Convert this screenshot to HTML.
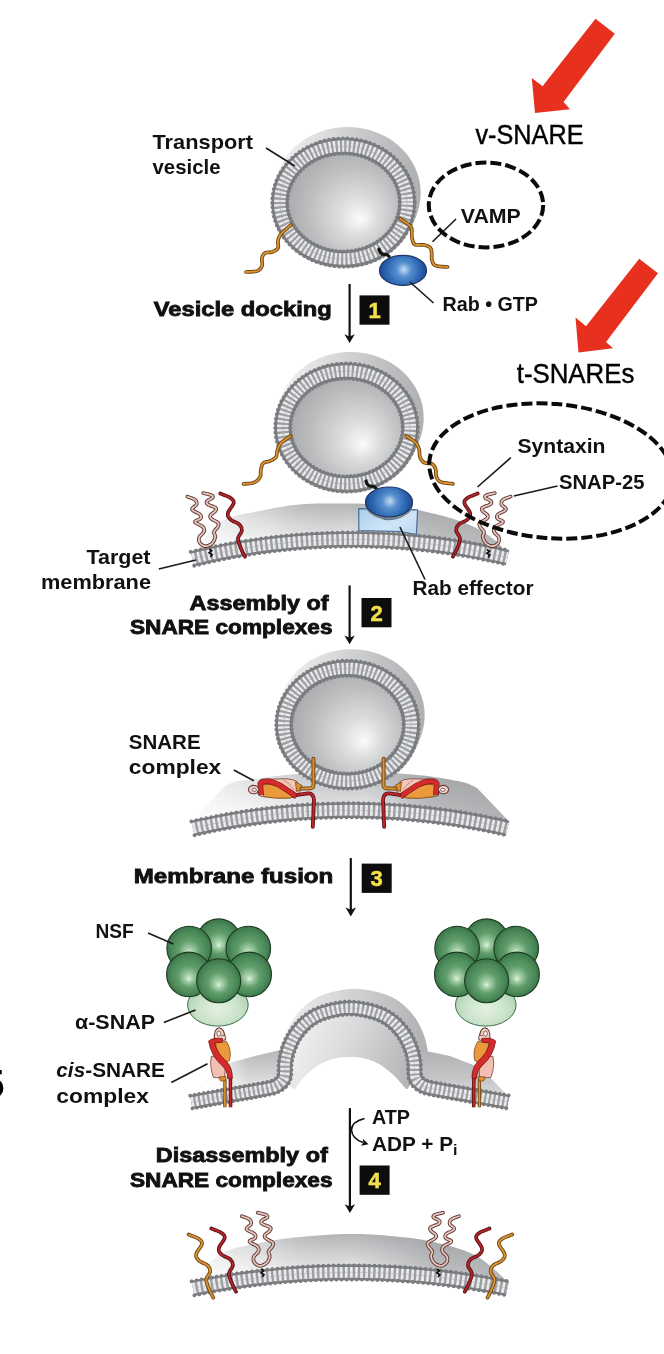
<!DOCTYPE html>
<html><head><meta charset="utf-8"><title>SNARE</title>
<style>html,body{margin:0;padding:0;background:#fff}svg{display:block;will-change:transform}</style></head>
<body>
<svg width="664" height="1354" viewBox="0 0 664 1354" font-family="'Liberation Sans', sans-serif">
<defs><linearGradient id="vs1" gradientUnits="userSpaceOnUse" x1="270.3" y1="0" x2="420.7" y2="0"><stop offset="0" stop-color="#f4f4f4"/><stop offset=".35" stop-color="#dcdddd"/><stop offset=".7" stop-color="#c2c3c4"/><stop offset="1" stop-color="#aeb0b2"/></linearGradient><radialGradient id="vi1" gradientUnits="userSpaceOnUse" cx="349.5" cy="206.5" r="76.9" fx="360.5" fy="219.5"><stop offset="0" stop-color="#fbfbfb"/><stop offset=".25" stop-color="#dcdddd"/><stop offset=".6" stop-color="#bcbdbf"/><stop offset="1" stop-color="#9d9fa1"/></radialGradient><radialGradient id="rb1" gradientUnits="userSpaceOnUse" cx="403" cy="270.4" r="26" fx="404" fy="269.4"><stop offset="0" stop-color="#c6dcf3"/><stop offset=".28" stop-color="#568fcf"/><stop offset=".62" stop-color="#2d68b4"/><stop offset="1" stop-color="#183f84"/></radialGradient><linearGradient id="vs2" gradientUnits="userSpaceOnUse" x1="273.3" y1="0" x2="423.7" y2="0"><stop offset="0" stop-color="#f4f4f4"/><stop offset=".35" stop-color="#dcdddd"/><stop offset=".7" stop-color="#c2c3c4"/><stop offset="1" stop-color="#aeb0b2"/></linearGradient><radialGradient id="vi2" gradientUnits="userSpaceOnUse" cx="352.5" cy="431.5" r="76.9" fx="363.5" fy="444.5"><stop offset="0" stop-color="#fbfbfb"/><stop offset=".25" stop-color="#dcdddd"/><stop offset=".6" stop-color="#bcbdbf"/><stop offset="1" stop-color="#9d9fa1"/></radialGradient><linearGradient id="sl2" gradientUnits="userSpaceOnUse" x1="0" y1="503" x2="0" y2="548"><stop offset="0" stop-color="#b2b4b6"/><stop offset="0.45" stop-color="#d2d3d4"/><stop offset="1" stop-color="#f4f4f4"/></linearGradient><linearGradient id="sl2o" gradientUnits="userSpaceOnUse" x1="195" y1="0" x2="505" y2="0"><stop offset="0" stop-color="#ffffff" stop-opacity="0.75"/><stop offset="0.25" stop-color="#ffffff" stop-opacity="0.25"/><stop offset="0.5" stop-color="#9a9c9f" stop-opacity="0"/><stop offset="0.75" stop-color="#8e9093" stop-opacity="0.45"/><stop offset="1" stop-color="#8e9093" stop-opacity="0.6"/></linearGradient><linearGradient id="ef" x1="0" y1="0" x2="1" y2="1"><stop offset="0" stop-color="#a9cdea"/><stop offset=".6" stop-color="#cfe5f7"/><stop offset="1" stop-color="#b7d6ef"/></linearGradient><radialGradient id="rb2" gradientUnits="userSpaceOnUse" cx="389" cy="502" r="26" fx="390" fy="501"><stop offset="0" stop-color="#c6dcf3"/><stop offset=".28" stop-color="#568fcf"/><stop offset=".62" stop-color="#2d68b4"/><stop offset="1" stop-color="#183f84"/></radialGradient><linearGradient id="sl3" gradientUnits="userSpaceOnUse" x1="0" y1="772" x2="0" y2="822"><stop offset="0" stop-color="#bcbec0"/><stop offset="0.5" stop-color="#d8d9da"/><stop offset="1" stop-color="#f6f6f6"/></linearGradient><linearGradient id="sl3o" gradientUnits="userSpaceOnUse" x1="195" y1="0" x2="505" y2="0"><stop offset="0" stop-color="#ffffff" stop-opacity="0.8"/><stop offset="0.3" stop-color="#ffffff" stop-opacity="0.3"/><stop offset="0.55" stop-color="#9a9c9f" stop-opacity="0"/><stop offset="0.75" stop-color="#8e9093" stop-opacity="0.5"/><stop offset="1" stop-color="#8e9093" stop-opacity="0.65"/></linearGradient><linearGradient id="vs3" gradientUnits="userSpaceOnUse" x1="274.3" y1="0" x2="424.7" y2="0"><stop offset="0" stop-color="#f4f4f4"/><stop offset=".35" stop-color="#dcdddd"/><stop offset=".7" stop-color="#c2c3c4"/><stop offset="1" stop-color="#aeb0b2"/></linearGradient><radialGradient id="vi3" gradientUnits="userSpaceOnUse" cx="353.5" cy="728.7" r="76.9" fx="364.5" fy="741.7"><stop offset="0" stop-color="#fbfbfb"/><stop offset=".25" stop-color="#dcdddd"/><stop offset=".6" stop-color="#bcbdbf"/><stop offset="1" stop-color="#9d9fa1"/></radialGradient><radialGradient id="nsf" cx=".5" cy=".5" r=".5" fx=".5" fy=".6"><stop offset="0" stop-color="#e2f2e3"/><stop offset=".16" stop-color="#a6d0ab"/><stop offset=".48" stop-color="#609d6b"/><stop offset=".8" stop-color="#4b8959"/><stop offset="1" stop-color="#3b7448"/></radialGradient><radialGradient id="asnap" cx=".5" cy=".6" r=".6"><stop offset="0" stop-color="#e3f1e2"/><stop offset=".6" stop-color="#c9e2c9"/><stop offset="1" stop-color="#a8cfab"/></radialGradient><linearGradient id="dm" gradientUnits="userSpaceOnUse" x1="276" y1="0" x2="430" y2="0"><stop offset="0" stop-color="#efefef"/><stop offset=".4" stop-color="#d8d9da"/><stop offset=".75" stop-color="#c0c1c3"/><stop offset="1" stop-color="#adafb1"/></linearGradient><linearGradient id="sl4a" gradientUnits="userSpaceOnUse" x1="0" y1="1050" x2="0" y2="1094"><stop offset="0" stop-color="#b4b6b8"/><stop offset="0.5" stop-color="#d0d1d2"/><stop offset="1" stop-color="#f0f0f0"/></linearGradient><linearGradient id="sl4ao" gradientUnits="userSpaceOnUse" x1="214" y1="0" x2="248" y2="0"><stop offset="0" stop-color="#ffffff" stop-opacity="1"/><stop offset="0.5" stop-color="#ffffff" stop-opacity="0.45"/><stop offset="1" stop-color="#ffffff" stop-opacity="0"/></linearGradient><linearGradient id="sl4b" gradientUnits="userSpaceOnUse" x1="0" y1="1050" x2="0" y2="1094"><stop offset="0" stop-color="#b0b2b4"/><stop offset="0.6" stop-color="#c2c3c5"/><stop offset="1" stop-color="#d6d7d8"/></linearGradient><linearGradient id="dmi" gradientUnits="userSpaceOnUse" x1="292" y1="1030" x2="408" y2="1075"><stop offset="0" stop-color="#f2f2f2"/><stop offset="0.45" stop-color="#dadbdc"/><stop offset="1" stop-color="#b4b6b8"/></linearGradient><linearGradient id="sl5" gradientUnits="userSpaceOnUse" x1="0" y1="1234" x2="0" y2="1280"><stop offset="0" stop-color="#b2b4b6"/><stop offset="0.45" stop-color="#d2d3d4"/><stop offset="1" stop-color="#f4f4f4"/></linearGradient><linearGradient id="sl5o" gradientUnits="userSpaceOnUse" x1="195" y1="0" x2="505" y2="0"><stop offset="0" stop-color="#ffffff" stop-opacity="0.75"/><stop offset="0.25" stop-color="#ffffff" stop-opacity="0.25"/><stop offset="0.5" stop-color="#9a9c9f" stop-opacity="0"/><stop offset="0.75" stop-color="#8e9093" stop-opacity="0.45"/><stop offset="1" stop-color="#8e9093" stop-opacity="0.6"/></linearGradient></defs>
<ellipse cx="347.5" cy="193" rx="73.2" ry="66" fill="url(#vs1)"/>
<ellipse cx="346.5" cy="195.4" rx="73.2" ry="66" fill="url(#vs1)"/>
<ellipse cx="345.5" cy="197.8" rx="73.2" ry="66" fill="url(#vs1)"/>
<ellipse cx="344.5" cy="200.1" rx="73.2" ry="66" fill="url(#vs1)"/>
<ellipse cx="343.5" cy="202.5" rx="73.2" ry="66" fill="url(#vs1)"/>
<ellipse cx="343.5" cy="202.5" rx="63.7" ry="56.5" fill="url(#vi1)" stroke="#7a7c7f" stroke-width="16.6"/>
<ellipse cx="343.5" cy="202.5" rx="63.7" ry="56.5" fill="none" stroke="#9c9ea1" stroke-width="11.6"/>
<ellipse cx="343.5" cy="202.5" rx="63.7" ry="56.5" fill="none" stroke="#e9eaeb" stroke-width="11.6" stroke-dasharray="2.2 2.2"/>
<ellipse cx="343.5" cy="202.5" rx="63.7" ry="56.5" fill="none" stroke="#a4a6a8" stroke-width="1" opacity=".5"/>
<ellipse cx="343.5" cy="202.5" rx="71.3" ry="64.1" fill="none" stroke="#7a7c7f" stroke-width="3.8" stroke-linecap="round" stroke-dasharray="0.01 4.6"/>
<ellipse cx="343.5" cy="202.5" rx="56.1" ry="48.9" fill="none" stroke="#7a7c7f" stroke-width="3.8" stroke-linecap="round" stroke-dasharray="0.01 3.9"/>
<path d="M291 225 L290.4 225.5 L289.5 226.3 L288.5 227.1 L287.4 228 L286.2 229.1 L285 230.1 L283.8 231.2 L282.7 232.2 L281.8 233.1 L281 234 L280.4 234.8 L279.9 235.5 L279.5 236.2 L279.2 236.9 L278.9 237.6 L278.6 238.3 L278.5 239 L278.3 239.6 L278.1 240.3 L278 241 L277.9 241.7 L277.9 242.4 L278 243.2 L278.1 243.9 L278.2 244.7 L278.3 245.4 L278.3 246.1 L278.3 246.8 L278.2 247.4 L278 248 L277.6 248.5 L277.2 249 L276.7 249.5 L276.1 250 L275.4 250.4 L274.8 250.8 L274.1 251.1 L273.4 251.4 L272.7 251.7 L272 252 L271.3 252.2 L270.6 252.3 L269.8 252.4 L269.1 252.4 L268.3 252.4 L267.6 252.5 L266.8 252.5 L266.2 252.6 L265.5 252.8 L265 253 L264.5 253.3 L264.1 253.7 L263.7 254.1 L263.4 254.6 L263.1 255.1 L262.8 255.6 L262.6 256.2 L262.3 256.7 L262.2 257.4 L262 258 L261.9 258.7 L261.9 259.5 L261.9 260.3 L262 261.1 L262.1 262 L262.2 262.9 L262.3 263.7 L262.3 264.5 L262.2 265.3 L262 266 L261.7 266.6 L261.4 267.3 L261.1 267.8 L260.6 268.4 L260.2 268.9 L259.7 269.4 L259.1 269.9 L258.5 270.3 L257.8 270.7 L257 271 L256.1 271.3 L255 271.5 L253.8 271.6 L252.5 271.7 L251.2 271.8 L249.9 271.9 L248.7 271.9 L247.6 271.9 L246.7 272 L246 272" fill="none" stroke="#6f4413" stroke-width="3.7" stroke-linecap="round" stroke-linejoin="round"/>
<path d="M291 225 L290.4 225.5 L289.5 226.3 L288.5 227.1 L287.4 228 L286.2 229.1 L285 230.1 L283.8 231.2 L282.7 232.2 L281.8 233.1 L281 234 L280.4 234.8 L279.9 235.5 L279.5 236.2 L279.2 236.9 L278.9 237.6 L278.6 238.3 L278.5 239 L278.3 239.6 L278.1 240.3 L278 241 L277.9 241.7 L277.9 242.4 L278 243.2 L278.1 243.9 L278.2 244.7 L278.3 245.4 L278.3 246.1 L278.3 246.8 L278.2 247.4 L278 248 L277.6 248.5 L277.2 249 L276.7 249.5 L276.1 250 L275.4 250.4 L274.8 250.8 L274.1 251.1 L273.4 251.4 L272.7 251.7 L272 252 L271.3 252.2 L270.6 252.3 L269.8 252.4 L269.1 252.4 L268.3 252.4 L267.6 252.5 L266.8 252.5 L266.2 252.6 L265.5 252.8 L265 253 L264.5 253.3 L264.1 253.7 L263.7 254.1 L263.4 254.6 L263.1 255.1 L262.8 255.6 L262.6 256.2 L262.3 256.7 L262.2 257.4 L262 258 L261.9 258.7 L261.9 259.5 L261.9 260.3 L262 261.1 L262.1 262 L262.2 262.9 L262.3 263.7 L262.3 264.5 L262.2 265.3 L262 266 L261.7 266.6 L261.4 267.3 L261.1 267.8 L260.6 268.4 L260.2 268.9 L259.7 269.4 L259.1 269.9 L258.5 270.3 L257.8 270.7 L257 271 L256.1 271.3 L255 271.5 L253.8 271.6 L252.5 271.7 L251.2 271.8 L249.9 271.9 L248.7 271.9 L247.6 271.9 L246.7 272 L246 272" fill="none" stroke="#dd9634" stroke-width="1.8" stroke-linecap="round" stroke-linejoin="round"/>
<path d="M400 218.5 L400.4 218.8 L401 219.2 L401.7 219.6 L402.4 220.2 L403.2 220.7 L404 221.3 L404.9 221.9 L405.6 222.5 L406.4 223 L407 223.5 L407.6 223.9 L408.1 224.4 L408.7 224.7 L409.2 225.1 L409.7 225.5 L410.1 225.9 L410.5 226.3 L410.9 226.8 L411.2 227.3 L411.5 228 L411.7 228.8 L411.8 229.6 L411.9 230.6 L411.9 231.6 L411.8 232.6 L411.8 233.6 L411.8 234.7 L411.8 235.7 L411.9 236.6 L412 237.5 L412.2 238.3 L412.3 239.2 L412.5 240 L412.7 240.8 L412.9 241.6 L413.2 242.3 L413.5 243 L413.9 243.6 L414.4 244.1 L415 244.5 L415.7 244.8 L416.5 245 L417.5 245 L418.5 245 L419.5 244.9 L420.6 244.9 L421.7 244.8 L422.7 244.8 L423.6 244.8 L424.5 245 L425.3 245.2 L426.1 245.5 L426.8 245.7 L427.6 246 L428.3 246.3 L428.9 246.7 L429.5 247.2 L430.1 247.7 L430.6 248.3 L431 249 L431.3 249.8 L431.5 250.8 L431.6 252 L431.7 253.2 L431.7 254.4 L431.7 255.7 L431.7 256.9 L431.7 258 L431.8 259.1 L432 260 L432.2 260.8 L432.4 261.5 L432.6 262.2 L432.8 262.8 L433.1 263.3 L433.4 263.9 L433.7 264.3 L434.2 264.7 L434.8 265.1 L435.5 265.5 L436.4 265.8 L437.5 266.1 L438.9 266.3 L440.3 266.5 L441.7 266.6 L443.2 266.7 L444.5 266.8 L445.7 266.9 L446.7 266.9 L447.5 267" fill="none" stroke="#6f4413" stroke-width="3.7" stroke-linecap="round" stroke-linejoin="round"/>
<path d="M400 218.5 L400.4 218.8 L401 219.2 L401.7 219.6 L402.4 220.2 L403.2 220.7 L404 221.3 L404.9 221.9 L405.6 222.5 L406.4 223 L407 223.5 L407.6 223.9 L408.1 224.4 L408.7 224.7 L409.2 225.1 L409.7 225.5 L410.1 225.9 L410.5 226.3 L410.9 226.8 L411.2 227.3 L411.5 228 L411.7 228.8 L411.8 229.6 L411.9 230.6 L411.9 231.6 L411.8 232.6 L411.8 233.6 L411.8 234.7 L411.8 235.7 L411.9 236.6 L412 237.5 L412.2 238.3 L412.3 239.2 L412.5 240 L412.7 240.8 L412.9 241.6 L413.2 242.3 L413.5 243 L413.9 243.6 L414.4 244.1 L415 244.5 L415.7 244.8 L416.5 245 L417.5 245 L418.5 245 L419.5 244.9 L420.6 244.9 L421.7 244.8 L422.7 244.8 L423.6 244.8 L424.5 245 L425.3 245.2 L426.1 245.5 L426.8 245.7 L427.6 246 L428.3 246.3 L428.9 246.7 L429.5 247.2 L430.1 247.7 L430.6 248.3 L431 249 L431.3 249.8 L431.5 250.8 L431.6 252 L431.7 253.2 L431.7 254.4 L431.7 255.7 L431.7 256.9 L431.7 258 L431.8 259.1 L432 260 L432.2 260.8 L432.4 261.5 L432.6 262.2 L432.8 262.8 L433.1 263.3 L433.4 263.9 L433.7 264.3 L434.2 264.7 L434.8 265.1 L435.5 265.5 L436.4 265.8 L437.5 266.1 L438.9 266.3 L440.3 266.5 L441.7 266.6 L443.2 266.7 L444.5 266.8 L445.7 266.9 L446.7 266.9 L447.5 267" fill="none" stroke="#dd9634" stroke-width="1.8" stroke-linecap="round" stroke-linejoin="round"/>
<path d="M379 249.2 q1 4.6 4.4 5.2 q3.8 -.6 5.6 2" fill="none" stroke="#151515" stroke-width="3.3" stroke-linecap="round"/>
<ellipse cx="403" cy="270.4" rx="23.5" ry="15" fill="url(#rb1)" stroke="#1c3766" stroke-width="1.2"/>
<path d="M410 282 L433.5 303" stroke="#1a1a1a" stroke-width="1.6" fill="none"/>
<text x="442.5" y="310.8" font-size="20" font-weight="bold" text-anchor="start" fill="#111" textLength="95.5" lengthAdjust="spacingAndGlyphs" >Rab • GTP</text>
<text x="152.5" y="149" font-size="20.5" font-weight="bold" text-anchor="start" fill="#111" textLength="100.5" lengthAdjust="spacingAndGlyphs" >Transport</text>
<text x="152.5" y="173.7" font-size="20.5" font-weight="bold" text-anchor="start" fill="#111" textLength="68" lengthAdjust="spacingAndGlyphs" >vesicle</text>
<path d="M266 148 L294.8 166" stroke="#1a1a1a" stroke-width="1.6" fill="none"/>
<path d="M456 219 L432.5 241.8" stroke="#1a1a1a" stroke-width="1.6" fill="none"/>
<text x="460.8" y="222.5" font-size="20" font-weight="bold" text-anchor="start" fill="#111" textLength="60" lengthAdjust="spacingAndGlyphs" >VAMP</text>
<ellipse cx="486" cy="205" rx="57.2" ry="42.4" fill="none" stroke="#0a0a0a" stroke-width="4" stroke-dasharray="11 4" transform="rotate(0 486 205)"/>
<path d="M595.5 18.8 L614.8 33.8 L563.5 102 L570 109.2 L535 113 L531.8 78 L542.5 86.2Z" fill="#e8301f"/>
<text x="475.5" y="143.5" font-size="28.5" font-weight="normal" text-anchor="start" fill="#000" textLength="108" lengthAdjust="spacingAndGlyphs" stroke="#000" stroke-width=".45">v-SNARE</text>
<text x="153.8" y="315.8" font-size="20.5" font-weight="bold" text-anchor="start" fill="#111" textLength="178" lengthAdjust="spacingAndGlyphs" stroke="#111" stroke-width=".85">Vesicle docking</text>
<path d="M349.6 284 L349.6 338.1" stroke="#111" stroke-width="2.2" fill="none"/>
<path d="M344.4 334.3 L349.6 336.5 L354.8 334.3 L349.6 343.1Z" fill="#111"/>
<rect x="359.5" y="295.4" width="30" height="29.3" fill="#0d0d0d"/>
<text x="374.5" y="317.9" font-size="22" font-weight="bold" text-anchor="middle" fill="#f4e04d" stroke="#f4e04d" stroke-width=".5">1</text>
<ellipse cx="350.5" cy="418" rx="73.2" ry="66" fill="url(#vs2)"/>
<ellipse cx="349.5" cy="420.4" rx="73.2" ry="66" fill="url(#vs2)"/>
<ellipse cx="348.5" cy="422.8" rx="73.2" ry="66" fill="url(#vs2)"/>
<ellipse cx="347.5" cy="425.1" rx="73.2" ry="66" fill="url(#vs2)"/>
<ellipse cx="346.5" cy="427.5" rx="73.2" ry="66" fill="url(#vs2)"/>
<ellipse cx="346.5" cy="427.5" rx="63.7" ry="56.5" fill="url(#vi2)" stroke="#7a7c7f" stroke-width="16.6"/>
<ellipse cx="346.5" cy="427.5" rx="63.7" ry="56.5" fill="none" stroke="#9c9ea1" stroke-width="11.6"/>
<ellipse cx="346.5" cy="427.5" rx="63.7" ry="56.5" fill="none" stroke="#e9eaeb" stroke-width="11.6" stroke-dasharray="2.2 2.2"/>
<ellipse cx="346.5" cy="427.5" rx="63.7" ry="56.5" fill="none" stroke="#a4a6a8" stroke-width="1" opacity=".5"/>
<ellipse cx="346.5" cy="427.5" rx="71.3" ry="64.1" fill="none" stroke="#7a7c7f" stroke-width="3.8" stroke-linecap="round" stroke-dasharray="0.01 4.6"/>
<ellipse cx="346.5" cy="427.5" rx="56.1" ry="48.9" fill="none" stroke="#7a7c7f" stroke-width="3.8" stroke-linecap="round" stroke-dasharray="0.01 3.9"/>
<path d="M290.7 436 L290.1 436.4 L289.3 437 L288.3 437.6 L287.2 438.3 L286.1 439.1 L284.9 439.9 L283.8 440.7 L282.7 441.5 L281.8 442.3 L281 443 L280.4 443.7 L279.9 444.4 L279.4 445.1 L279.1 445.8 L278.7 446.5 L278.5 447.2 L278.2 447.9 L278 448.6 L277.7 449.3 L277.5 450 L277.3 450.7 L277.1 451.4 L277 452.2 L277 452.9 L276.9 453.7 L276.8 454.4 L276.7 455.1 L276.6 455.8 L276.3 456.4 L276 457 L275.6 457.5 L275.1 458 L274.5 458.5 L273.9 458.9 L273.3 459.3 L272.7 459.7 L272 460 L271.3 460.4 L270.6 460.7 L270 461 L269.4 461.3 L268.7 461.5 L268 461.6 L267.2 461.8 L266.5 461.9 L265.8 462 L265.2 462.2 L264.6 462.4 L264 462.6 L263.5 463 L263.1 463.4 L262.7 463.9 L262.4 464.4 L262.1 465 L261.9 465.6 L261.7 466.3 L261.5 466.9 L261.3 467.6 L261.2 468.3 L261 469 L260.9 469.7 L260.8 470.5 L260.7 471.3 L260.7 472.2 L260.7 473 L260.7 473.9 L260.6 474.7 L260.5 475.5 L260.3 476.3 L260 477 L259.6 477.7 L259.2 478.3 L258.7 479 L258.2 479.6 L257.6 480.2 L257 480.7 L256.3 481.2 L255.6 481.7 L254.8 482.1 L254 482.5 L253.1 482.8 L252 483.1 L250.8 483.3 L249.6 483.5 L248.4 483.6 L247.2 483.7 L246 483.8 L245 483.9 L244.1 483.9 L243.5 484" fill="none" stroke="#6f4413" stroke-width="3.7" stroke-linecap="round" stroke-linejoin="round"/>
<path d="M290.7 436 L290.1 436.4 L289.3 437 L288.3 437.6 L287.2 438.3 L286.1 439.1 L284.9 439.9 L283.8 440.7 L282.7 441.5 L281.8 442.3 L281 443 L280.4 443.7 L279.9 444.4 L279.4 445.1 L279.1 445.8 L278.7 446.5 L278.5 447.2 L278.2 447.9 L278 448.6 L277.7 449.3 L277.5 450 L277.3 450.7 L277.1 451.4 L277 452.2 L277 452.9 L276.9 453.7 L276.8 454.4 L276.7 455.1 L276.6 455.8 L276.3 456.4 L276 457 L275.6 457.5 L275.1 458 L274.5 458.5 L273.9 458.9 L273.3 459.3 L272.7 459.7 L272 460 L271.3 460.4 L270.6 460.7 L270 461 L269.4 461.3 L268.7 461.5 L268 461.6 L267.2 461.8 L266.5 461.9 L265.8 462 L265.2 462.2 L264.6 462.4 L264 462.6 L263.5 463 L263.1 463.4 L262.7 463.9 L262.4 464.4 L262.1 465 L261.9 465.6 L261.7 466.3 L261.5 466.9 L261.3 467.6 L261.2 468.3 L261 469 L260.9 469.7 L260.8 470.5 L260.7 471.3 L260.7 472.2 L260.7 473 L260.7 473.9 L260.6 474.7 L260.5 475.5 L260.3 476.3 L260 477 L259.6 477.7 L259.2 478.3 L258.7 479 L258.2 479.6 L257.6 480.2 L257 480.7 L256.3 481.2 L255.6 481.7 L254.8 482.1 L254 482.5 L253.1 482.8 L252 483.1 L250.8 483.3 L249.6 483.5 L248.4 483.6 L247.2 483.7 L246 483.8 L245 483.9 L244.1 483.9 L243.5 484" fill="none" stroke="#dd9634" stroke-width="1.8" stroke-linecap="round" stroke-linejoin="round"/>
<path d="M406 436 L406.6 436.4 L407.3 436.8 L408.2 437.3 L409.2 437.9 L410.2 438.6 L411.3 439.2 L412.4 439.9 L413.4 440.6 L414.3 441.3 L415 442 L415.6 442.7 L416.2 443.3 L416.7 444 L417.1 444.7 L417.5 445.4 L417.9 446.1 L418.2 446.8 L418.5 447.5 L418.7 448.3 L419 449 L419.2 449.8 L419.3 450.6 L419.4 451.4 L419.5 452.2 L419.5 453.1 L419.5 453.9 L419.6 454.8 L419.7 455.5 L419.8 456.3 L420 457 L420.3 457.7 L420.5 458.3 L420.9 459 L421.2 459.6 L421.6 460.2 L422 460.7 L422.4 461.2 L422.9 461.7 L423.4 462.1 L424 462.5 L424.7 462.8 L425.4 463 L426.2 463.1 L427.1 463.2 L428 463.3 L428.9 463.3 L429.8 463.4 L430.6 463.5 L431.4 463.7 L432 464 L432.5 464.3 L433 464.7 L433.5 465.1 L433.8 465.6 L434.2 466.1 L434.5 466.6 L434.8 467.2 L435 467.8 L435.3 468.4 L435.5 469 L435.7 469.7 L435.8 470.5 L435.9 471.3 L435.9 472.1 L435.9 473 L436 473.9 L436 474.7 L436.1 475.5 L436.3 476.3 L436.5 477 L436.8 477.6 L437.1 478.2 L437.4 478.8 L437.7 479.4 L438.1 479.9 L438.5 480.4 L439 480.8 L439.6 481.3 L440.2 481.6 L441 482 L442 482.3 L443.1 482.6 L444.4 482.8 L445.8 483 L447.3 483.2 L448.7 483.4 L450 483.5 L451.2 483.6 L452.3 483.7 L453 483.8" fill="none" stroke="#6f4413" stroke-width="3.7" stroke-linecap="round" stroke-linejoin="round"/>
<path d="M406 436 L406.6 436.4 L407.3 436.8 L408.2 437.3 L409.2 437.9 L410.2 438.6 L411.3 439.2 L412.4 439.9 L413.4 440.6 L414.3 441.3 L415 442 L415.6 442.7 L416.2 443.3 L416.7 444 L417.1 444.7 L417.5 445.4 L417.9 446.1 L418.2 446.8 L418.5 447.5 L418.7 448.3 L419 449 L419.2 449.8 L419.3 450.6 L419.4 451.4 L419.5 452.2 L419.5 453.1 L419.5 453.9 L419.6 454.8 L419.7 455.5 L419.8 456.3 L420 457 L420.3 457.7 L420.5 458.3 L420.9 459 L421.2 459.6 L421.6 460.2 L422 460.7 L422.4 461.2 L422.9 461.7 L423.4 462.1 L424 462.5 L424.7 462.8 L425.4 463 L426.2 463.1 L427.1 463.2 L428 463.3 L428.9 463.3 L429.8 463.4 L430.6 463.5 L431.4 463.7 L432 464 L432.5 464.3 L433 464.7 L433.5 465.1 L433.8 465.6 L434.2 466.1 L434.5 466.6 L434.8 467.2 L435 467.8 L435.3 468.4 L435.5 469 L435.7 469.7 L435.8 470.5 L435.9 471.3 L435.9 472.1 L435.9 473 L436 473.9 L436 474.7 L436.1 475.5 L436.3 476.3 L436.5 477 L436.8 477.6 L437.1 478.2 L437.4 478.8 L437.7 479.4 L438.1 479.9 L438.5 480.4 L439 480.8 L439.6 481.3 L440.2 481.6 L441 482 L442 482.3 L443.1 482.6 L444.4 482.8 L445.8 483 L447.3 483.2 L448.7 483.4 L450 483.5 L451.2 483.6 L452.3 483.7 L453 483.8" fill="none" stroke="#dd9634" stroke-width="1.8" stroke-linecap="round" stroke-linejoin="round"/>
<path d="M193.5 551 L195.6 548.6 L198.4 545.3 L201.7 541.3 L205.4 536.9 L209.4 532.5 L213.5 528.2 L217.8 524.5 L222 521.5 L226.3 519.3 L230.8 517.4 L235.5 516 L240.3 514.8 L245.2 513.8 L250.1 512.9 L255.1 512 L260 511 L264.8 510 L269.6 509 L274.4 508 L279.2 507.2 L284.2 506.4 L289.2 505.6 L294.5 505 L300 504.5 L305.8 504.1 L312 503.8 L318.5 503.6 L325 503.5 L331.5 503.4 L338 503.4 L344.2 503.4 L350 503.5 L355.6 503.6 L361 503.7 L366.3 503.9 L371.4 504.2 L376.4 504.4 L381.1 504.8 L385.7 505.1 L390 505.5 L394 505.9 L397.6 506.4 L401 506.9 L404.2 507.4 L407.4 507.9 L410.6 508.6 L413.9 509.3 L417.5 510 L421.4 510.8 L425.4 511.7 L429.7 512.7 L433.9 513.7 L438.1 514.7 L442.3 515.8 L446.3 516.9 L450 518 L453.5 519.1 L457 520.2 L460.3 521.4 L463.5 522.6 L466.5 523.8 L469.5 525 L472.3 526.3 L475 527.5 L477.6 528.8 L480 530.1 L482.3 531.5 L484.5 532.8 L486.6 534.2 L488.5 535.5 L490.3 536.8 L492 538 L493.6 539.2 L495 540.4 L496.4 541.5 L497.6 542.7 L498.6 543.7 L499.6 544.6 L500.4 545.4 L501 546 L507.5 557.6 L504.1 556.8 L500.6 556 L497.2 555.2 L493.7 554.5 L490.3 553.8 L486.8 553 L483.3 552.3 L479.9 551.7 L476.4 551 L472.9 550.4 L469.4 549.7 L466 549.1 L462.5 548.5 L459 548 L455.5 547.4 L452 546.9 L448.5 546.4 L445 545.9 L441.5 545.4 L438 545 L434.5 544.5 L431 544.1 L427.5 543.7 L424 543.3 L420.5 542.9 L417 542.6 L413.4 542.3 L409.9 542 L406.4 541.7 L402.9 541.4 L399.4 541.1 L395.8 540.9 L392.3 540.7 L388.8 540.5 L385.2 540.3 L381.7 540.1 L378.2 540 L374.7 539.9 L371.1 539.8 L367.6 539.7 L364.1 539.6 L360.5 539.5 L357 539.5 L353.5 539.5 L349.9 539.5 L346.4 539.5 L342.9 539.6 L339.3 539.6 L335.8 539.7 L332.3 539.8 L328.7 539.9 L325.2 540 L321.7 540.2 L318.1 540.4 L314.6 540.6 L311.1 540.8 L307.6 541 L304 541.2 L300.5 541.5 L297 541.8 L293.5 542.1 L290 542.4 L286.4 542.7 L282.9 543.1 L279.4 543.5 L275.9 543.9 L272.4 544.3 L268.9 544.7 L265.4 545.2 L261.9 545.6 L258.4 546.1 L254.9 546.6 L251.4 547.1 L247.9 547.7 L244.4 548.2 L240.9 548.8 L237.4 549.4 L234 550 L230.5 550.7 L227 551.3 L223.6 552 L220.1 552.7 L216.6 553.4 L213.2 554.1 L209.7 554.8 L206.3 555.6 L202.8 556.4 L199.4 557.2 L195.9 558 L192.5 558.8Z" fill="url(#sl2)"/>
<path d="M193.5 551 L195.6 548.6 L198.4 545.3 L201.7 541.3 L205.4 536.9 L209.4 532.5 L213.5 528.2 L217.8 524.5 L222 521.5 L226.3 519.3 L230.8 517.4 L235.5 516 L240.3 514.8 L245.2 513.8 L250.1 512.9 L255.1 512 L260 511 L264.8 510 L269.6 509 L274.4 508 L279.2 507.2 L284.2 506.4 L289.2 505.6 L294.5 505 L300 504.5 L305.8 504.1 L312 503.8 L318.5 503.6 L325 503.5 L331.5 503.4 L338 503.4 L344.2 503.4 L350 503.5 L355.6 503.6 L361 503.7 L366.3 503.9 L371.4 504.2 L376.4 504.4 L381.1 504.8 L385.7 505.1 L390 505.5 L394 505.9 L397.6 506.4 L401 506.9 L404.2 507.4 L407.4 507.9 L410.6 508.6 L413.9 509.3 L417.5 510 L421.4 510.8 L425.4 511.7 L429.7 512.7 L433.9 513.7 L438.1 514.7 L442.3 515.8 L446.3 516.9 L450 518 L453.5 519.1 L457 520.2 L460.3 521.4 L463.5 522.6 L466.5 523.8 L469.5 525 L472.3 526.3 L475 527.5 L477.6 528.8 L480 530.1 L482.3 531.5 L484.5 532.8 L486.6 534.2 L488.5 535.5 L490.3 536.8 L492 538 L493.6 539.2 L495 540.4 L496.4 541.5 L497.6 542.7 L498.6 543.7 L499.6 544.6 L500.4 545.4 L501 546 L507.5 557.6 L504.1 556.8 L500.6 556 L497.2 555.2 L493.7 554.5 L490.3 553.8 L486.8 553 L483.3 552.3 L479.9 551.7 L476.4 551 L472.9 550.4 L469.4 549.7 L466 549.1 L462.5 548.5 L459 548 L455.5 547.4 L452 546.9 L448.5 546.4 L445 545.9 L441.5 545.4 L438 545 L434.5 544.5 L431 544.1 L427.5 543.7 L424 543.3 L420.5 542.9 L417 542.6 L413.4 542.3 L409.9 542 L406.4 541.7 L402.9 541.4 L399.4 541.1 L395.8 540.9 L392.3 540.7 L388.8 540.5 L385.2 540.3 L381.7 540.1 L378.2 540 L374.7 539.9 L371.1 539.8 L367.6 539.7 L364.1 539.6 L360.5 539.5 L357 539.5 L353.5 539.5 L349.9 539.5 L346.4 539.5 L342.9 539.6 L339.3 539.6 L335.8 539.7 L332.3 539.8 L328.7 539.9 L325.2 540 L321.7 540.2 L318.1 540.4 L314.6 540.6 L311.1 540.8 L307.6 541 L304 541.2 L300.5 541.5 L297 541.8 L293.5 542.1 L290 542.4 L286.4 542.7 L282.9 543.1 L279.4 543.5 L275.9 543.9 L272.4 544.3 L268.9 544.7 L265.4 545.2 L261.9 545.6 L258.4 546.1 L254.9 546.6 L251.4 547.1 L247.9 547.7 L244.4 548.2 L240.9 548.8 L237.4 549.4 L234 550 L230.5 550.7 L227 551.3 L223.6 552 L220.1 552.7 L216.6 553.4 L213.2 554.1 L209.7 554.8 L206.3 555.6 L202.8 556.4 L199.4 557.2 L195.9 558 L192.5 558.8Z" fill="url(#sl2o)"/>
<path d="M358.8 508.6 L366.5 508.8 Q389 530 411.5 509.6 L417.6 510 L416.4 534.6 L400 531.5 L358.8 530.6Z" fill="url(#ef)" stroke="#456a96" stroke-width="1.2"/>
<ellipse cx="389" cy="504.3" rx="23.8" ry="15.2" fill="#7f858c"/>
<path d="M366 481 q1 4.6 4.4 5.2 q3.8 -.6 5.6 2" fill="none" stroke="#151515" stroke-width="3.3" stroke-linecap="round"/>
<ellipse cx="389" cy="502" rx="23.5" ry="15" fill="url(#rb2)" stroke="#1c3766" stroke-width="1.2"/>
<path d="M192.5 558.8 L195.9 558 L199.4 557.2 L202.8 556.4 L206.3 555.6 L209.7 554.8 L213.2 554.1 L216.6 553.4 L220.1 552.7 L223.6 552 L227 551.3 L230.5 550.7 L234 550 L237.4 549.4 L240.9 548.8 L244.4 548.2 L247.9 547.7 L251.4 547.1 L254.9 546.6 L258.4 546.1 L261.9 545.6 L265.4 545.2 L268.9 544.7 L272.4 544.3 L275.9 543.9 L279.4 543.5 L282.9 543.1 L286.4 542.7 L290 542.4 L293.5 542.1 L297 541.8 L300.5 541.5 L304 541.2 L307.6 541 L311.1 540.8 L314.6 540.6 L318.1 540.4 L321.7 540.2 L325.2 540 L328.7 539.9 L332.3 539.8 L335.8 539.7 L339.3 539.6 L342.9 539.6 L346.4 539.5 L349.9 539.5 L353.5 539.5 L357 539.5 L360.5 539.5 L364.1 539.6 L367.6 539.7 L371.1 539.8 L374.7 539.9 L378.2 540 L381.7 540.1 L385.2 540.3 L388.8 540.5 L392.3 540.7 L395.8 540.9 L399.4 541.1 L402.9 541.4 L406.4 541.7 L409.9 542 L413.4 542.3 L417 542.6 L420.5 542.9 L424 543.3 L427.5 543.7 L431 544.1 L434.5 544.5 L438 545 L441.5 545.4 L445 545.9 L448.5 546.4 L452 546.9 L455.5 547.4 L459 548 L462.5 548.5 L466 549.1 L469.4 549.7 L472.9 550.4 L476.4 551 L479.9 551.7 L483.3 552.3 L486.8 553 L490.3 553.8 L493.7 554.5 L497.2 555.2 L500.6 556 L504.1 556.8 L507.5 557.6" fill="none" stroke="#7a7c7f" stroke-width="15.6"/>
<path d="M192.5 558.8 L195.9 558 L199.4 557.2 L202.8 556.4 L206.3 555.6 L209.7 554.8 L213.2 554.1 L216.6 553.4 L220.1 552.7 L223.6 552 L227 551.3 L230.5 550.7 L234 550 L237.4 549.4 L240.9 548.8 L244.4 548.2 L247.9 547.7 L251.4 547.1 L254.9 546.6 L258.4 546.1 L261.9 545.6 L265.4 545.2 L268.9 544.7 L272.4 544.3 L275.9 543.9 L279.4 543.5 L282.9 543.1 L286.4 542.7 L290 542.4 L293.5 542.1 L297 541.8 L300.5 541.5 L304 541.2 L307.6 541 L311.1 540.8 L314.6 540.6 L318.1 540.4 L321.7 540.2 L325.2 540 L328.7 539.9 L332.3 539.8 L335.8 539.7 L339.3 539.6 L342.9 539.6 L346.4 539.5 L349.9 539.5 L353.5 539.5 L357 539.5 L360.5 539.5 L364.1 539.6 L367.6 539.7 L371.1 539.8 L374.7 539.9 L378.2 540 L381.7 540.1 L385.2 540.3 L388.8 540.5 L392.3 540.7 L395.8 540.9 L399.4 541.1 L402.9 541.4 L406.4 541.7 L409.9 542 L413.4 542.3 L417 542.6 L420.5 542.9 L424 543.3 L427.5 543.7 L431 544.1 L434.5 544.5 L438 545 L441.5 545.4 L445 545.9 L448.5 546.4 L452 546.9 L455.5 547.4 L459 548 L462.5 548.5 L466 549.1 L469.4 549.7 L472.9 550.4 L476.4 551 L479.9 551.7 L483.3 552.3 L486.8 553 L490.3 553.8 L493.7 554.5 L497.2 555.2 L500.6 556 L504.1 556.8 L507.5 557.6" fill="none" stroke="#9c9ea1" stroke-width="11"/>
<path d="M192.5 558.8 L195.9 558 L199.4 557.2 L202.8 556.4 L206.3 555.6 L209.7 554.8 L213.2 554.1 L216.6 553.4 L220.1 552.7 L223.6 552 L227 551.3 L230.5 550.7 L234 550 L237.4 549.4 L240.9 548.8 L244.4 548.2 L247.9 547.7 L251.4 547.1 L254.9 546.6 L258.4 546.1 L261.9 545.6 L265.4 545.2 L268.9 544.7 L272.4 544.3 L275.9 543.9 L279.4 543.5 L282.9 543.1 L286.4 542.7 L290 542.4 L293.5 542.1 L297 541.8 L300.5 541.5 L304 541.2 L307.6 541 L311.1 540.8 L314.6 540.6 L318.1 540.4 L321.7 540.2 L325.2 540 L328.7 539.9 L332.3 539.8 L335.8 539.7 L339.3 539.6 L342.9 539.6 L346.4 539.5 L349.9 539.5 L353.5 539.5 L357 539.5 L360.5 539.5 L364.1 539.6 L367.6 539.7 L371.1 539.8 L374.7 539.9 L378.2 540 L381.7 540.1 L385.2 540.3 L388.8 540.5 L392.3 540.7 L395.8 540.9 L399.4 541.1 L402.9 541.4 L406.4 541.7 L409.9 542 L413.4 542.3 L417 542.6 L420.5 542.9 L424 543.3 L427.5 543.7 L431 544.1 L434.5 544.5 L438 545 L441.5 545.4 L445 545.9 L448.5 546.4 L452 546.9 L455.5 547.4 L459 548 L462.5 548.5 L466 549.1 L469.4 549.7 L472.9 550.4 L476.4 551 L479.9 551.7 L483.3 552.3 L486.8 553 L490.3 553.8 L493.7 554.5 L497.2 555.2 L500.6 556 L504.1 556.8 L507.5 557.6" fill="none" stroke="#e9eaeb" stroke-width="11" stroke-dasharray="2.7 2.4"/>
<path d="M192.5 558.8 L195.9 558 L199.4 557.2 L202.8 556.4 L206.3 555.6 L209.7 554.8 L213.2 554.1 L216.6 553.4 L220.1 552.7 L223.6 552 L227 551.3 L230.5 550.7 L234 550 L237.4 549.4 L240.9 548.8 L244.4 548.2 L247.9 547.7 L251.4 547.1 L254.9 546.6 L258.4 546.1 L261.9 545.6 L265.4 545.2 L268.9 544.7 L272.4 544.3 L275.9 543.9 L279.4 543.5 L282.9 543.1 L286.4 542.7 L290 542.4 L293.5 542.1 L297 541.8 L300.5 541.5 L304 541.2 L307.6 541 L311.1 540.8 L314.6 540.6 L318.1 540.4 L321.7 540.2 L325.2 540 L328.7 539.9 L332.3 539.8 L335.8 539.7 L339.3 539.6 L342.9 539.6 L346.4 539.5 L349.9 539.5 L353.5 539.5 L357 539.5 L360.5 539.5 L364.1 539.6 L367.6 539.7 L371.1 539.8 L374.7 539.9 L378.2 540 L381.7 540.1 L385.2 540.3 L388.8 540.5 L392.3 540.7 L395.8 540.9 L399.4 541.1 L402.9 541.4 L406.4 541.7 L409.9 542 L413.4 542.3 L417 542.6 L420.5 542.9 L424 543.3 L427.5 543.7 L431 544.1 L434.5 544.5 L438 545 L441.5 545.4 L445 545.9 L448.5 546.4 L452 546.9 L455.5 547.4 L459 548 L462.5 548.5 L466 549.1 L469.4 549.7 L472.9 550.4 L476.4 551 L479.9 551.7 L483.3 552.3 L486.8 553 L490.3 553.8 L493.7 554.5 L497.2 555.2 L500.6 556 L504.1 556.8 L507.5 557.6" fill="none" stroke="#a4a6a8" stroke-width="1" opacity=".4"/>
<path d="M190.8 551.9 L194.3 551.1 L197.8 550.2 L201.2 549.4 L204.7 548.7 L208.2 547.9 L211.7 547.1 L215.2 546.4 L218.7 545.7 L222.2 545 L225.7 544.3 L229.2 543.7 L232.7 543 L236.2 542.4 L239.8 541.8 L243.3 541.2 L246.8 540.7 L250.3 540.1 L253.9 539.6 L257.4 539.1 L260.9 538.6 L264.5 538.1 L268 537.7 L271.6 537.2 L275.1 536.8 L278.6 536.4 L282.2 536 L285.7 535.7 L289.3 535.3 L292.9 535 L296.4 534.7 L300 534.4 L303.5 534.2 L307.1 533.9 L310.7 533.7 L314.2 533.5 L317.8 533.3 L321.4 533.1 L324.9 533 L328.5 532.8 L332.1 532.7 L335.6 532.6 L339.2 532.5 L342.8 532.5 L346.3 532.4 L349.9 532.4 L353.5 532.4 L357 532.4 L360.6 532.4 L364.2 532.5 L367.8 532.6 L371.3 532.7 L374.9 532.8 L378.5 532.9 L382 533 L385.6 533.2 L389.2 533.4 L392.7 533.6 L396.3 533.8 L399.8 534 L403.4 534.3 L407 534.6 L410.5 534.9 L414.1 535.2 L417.6 535.5 L421.2 535.9 L424.7 536.2 L428.3 536.6 L431.8 537 L435.4 537.5 L438.9 537.9 L442.5 538.4 L446 538.9 L449.5 539.4 L453.1 539.9 L456.6 540.4 L460.1 541 L463.6 541.5 L467.2 542.1 L470.7 542.7 L474.2 543.4 L477.7 544 L481.2 544.7 L484.7 545.4 L488.2 546.1 L491.7 546.8 L495.2 547.5 L498.7 548.3 L502.2 549.1 L505.7 549.9 L509.1 550.7" fill="none" stroke="#7a7c7f" stroke-width="3.8" stroke-linecap="round" stroke-dasharray="0.01 5.1"/>
<path d="M194.2 565.7 L197.6 564.9 L201 564.1 L204.4 563.3 L207.8 562.5 L211.2 561.8 L214.6 561 L218.1 560.3 L221.5 559.6 L224.9 558.9 L228.3 558.3 L231.8 557.6 L235.2 557 L238.7 556.4 L242.1 555.8 L245.6 555.2 L249 554.7 L252.5 554.2 L255.9 553.6 L259.4 553.1 L262.8 552.7 L266.3 552.2 L269.8 551.8 L273.2 551.3 L276.7 550.9 L280.2 550.5 L283.7 550.2 L287.1 549.8 L290.6 549.5 L294.1 549.2 L297.6 548.9 L301.1 548.6 L304.6 548.3 L308 548.1 L311.5 547.9 L315 547.7 L318.5 547.5 L322 547.3 L325.5 547.1 L329 547 L332.5 546.9 L336 546.8 L339.5 546.7 L343 546.7 L346.5 546.6 L350 546.6 L353.5 546.6 L356.9 546.6 L360.4 546.6 L363.9 546.7 L367.4 546.8 L370.9 546.9 L374.4 547 L377.9 547.1 L381.4 547.2 L384.9 547.4 L388.4 547.6 L391.9 547.8 L395.4 548 L398.9 548.2 L402.3 548.5 L405.8 548.7 L409.3 549 L412.8 549.3 L416.3 549.7 L419.8 550 L423.2 550.4 L426.7 550.7 L430.2 551.1 L433.6 551.6 L437.1 552 L440.6 552.5 L444 552.9 L447.5 553.4 L451 553.9 L454.4 554.4 L457.9 555 L461.3 555.6 L464.8 556.1 L468.2 556.7 L471.7 557.4 L475.1 558 L478.5 558.6 L482 559.3 L485.4 560 L488.8 560.7 L492.2 561.4 L495.6 562.2 L499.1 562.9 L502.5 563.7 L505.9 564.5" fill="none" stroke="#7a7c7f" stroke-width="3.8" stroke-linecap="round" stroke-dasharray="0.01 5.1"/>
<path d="M187.4 496.6 L188.3 496.9 L189.6 497.4 L191.1 497.9 L192.6 498.5 L194 499.1 L195 499.8 L195.7 500.5 L196.2 501.2 L196.5 502 L196.7 502.9 L196.7 503.7 L196.5 504.5 L196 505.3 L195 506.1 L193.8 507 L192.8 507.8 L192.1 508.7 L192 509.5 L192.7 510.3 L194 511.2 L195.7 512 L197.4 512.8 L199 513.6 L200 514.4 L200.6 515.1 L200.9 515.8 L201.1 516.5 L201.1 517.2 L200.9 517.9 L200.5 518.5 L199.8 519.1 L198.6 519.7 L197.3 520.2 L196.1 520.7 L195.2 521.3 L195 522 L195.6 522.7 L196.9 523.6 L198.6 524.4 L200.4 525.3 L201.9 526.1 L203 527 L203.6 527.8 L204 528.7 L204.2 529.5 L204.2 530.3 L204.1 531.2 L203.8 532 L203.3 532.8 L202.5 533.6 L201.6 534.5 L200.7 535.3 L199.9 536.1 L199.4 537 L199.1 537.9 L198.9 538.9 L198.9 539.8 L199 540.8 L199.2 541.7 L199.6 542.5 L200.2 543.3 L201 544.1 L201.9 544.9 L202.9 545.5 L203.9 546 L205 546.2 L206.1 546.2 L207.4 545.9 L208.6 545.5 L209.9 544.9 L211 544.2 L212 543.5 L212.8 542.6 L213.5 541.6 L214.1 540.4 L214.6 539.2 L215 538 L215.2 537 L215.2 536.1 L214.9 535.2 L214.6 534.4 L214.2 533.6 L214 532.8 L214 532 L214.4 531.2 L215 530.3 L215.7 529.4 L216.5 528.6 L217.2 527.8 L217.7 527 L218.1 526.3 L218.4 525.6 L218.6 524.9 L218.7 524.3 L218.6 523.7 L218.2 523 L217.4 522.3 L216.3 521.6 L214.9 520.9 L213.5 520.1 L212.3 519.5 L211.4 518.8 L210.8 518.2 L210.4 517.6 L210.2 517.1 L210.1 516.6 L210.2 516 L210.4 515.4 L210.9 514.7 L211.7 514 L212.7 513.3 L213.7 512.6 L214.6 511.9 L215.2 511.2 L215.6 510.6 L216 510 L216.2 509.5 L216.3 508.9 L216.1 508.4 L215.6 507.8 L214.7 507.2 L213.3 506.6 L211.6 506 L210 505.4 L208.6 504.8 L207.6 504.2 L207 503.6 L206.7 503.1 L206.6 502.6 L206.6 502 L206.8 501.5 L207.2 501 L207.9 500.5 L208.8 499.9 L210 499.4 L211.2 498.9 L212.1 498.4 L212.7 497.9 L213 497.4 L213 496.9 L212.9 496.5 L212.6 496 L212.1 495.6 L211.4 495.2 L210.3 494.8 L208.9 494.4 L207.2 494 L205.6 493.6 L204.2 493.3 L203.2 493.1" fill="none" stroke="#5e3a36" stroke-width="3.7" stroke-linecap="round" stroke-linejoin="round"/>
<path d="M187.4 496.6 L188.3 496.9 L189.6 497.4 L191.1 497.9 L192.6 498.5 L194 499.1 L195 499.8 L195.7 500.5 L196.2 501.2 L196.5 502 L196.7 502.9 L196.7 503.7 L196.5 504.5 L196 505.3 L195 506.1 L193.8 507 L192.8 507.8 L192.1 508.7 L192 509.5 L192.7 510.3 L194 511.2 L195.7 512 L197.4 512.8 L199 513.6 L200 514.4 L200.6 515.1 L200.9 515.8 L201.1 516.5 L201.1 517.2 L200.9 517.9 L200.5 518.5 L199.8 519.1 L198.6 519.7 L197.3 520.2 L196.1 520.7 L195.2 521.3 L195 522 L195.6 522.7 L196.9 523.6 L198.6 524.4 L200.4 525.3 L201.9 526.1 L203 527 L203.6 527.8 L204 528.7 L204.2 529.5 L204.2 530.3 L204.1 531.2 L203.8 532 L203.3 532.8 L202.5 533.6 L201.6 534.5 L200.7 535.3 L199.9 536.1 L199.4 537 L199.1 537.9 L198.9 538.9 L198.9 539.8 L199 540.8 L199.2 541.7 L199.6 542.5 L200.2 543.3 L201 544.1 L201.9 544.9 L202.9 545.5 L203.9 546 L205 546.2 L206.1 546.2 L207.4 545.9 L208.6 545.5 L209.9 544.9 L211 544.2 L212 543.5 L212.8 542.6 L213.5 541.6 L214.1 540.4 L214.6 539.2 L215 538 L215.2 537 L215.2 536.1 L214.9 535.2 L214.6 534.4 L214.2 533.6 L214 532.8 L214 532 L214.4 531.2 L215 530.3 L215.7 529.4 L216.5 528.6 L217.2 527.8 L217.7 527 L218.1 526.3 L218.4 525.6 L218.6 524.9 L218.7 524.3 L218.6 523.7 L218.2 523 L217.4 522.3 L216.3 521.6 L214.9 520.9 L213.5 520.1 L212.3 519.5 L211.4 518.8 L210.8 518.2 L210.4 517.6 L210.2 517.1 L210.1 516.6 L210.2 516 L210.4 515.4 L210.9 514.7 L211.7 514 L212.7 513.3 L213.7 512.6 L214.6 511.9 L215.2 511.2 L215.6 510.6 L216 510 L216.2 509.5 L216.3 508.9 L216.1 508.4 L215.6 507.8 L214.7 507.2 L213.3 506.6 L211.6 506 L210 505.4 L208.6 504.8 L207.6 504.2 L207 503.6 L206.7 503.1 L206.6 502.6 L206.6 502 L206.8 501.5 L207.2 501 L207.9 500.5 L208.8 499.9 L210 499.4 L211.2 498.9 L212.1 498.4 L212.7 497.9 L213 497.4 L213 496.9 L212.9 496.5 L212.6 496 L212.1 495.6 L211.4 495.2 L210.3 494.8 L208.9 494.4 L207.2 494 L205.6 493.6 L204.2 493.3 L203.2 493.1" fill="none" stroke="#e9c6bd" stroke-width="1.8" stroke-linecap="round" stroke-linejoin="round"/>
<path d="M209.3 549 l2.4 1.8 l-2.6 2 l3 1.9 l-1.8 2.2" fill="none" stroke="#111" stroke-width="1.7"/>
<path d="M220.3 493.5 L220.9 493.8 L221.8 494.1 L222.8 494.5 L223.9 494.9 L225.2 495.4 L226.4 495.9 L227.6 496.4 L228.7 496.9 L229.6 497.4 L230.4 497.9 L231 498.4 L231.6 498.8 L232.1 499.2 L232.6 499.6 L233 500.1 L233.3 500.6 L233.5 501.1 L233.6 501.6 L233.7 502.3 L233.6 503 L233.4 503.8 L232.9 504.8 L232.3 505.8 L231.6 506.9 L230.8 508 L230 509.1 L229.3 510.2 L228.7 511.2 L228.2 512.2 L227.9 513.1 L227.8 513.9 L227.8 514.6 L227.8 515.3 L228 516 L228.2 516.6 L228.5 517.1 L228.9 517.7 L229.4 518.3 L229.9 518.8 L230.4 519.4 L231.1 520 L231.9 520.5 L232.8 521 L233.8 521.5 L234.8 521.9 L235.9 522.4 L236.9 522.9 L237.8 523.4 L238.6 523.9 L239.3 524.5 L239.8 525.1 L240.3 525.7 L240.7 526.3 L241.1 526.9 L241.3 527.5 L241.6 528.1 L241.7 528.8 L241.8 529.4 L241.8 530.1 L241.8 530.8 L241.6 531.5 L241.3 532.2 L240.9 532.9 L240.4 533.7 L239.9 534.4 L239.4 535.2 L238.9 536 L238.5 536.8 L238.2 537.6 L238 538.4 L238 539.2 L238.1 540.1 L238.2 541 L238.5 541.8 L238.7 542.7 L239.1 543.6 L239.4 544.6 L239.8 545.5 L240.1 546.4 L240.5 547.3 L240.9 548.3 L241.3 549.3 L241.8 550.4 L242.4 551.5 L242.9 552.6 L243.4 553.6 L243.9 554.6 L244.4 555.4 L244.7 556.1 L245 556.7" fill="none" stroke="#571012" stroke-width="3.7" stroke-linecap="round" stroke-linejoin="round"/>
<path d="M220.3 493.5 L220.9 493.8 L221.8 494.1 L222.8 494.5 L223.9 494.9 L225.2 495.4 L226.4 495.9 L227.6 496.4 L228.7 496.9 L229.6 497.4 L230.4 497.9 L231 498.4 L231.6 498.8 L232.1 499.2 L232.6 499.6 L233 500.1 L233.3 500.6 L233.5 501.1 L233.6 501.6 L233.7 502.3 L233.6 503 L233.4 503.8 L232.9 504.8 L232.3 505.8 L231.6 506.9 L230.8 508 L230 509.1 L229.3 510.2 L228.7 511.2 L228.2 512.2 L227.9 513.1 L227.8 513.9 L227.8 514.6 L227.8 515.3 L228 516 L228.2 516.6 L228.5 517.1 L228.9 517.7 L229.4 518.3 L229.9 518.8 L230.4 519.4 L231.1 520 L231.9 520.5 L232.8 521 L233.8 521.5 L234.8 521.9 L235.9 522.4 L236.9 522.9 L237.8 523.4 L238.6 523.9 L239.3 524.5 L239.8 525.1 L240.3 525.7 L240.7 526.3 L241.1 526.9 L241.3 527.5 L241.6 528.1 L241.7 528.8 L241.8 529.4 L241.8 530.1 L241.8 530.8 L241.6 531.5 L241.3 532.2 L240.9 532.9 L240.4 533.7 L239.9 534.4 L239.4 535.2 L238.9 536 L238.5 536.8 L238.2 537.6 L238 538.4 L238 539.2 L238.1 540.1 L238.2 541 L238.5 541.8 L238.7 542.7 L239.1 543.6 L239.4 544.6 L239.8 545.5 L240.1 546.4 L240.5 547.3 L240.9 548.3 L241.3 549.3 L241.8 550.4 L242.4 551.5 L242.9 552.6 L243.4 553.6 L243.9 554.6 L244.4 555.4 L244.7 556.1 L245 556.7" fill="none" stroke="#b8262b" stroke-width="1.8" stroke-linecap="round" stroke-linejoin="round"/>
<path d="M510.6 496.6 L509.7 496.9 L508.4 497.4 L506.9 497.9 L505.4 498.5 L504 499.1 L503 499.8 L502.3 500.5 L501.8 501.2 L501.5 502 L501.3 502.9 L501.3 503.7 L501.5 504.5 L502 505.3 L503 506.1 L504.2 507 L505.2 507.8 L505.9 508.7 L506 509.5 L505.3 510.3 L504 511.2 L502.3 512 L500.6 512.8 L499 513.6 L498 514.4 L497.4 515.1 L497.1 515.8 L496.9 516.5 L496.9 517.2 L497.1 517.9 L497.5 518.5 L498.2 519.1 L499.4 519.7 L500.7 520.2 L501.9 520.7 L502.8 521.3 L503 522 L502.4 522.7 L501.1 523.6 L499.4 524.4 L497.6 525.3 L496.1 526.1 L495 527 L494.4 527.8 L494 528.7 L493.8 529.5 L493.8 530.3 L493.9 531.2 L494.2 532 L494.7 532.8 L495.5 533.6 L496.4 534.5 L497.3 535.3 L498.1 536.1 L498.6 537 L498.9 537.9 L499.1 538.9 L499.1 539.8 L499 540.8 L498.8 541.7 L498.4 542.5 L497.8 543.3 L497 544.1 L496.1 544.9 L495.1 545.5 L494.1 546 L493 546.2 L491.9 546.2 L490.6 545.9 L489.4 545.5 L488.1 544.9 L487 544.2 L486 543.5 L485.2 542.6 L484.5 541.6 L483.9 540.4 L483.4 539.2 L483 538 L482.8 537 L482.8 536.1 L483.1 535.2 L483.4 534.4 L483.8 533.6 L484 532.8 L484 532 L483.6 531.2 L483 530.3 L482.3 529.4 L481.5 528.6 L480.8 527.8 L480.3 527 L479.9 526.3 L479.6 525.6 L479.4 524.9 L479.3 524.3 L479.4 523.7 L479.8 523 L480.6 522.3 L481.7 521.6 L483.1 520.9 L484.5 520.1 L485.7 519.5 L486.6 518.8 L487.2 518.2 L487.6 517.6 L487.8 517.1 L487.9 516.6 L487.8 516 L487.6 515.4 L487.1 514.7 L486.3 514 L485.3 513.3 L484.3 512.6 L483.4 511.9 L482.8 511.2 L482.4 510.6 L482 510 L481.8 509.5 L481.7 508.9 L481.9 508.4 L482.4 507.8 L483.3 507.2 L484.7 506.6 L486.3 506 L488 505.4 L489.4 504.8 L490.4 504.2 L491 503.6 L491.3 503.1 L491.4 502.6 L491.4 502 L491.2 501.5 L490.8 501 L490.1 500.5 L489.2 499.9 L488 499.4 L486.8 498.9 L485.9 498.4 L485.3 497.9 L485 497.4 L485 496.9 L485.1 496.5 L485.4 496 L485.9 495.6 L486.6 495.2 L487.7 494.8 L489.1 494.4 L490.8 494 L492.4 493.6 L493.8 493.3 L494.8 493.1" fill="none" stroke="#5e3a36" stroke-width="3.7" stroke-linecap="round" stroke-linejoin="round"/>
<path d="M510.6 496.6 L509.7 496.9 L508.4 497.4 L506.9 497.9 L505.4 498.5 L504 499.1 L503 499.8 L502.3 500.5 L501.8 501.2 L501.5 502 L501.3 502.9 L501.3 503.7 L501.5 504.5 L502 505.3 L503 506.1 L504.2 507 L505.2 507.8 L505.9 508.7 L506 509.5 L505.3 510.3 L504 511.2 L502.3 512 L500.6 512.8 L499 513.6 L498 514.4 L497.4 515.1 L497.1 515.8 L496.9 516.5 L496.9 517.2 L497.1 517.9 L497.5 518.5 L498.2 519.1 L499.4 519.7 L500.7 520.2 L501.9 520.7 L502.8 521.3 L503 522 L502.4 522.7 L501.1 523.6 L499.4 524.4 L497.6 525.3 L496.1 526.1 L495 527 L494.4 527.8 L494 528.7 L493.8 529.5 L493.8 530.3 L493.9 531.2 L494.2 532 L494.7 532.8 L495.5 533.6 L496.4 534.5 L497.3 535.3 L498.1 536.1 L498.6 537 L498.9 537.9 L499.1 538.9 L499.1 539.8 L499 540.8 L498.8 541.7 L498.4 542.5 L497.8 543.3 L497 544.1 L496.1 544.9 L495.1 545.5 L494.1 546 L493 546.2 L491.9 546.2 L490.6 545.9 L489.4 545.5 L488.1 544.9 L487 544.2 L486 543.5 L485.2 542.6 L484.5 541.6 L483.9 540.4 L483.4 539.2 L483 538 L482.8 537 L482.8 536.1 L483.1 535.2 L483.4 534.4 L483.8 533.6 L484 532.8 L484 532 L483.6 531.2 L483 530.3 L482.3 529.4 L481.5 528.6 L480.8 527.8 L480.3 527 L479.9 526.3 L479.6 525.6 L479.4 524.9 L479.3 524.3 L479.4 523.7 L479.8 523 L480.6 522.3 L481.7 521.6 L483.1 520.9 L484.5 520.1 L485.7 519.5 L486.6 518.8 L487.2 518.2 L487.6 517.6 L487.8 517.1 L487.9 516.6 L487.8 516 L487.6 515.4 L487.1 514.7 L486.3 514 L485.3 513.3 L484.3 512.6 L483.4 511.9 L482.8 511.2 L482.4 510.6 L482 510 L481.8 509.5 L481.7 508.9 L481.9 508.4 L482.4 507.8 L483.3 507.2 L484.7 506.6 L486.3 506 L488 505.4 L489.4 504.8 L490.4 504.2 L491 503.6 L491.3 503.1 L491.4 502.6 L491.4 502 L491.2 501.5 L490.8 501 L490.1 500.5 L489.2 499.9 L488 499.4 L486.8 498.9 L485.9 498.4 L485.3 497.9 L485 497.4 L485 496.9 L485.1 496.5 L485.4 496 L485.9 495.6 L486.6 495.2 L487.7 494.8 L489.1 494.4 L490.8 494 L492.4 493.6 L493.8 493.3 L494.8 493.1" fill="none" stroke="#e9c6bd" stroke-width="1.8" stroke-linecap="round" stroke-linejoin="round"/>
<path d="M487 549.5 l2.4 1.8 l-2.6 2 l3 1.9 l-1.8 2.2" fill="none" stroke="#111" stroke-width="1.7"/>
<path d="M477.7 493.5 L477.1 493.8 L476.2 494.1 L475.2 494.5 L474.1 494.9 L472.9 495.4 L471.6 495.9 L470.4 496.4 L469.3 496.9 L468.4 497.4 L467.6 497.9 L467 498.4 L466.4 498.8 L465.9 499.2 L465.4 499.6 L465 500.1 L464.7 500.6 L464.5 501.1 L464.4 501.6 L464.3 502.3 L464.4 503 L464.6 503.8 L465.1 504.8 L465.7 505.8 L466.4 506.9 L467.2 508 L468 509.1 L468.7 510.2 L469.3 511.2 L469.8 512.2 L470.1 513.1 L470.2 513.9 L470.2 514.6 L470.2 515.3 L470 516 L469.8 516.6 L469.5 517.1 L469.1 517.7 L468.6 518.3 L468.1 518.8 L467.6 519.4 L466.9 520 L466.1 520.5 L465.2 521 L464.2 521.5 L463.2 521.9 L462.1 522.4 L461.1 522.9 L460.2 523.4 L459.4 523.9 L458.7 524.5 L458.2 525.1 L457.7 525.7 L457.3 526.3 L456.9 526.9 L456.7 527.5 L456.4 528.1 L456.3 528.8 L456.2 529.4 L456.2 530.1 L456.2 530.8 L456.4 531.5 L456.7 532.2 L457.1 532.9 L457.6 533.7 L458.1 534.4 L458.6 535.2 L459.1 536 L459.5 536.8 L459.8 537.6 L460 538.4 L460 539.2 L459.9 540.1 L459.8 541 L459.5 541.8 L459.3 542.7 L458.9 543.6 L458.6 544.6 L458.2 545.5 L457.9 546.4 L457.5 547.3 L457.1 548.3 L456.7 549.3 L456.2 550.4 L455.6 551.5 L455.1 552.6 L454.6 553.6 L454.1 554.6 L453.6 555.4 L453.3 556.1 L453 556.7" fill="none" stroke="#571012" stroke-width="3.7" stroke-linecap="round" stroke-linejoin="round"/>
<path d="M477.7 493.5 L477.1 493.8 L476.2 494.1 L475.2 494.5 L474.1 494.9 L472.9 495.4 L471.6 495.9 L470.4 496.4 L469.3 496.9 L468.4 497.4 L467.6 497.9 L467 498.4 L466.4 498.8 L465.9 499.2 L465.4 499.6 L465 500.1 L464.7 500.6 L464.5 501.1 L464.4 501.6 L464.3 502.3 L464.4 503 L464.6 503.8 L465.1 504.8 L465.7 505.8 L466.4 506.9 L467.2 508 L468 509.1 L468.7 510.2 L469.3 511.2 L469.8 512.2 L470.1 513.1 L470.2 513.9 L470.2 514.6 L470.2 515.3 L470 516 L469.8 516.6 L469.5 517.1 L469.1 517.7 L468.6 518.3 L468.1 518.8 L467.6 519.4 L466.9 520 L466.1 520.5 L465.2 521 L464.2 521.5 L463.2 521.9 L462.1 522.4 L461.1 522.9 L460.2 523.4 L459.4 523.9 L458.7 524.5 L458.2 525.1 L457.7 525.7 L457.3 526.3 L456.9 526.9 L456.7 527.5 L456.4 528.1 L456.3 528.8 L456.2 529.4 L456.2 530.1 L456.2 530.8 L456.4 531.5 L456.7 532.2 L457.1 532.9 L457.6 533.7 L458.1 534.4 L458.6 535.2 L459.1 536 L459.5 536.8 L459.8 537.6 L460 538.4 L460 539.2 L459.9 540.1 L459.8 541 L459.5 541.8 L459.3 542.7 L458.9 543.6 L458.6 544.6 L458.2 545.5 L457.9 546.4 L457.5 547.3 L457.1 548.3 L456.7 549.3 L456.2 550.4 L455.6 551.5 L455.1 552.6 L454.6 553.6 L454.1 554.6 L453.6 555.4 L453.3 556.1 L453 556.7" fill="none" stroke="#b8262b" stroke-width="1.8" stroke-linecap="round" stroke-linejoin="round"/>
<path d="M158.8 569 L196 560" stroke="#1a1a1a" stroke-width="1.6" fill="none"/>
<text x="86.5" y="563.5" font-size="20" font-weight="bold" text-anchor="start" fill="#111" textLength="64" lengthAdjust="spacingAndGlyphs" >Target</text>
<text x="41" y="588.5" font-size="20" font-weight="bold" text-anchor="start" fill="#111" textLength="110" lengthAdjust="spacingAndGlyphs" >membrane</text>
<path d="M400 527 L425 579.5" stroke="#1a1a1a" stroke-width="1.6" fill="none"/>
<text x="412.5" y="594.5" font-size="20" font-weight="bold" text-anchor="start" fill="#111" textLength="121" lengthAdjust="spacingAndGlyphs" >Rab effector</text>
<path d="M511 457.5 L477.5 487" stroke="#1a1a1a" stroke-width="1.6" fill="none"/>
<path d="M557.5 486 L513.8 496" stroke="#1a1a1a" stroke-width="1.6" fill="none"/>
<text x="517.5" y="453.4" font-size="20" font-weight="bold" text-anchor="start" fill="#111" textLength="88" lengthAdjust="spacingAndGlyphs" >Syntaxin</text>
<text x="559" y="489.2" font-size="20" font-weight="bold" text-anchor="start" fill="#111" textLength="85.5" lengthAdjust="spacingAndGlyphs" >SNAP-25</text>
<ellipse cx="551" cy="471" rx="122" ry="67.2" fill="none" stroke="#0a0a0a" stroke-width="4" stroke-dasharray="11 4" transform="rotate(4.5 551 471)"/>
<path d="M639.2 258.8 L658 273.2 L606 342 L613 348.2 L578.5 352.5 L575.5 317.5 L586 326.2Z" fill="#e8301f"/>
<text x="516.8" y="383" font-size="28.5" font-weight="normal" text-anchor="start" fill="#000" textLength="117.5" lengthAdjust="spacingAndGlyphs" stroke="#000" stroke-width=".45">t-SNAREs</text>
<text x="189.5" y="609.8" font-size="20.5" font-weight="bold" text-anchor="start" fill="#111" textLength="139" lengthAdjust="spacingAndGlyphs" stroke="#111" stroke-width=".85">Assembly of</text>
<text x="130" y="634.3" font-size="20.5" font-weight="bold" text-anchor="start" fill="#111" textLength="202.5" lengthAdjust="spacingAndGlyphs" stroke="#111" stroke-width=".85">SNARE complexes</text>
<path d="M349.6 585.4 L349.6 639.3" stroke="#111" stroke-width="2.2" fill="none"/>
<path d="M344.4 635.5 L349.6 637.7 L354.8 635.5 L349.6 644.3Z" fill="#111"/>
<rect x="361.5" y="598" width="30" height="29.3" fill="#0d0d0d"/>
<text x="376.5" y="620.5" font-size="22" font-weight="bold" text-anchor="middle" fill="#f4e04d" stroke="#f4e04d" stroke-width=".5">2</text>
<path d="M193.5 820.5 L224.8 786.6 L228.5 784.4 L232.2 782.8 L235.7 781.8 L239.2 781.1 L242.9 780.6 L246.6 780.3 L250.7 779.8 L255 779.2 L259.6 778.4 L264.4 777.7 L269.4 777 L274.6 776.3 L279.9 775.7 L285.4 775.1 L291.1 774.5 L297 774 L303.1 773.5 L309.5 773.1 L316.1 772.7 L322.8 772.3 L329.7 772 L336.5 771.7 L343.3 771.6 L350 771.5 L356.7 771.5 L363.4 771.7 L370.2 771.9 L376.9 772.2 L383.6 772.5 L390.1 772.9 L396.4 773.4 L402.5 773.8 L408.4 774.3 L414.1 774.8 L419.6 775.3 L425 775.8 L430.2 776.5 L435.3 777.2 L440.2 777.9 L445 778.8 L449.6 779.6 L453.9 780.4 L458 781.1 L462 782 L465.9 783.1 L469.8 784.4 L473.6 786.2 L477.5 788.5 L507.5 820 L507.5 828.3 L504.1 827.5 L500.6 826.7 L497.2 826 L493.7 825.3 L490.3 824.5 L486.8 823.8 L483.4 823.2 L479.9 822.5 L476.4 821.8 L473 821.2 L469.5 820.6 L466 820 L462.6 819.4 L459.1 818.9 L455.6 818.3 L452.1 817.8 L448.6 817.3 L445.1 816.8 L441.6 816.3 L438.1 815.9 L434.6 815.4 L431.1 815 L427.6 814.6 L424.1 814.2 L420.6 813.9 L417.1 813.5 L413.6 813.2 L410.1 812.9 L406.6 812.6 L403.1 812.3 L399.6 812 L396 811.8 L392.5 811.6 L389 811.4 L385.5 811.2 L382 811 L378.4 810.9 L374.9 810.7 L371.4 810.6 L367.9 810.5 L364.3 810.4 L360.8 810.4 L357.3 810.3 L353.8 810.3 L350.2 810.3 L346.7 810.3 L343.2 810.3 L339.7 810.4 L336.2 810.4 L332.6 810.5 L329.1 810.6 L325.6 810.7 L322.1 810.9 L318.5 811 L315 811.2 L311.5 811.4 L308 811.6 L304.5 811.8 L300.9 812 L297.4 812.3 L293.9 812.6 L290.4 812.9 L286.9 813.2 L283.4 813.5 L279.9 813.9 L276.4 814.2 L272.9 814.6 L269.4 815 L265.9 815.4 L262.4 815.9 L258.9 816.3 L255.4 816.8 L251.9 817.3 L248.4 817.8 L244.9 818.3 L241.4 818.9 L237.9 819.4 L234.5 820 L231 820.6 L227.5 821.2 L224.1 821.8 L220.6 822.5 L217.1 823.2 L213.7 823.8 L210.2 824.5 L206.8 825.3 L203.3 826 L199.9 826.7 L196.4 827.5 L193 828.3Z" fill="url(#sl3)"/>
<path d="M193.5 820.5 L224.8 786.6 L228.5 784.4 L232.2 782.8 L235.7 781.8 L239.2 781.1 L242.9 780.6 L246.6 780.3 L250.7 779.8 L255 779.2 L259.6 778.4 L264.4 777.7 L269.4 777 L274.6 776.3 L279.9 775.7 L285.4 775.1 L291.1 774.5 L297 774 L303.1 773.5 L309.5 773.1 L316.1 772.7 L322.8 772.3 L329.7 772 L336.5 771.7 L343.3 771.6 L350 771.5 L356.7 771.5 L363.4 771.7 L370.2 771.9 L376.9 772.2 L383.6 772.5 L390.1 772.9 L396.4 773.4 L402.5 773.8 L408.4 774.3 L414.1 774.8 L419.6 775.3 L425 775.8 L430.2 776.5 L435.3 777.2 L440.2 777.9 L445 778.8 L449.6 779.6 L453.9 780.4 L458 781.1 L462 782 L465.9 783.1 L469.8 784.4 L473.6 786.2 L477.5 788.5 L507.5 820 L507.5 828.3 L504.1 827.5 L500.6 826.7 L497.2 826 L493.7 825.3 L490.3 824.5 L486.8 823.8 L483.4 823.2 L479.9 822.5 L476.4 821.8 L473 821.2 L469.5 820.6 L466 820 L462.6 819.4 L459.1 818.9 L455.6 818.3 L452.1 817.8 L448.6 817.3 L445.1 816.8 L441.6 816.3 L438.1 815.9 L434.6 815.4 L431.1 815 L427.6 814.6 L424.1 814.2 L420.6 813.9 L417.1 813.5 L413.6 813.2 L410.1 812.9 L406.6 812.6 L403.1 812.3 L399.6 812 L396 811.8 L392.5 811.6 L389 811.4 L385.5 811.2 L382 811 L378.4 810.9 L374.9 810.7 L371.4 810.6 L367.9 810.5 L364.3 810.4 L360.8 810.4 L357.3 810.3 L353.8 810.3 L350.2 810.3 L346.7 810.3 L343.2 810.3 L339.7 810.4 L336.2 810.4 L332.6 810.5 L329.1 810.6 L325.6 810.7 L322.1 810.9 L318.5 811 L315 811.2 L311.5 811.4 L308 811.6 L304.5 811.8 L300.9 812 L297.4 812.3 L293.9 812.6 L290.4 812.9 L286.9 813.2 L283.4 813.5 L279.9 813.9 L276.4 814.2 L272.9 814.6 L269.4 815 L265.9 815.4 L262.4 815.9 L258.9 816.3 L255.4 816.8 L251.9 817.3 L248.4 817.8 L244.9 818.3 L241.4 818.9 L237.9 819.4 L234.5 820 L231 820.6 L227.5 821.2 L224.1 821.8 L220.6 822.5 L217.1 823.2 L213.7 823.8 L210.2 824.5 L206.8 825.3 L203.3 826 L199.9 826.7 L196.4 827.5 L193 828.3Z" fill="url(#sl3o)"/>
<ellipse cx="351.5" cy="715.2" rx="73.2" ry="66" fill="url(#vs3)"/>
<ellipse cx="350.5" cy="717.6" rx="73.2" ry="66" fill="url(#vs3)"/>
<ellipse cx="349.5" cy="720" rx="73.2" ry="66" fill="url(#vs3)"/>
<ellipse cx="348.5" cy="722.3" rx="73.2" ry="66" fill="url(#vs3)"/>
<ellipse cx="347.5" cy="724.7" rx="73.2" ry="66" fill="url(#vs3)"/>
<ellipse cx="347.5" cy="724.7" rx="63.7" ry="56.5" fill="url(#vi3)" stroke="#7a7c7f" stroke-width="16.6"/>
<ellipse cx="347.5" cy="724.7" rx="63.7" ry="56.5" fill="none" stroke="#9c9ea1" stroke-width="11.6"/>
<ellipse cx="347.5" cy="724.7" rx="63.7" ry="56.5" fill="none" stroke="#e9eaeb" stroke-width="11.6" stroke-dasharray="2.2 2.2"/>
<ellipse cx="347.5" cy="724.7" rx="63.7" ry="56.5" fill="none" stroke="#a4a6a8" stroke-width="1" opacity=".5"/>
<ellipse cx="347.5" cy="724.7" rx="71.3" ry="64.1" fill="none" stroke="#7a7c7f" stroke-width="3.8" stroke-linecap="round" stroke-dasharray="0.01 4.6"/>
<ellipse cx="347.5" cy="724.7" rx="56.1" ry="48.9" fill="none" stroke="#7a7c7f" stroke-width="3.8" stroke-linecap="round" stroke-dasharray="0.01 3.9"/>
<g stroke-linejoin="round"><path d="M261 781.5 Q263 779.2 270 779.2 L286 778.7 Q294 779.2 297 781.6 L300.2 790.5 L297.5 796.5 Q290 798.6 280 798 L263.5 796.6Z" fill="#f3c6ba" stroke="#7a4038" stroke-width=".8"/><path d="M283 779.5 Q290 783.5 294 790" fill="none" stroke="#b98276" stroke-width=".8"/><path d="M262.2 785 L272 783.8 Q283 787 292.5 796 L290.5 798 Q275 799.2 263.2 796.5Z" fill="#ea9a3c" stroke="#7a4a15" stroke-width=".8"/><path d="M295.5 781.8 L302 785.5 L302 789.6 L296.5 791.5Z" fill="#e08e30" stroke="#7a4a15" stroke-width=".8"/><path d="M261 794.8 L260.3 783.6 Q261.5 781.4 265 781.3 L269.5 781.4 Q277 783 284 788 Q291 792.6 296.6 796.6" fill="none" stroke="#741313" stroke-width="5.6"/><path d="M261 794.8 L260.3 783.6 Q261.5 781.4 265 781.3 L269.5 781.4 Q277 783 284 788 Q291 792.6 296.6 796.6" fill="none" stroke="#d62b2b" stroke-width="4.3"/><ellipse cx="253.6" cy="789.6" rx="5.2" ry="4.2" fill="#f4d2c9" stroke="#6b3f3a" stroke-width="1.1"/><ellipse cx="254.2" cy="789.8" rx="2.3" ry="1.5" fill="#fff" stroke="#6b3f3a" stroke-width=".8"/><path d="M257.6 791 l1 4.2 l4 1.6" fill="none" stroke="#6b3f3a" stroke-width="1"/><path d="M301.5 788.6 L310.8 788.2 Q313.6 787.8 313.5 784.5 L313.4 758.6" fill="none" stroke="#6f4413" stroke-width="3.9" stroke-linecap="round"/><path d="M301.5 788.6 L310.8 788.2 Q313.6 787.8 313.5 784.5 L313.4 758.6" fill="none" stroke="#dd9634" stroke-width="1.9" stroke-linecap="round"/></g>
<g transform="translate(697 0) scale(-1 1)" stroke-linejoin="round"><path d="M261 781.5 Q263 779.2 270 779.2 L286 778.7 Q294 779.2 297 781.6 L300.2 790.5 L297.5 796.5 Q290 798.6 280 798 L263.5 796.6Z" fill="#f3c6ba" stroke="#7a4038" stroke-width=".8"/><path d="M283 779.5 Q290 783.5 294 790" fill="none" stroke="#b98276" stroke-width=".8"/><path d="M262.2 785 L272 783.8 Q283 787 292.5 796 L290.5 798 Q275 799.2 263.2 796.5Z" fill="#ea9a3c" stroke="#7a4a15" stroke-width=".8"/><path d="M295.5 781.8 L302 785.5 L302 789.6 L296.5 791.5Z" fill="#e08e30" stroke="#7a4a15" stroke-width=".8"/><path d="M261 794.8 L260.3 783.6 Q261.5 781.4 265 781.3 L269.5 781.4 Q277 783 284 788 Q291 792.6 296.6 796.6" fill="none" stroke="#741313" stroke-width="5.6"/><path d="M261 794.8 L260.3 783.6 Q261.5 781.4 265 781.3 L269.5 781.4 Q277 783 284 788 Q291 792.6 296.6 796.6" fill="none" stroke="#d62b2b" stroke-width="4.3"/><ellipse cx="253.6" cy="789.6" rx="5.2" ry="4.2" fill="#f4d2c9" stroke="#6b3f3a" stroke-width="1.1"/><ellipse cx="254.2" cy="789.8" rx="2.3" ry="1.5" fill="#fff" stroke="#6b3f3a" stroke-width=".8"/><path d="M257.6 791 l1 4.2 l4 1.6" fill="none" stroke="#6b3f3a" stroke-width="1"/><path d="M301.5 788.6 L310.8 788.2 Q313.6 787.8 313.5 784.5 L313.4 758.6" fill="none" stroke="#6f4413" stroke-width="3.9" stroke-linecap="round"/><path d="M301.5 788.6 L310.8 788.2 Q313.6 787.8 313.5 784.5 L313.4 758.6" fill="none" stroke="#dd9634" stroke-width="1.9" stroke-linecap="round"/></g>
<path d="M193 828.3 L196.4 827.5 L199.9 826.7 L203.3 826 L206.8 825.3 L210.2 824.5 L213.7 823.8 L217.1 823.2 L220.6 822.5 L224.1 821.8 L227.5 821.2 L231 820.6 L234.5 820 L237.9 819.4 L241.4 818.9 L244.9 818.3 L248.4 817.8 L251.9 817.3 L255.4 816.8 L258.9 816.3 L262.4 815.9 L265.9 815.4 L269.4 815 L272.9 814.6 L276.4 814.2 L279.9 813.9 L283.4 813.5 L286.9 813.2 L290.4 812.9 L293.9 812.6 L297.4 812.3 L300.9 812 L304.5 811.8 L308 811.6 L311.5 811.4 L315 811.2 L318.5 811 L322.1 810.9 L325.6 810.7 L329.1 810.6 L332.6 810.5 L336.2 810.4 L339.7 810.4 L343.2 810.3 L346.7 810.3 L350.2 810.3 L353.8 810.3 L357.3 810.3 L360.8 810.4 L364.3 810.4 L367.9 810.5 L371.4 810.6 L374.9 810.7 L378.4 810.9 L382 811 L385.5 811.2 L389 811.4 L392.5 811.6 L396 811.8 L399.6 812 L403.1 812.3 L406.6 812.6 L410.1 812.9 L413.6 813.2 L417.1 813.5 L420.6 813.9 L424.1 814.2 L427.6 814.6 L431.1 815 L434.6 815.4 L438.1 815.9 L441.6 816.3 L445.1 816.8 L448.6 817.3 L452.1 817.8 L455.6 818.3 L459.1 818.9 L462.6 819.4 L466 820 L469.5 820.6 L473 821.2 L476.4 821.8 L479.9 822.5 L483.4 823.2 L486.8 823.8 L490.3 824.5 L493.7 825.3 L497.2 826 L500.6 826.7 L504.1 827.5 L507.5 828.3" fill="none" stroke="#7a7c7f" stroke-width="15.6"/>
<path d="M193 828.3 L196.4 827.5 L199.9 826.7 L203.3 826 L206.8 825.3 L210.2 824.5 L213.7 823.8 L217.1 823.2 L220.6 822.5 L224.1 821.8 L227.5 821.2 L231 820.6 L234.5 820 L237.9 819.4 L241.4 818.9 L244.9 818.3 L248.4 817.8 L251.9 817.3 L255.4 816.8 L258.9 816.3 L262.4 815.9 L265.9 815.4 L269.4 815 L272.9 814.6 L276.4 814.2 L279.9 813.9 L283.4 813.5 L286.9 813.2 L290.4 812.9 L293.9 812.6 L297.4 812.3 L300.9 812 L304.5 811.8 L308 811.6 L311.5 811.4 L315 811.2 L318.5 811 L322.1 810.9 L325.6 810.7 L329.1 810.6 L332.6 810.5 L336.2 810.4 L339.7 810.4 L343.2 810.3 L346.7 810.3 L350.2 810.3 L353.8 810.3 L357.3 810.3 L360.8 810.4 L364.3 810.4 L367.9 810.5 L371.4 810.6 L374.9 810.7 L378.4 810.9 L382 811 L385.5 811.2 L389 811.4 L392.5 811.6 L396 811.8 L399.6 812 L403.1 812.3 L406.6 812.6 L410.1 812.9 L413.6 813.2 L417.1 813.5 L420.6 813.9 L424.1 814.2 L427.6 814.6 L431.1 815 L434.6 815.4 L438.1 815.9 L441.6 816.3 L445.1 816.8 L448.6 817.3 L452.1 817.8 L455.6 818.3 L459.1 818.9 L462.6 819.4 L466 820 L469.5 820.6 L473 821.2 L476.4 821.8 L479.9 822.5 L483.4 823.2 L486.8 823.8 L490.3 824.5 L493.7 825.3 L497.2 826 L500.6 826.7 L504.1 827.5 L507.5 828.3" fill="none" stroke="#9c9ea1" stroke-width="11"/>
<path d="M193 828.3 L196.4 827.5 L199.9 826.7 L203.3 826 L206.8 825.3 L210.2 824.5 L213.7 823.8 L217.1 823.2 L220.6 822.5 L224.1 821.8 L227.5 821.2 L231 820.6 L234.5 820 L237.9 819.4 L241.4 818.9 L244.9 818.3 L248.4 817.8 L251.9 817.3 L255.4 816.8 L258.9 816.3 L262.4 815.9 L265.9 815.4 L269.4 815 L272.9 814.6 L276.4 814.2 L279.9 813.9 L283.4 813.5 L286.9 813.2 L290.4 812.9 L293.9 812.6 L297.4 812.3 L300.9 812 L304.5 811.8 L308 811.6 L311.5 811.4 L315 811.2 L318.5 811 L322.1 810.9 L325.6 810.7 L329.1 810.6 L332.6 810.5 L336.2 810.4 L339.7 810.4 L343.2 810.3 L346.7 810.3 L350.2 810.3 L353.8 810.3 L357.3 810.3 L360.8 810.4 L364.3 810.4 L367.9 810.5 L371.4 810.6 L374.9 810.7 L378.4 810.9 L382 811 L385.5 811.2 L389 811.4 L392.5 811.6 L396 811.8 L399.6 812 L403.1 812.3 L406.6 812.6 L410.1 812.9 L413.6 813.2 L417.1 813.5 L420.6 813.9 L424.1 814.2 L427.6 814.6 L431.1 815 L434.6 815.4 L438.1 815.9 L441.6 816.3 L445.1 816.8 L448.6 817.3 L452.1 817.8 L455.6 818.3 L459.1 818.9 L462.6 819.4 L466 820 L469.5 820.6 L473 821.2 L476.4 821.8 L479.9 822.5 L483.4 823.2 L486.8 823.8 L490.3 824.5 L493.7 825.3 L497.2 826 L500.6 826.7 L504.1 827.5 L507.5 828.3" fill="none" stroke="#e9eaeb" stroke-width="11" stroke-dasharray="2.7 2.4"/>
<path d="M193 828.3 L196.4 827.5 L199.9 826.7 L203.3 826 L206.8 825.3 L210.2 824.5 L213.7 823.8 L217.1 823.2 L220.6 822.5 L224.1 821.8 L227.5 821.2 L231 820.6 L234.5 820 L237.9 819.4 L241.4 818.9 L244.9 818.3 L248.4 817.8 L251.9 817.3 L255.4 816.8 L258.9 816.3 L262.4 815.9 L265.9 815.4 L269.4 815 L272.9 814.6 L276.4 814.2 L279.9 813.9 L283.4 813.5 L286.9 813.2 L290.4 812.9 L293.9 812.6 L297.4 812.3 L300.9 812 L304.5 811.8 L308 811.6 L311.5 811.4 L315 811.2 L318.5 811 L322.1 810.9 L325.6 810.7 L329.1 810.6 L332.6 810.5 L336.2 810.4 L339.7 810.4 L343.2 810.3 L346.7 810.3 L350.2 810.3 L353.8 810.3 L357.3 810.3 L360.8 810.4 L364.3 810.4 L367.9 810.5 L371.4 810.6 L374.9 810.7 L378.4 810.9 L382 811 L385.5 811.2 L389 811.4 L392.5 811.6 L396 811.8 L399.6 812 L403.1 812.3 L406.6 812.6 L410.1 812.9 L413.6 813.2 L417.1 813.5 L420.6 813.9 L424.1 814.2 L427.6 814.6 L431.1 815 L434.6 815.4 L438.1 815.9 L441.6 816.3 L445.1 816.8 L448.6 817.3 L452.1 817.8 L455.6 818.3 L459.1 818.9 L462.6 819.4 L466 820 L469.5 820.6 L473 821.2 L476.4 821.8 L479.9 822.5 L483.4 823.2 L486.8 823.8 L490.3 824.5 L493.7 825.3 L497.2 826 L500.6 826.7 L504.1 827.5 L507.5 828.3" fill="none" stroke="#a4a6a8" stroke-width="1" opacity=".4"/>
<path d="M191.4 821.4 L194.9 820.6 L198.3 819.8 L201.8 819 L205.3 818.3 L208.8 817.6 L212.3 816.9 L215.8 816.2 L219.3 815.5 L222.8 814.9 L226.3 814.2 L229.8 813.6 L233.3 813 L236.8 812.4 L240.3 811.8 L243.8 811.3 L247.4 810.8 L250.9 810.3 L254.4 809.8 L257.9 809.3 L261.5 808.8 L265 808.4 L268.5 808 L272.1 807.6 L275.6 807.2 L279.2 806.8 L282.7 806.5 L286.2 806.1 L289.8 805.8 L293.3 805.5 L296.9 805.2 L300.4 805 L304 804.7 L307.5 804.5 L311.1 804.3 L314.7 804.1 L318.2 803.9 L321.8 803.8 L325.3 803.6 L328.9 803.5 L332.4 803.4 L336 803.3 L339.6 803.3 L343.1 803.2 L346.7 803.2 L350.2 803.2 L353.8 803.2 L357.4 803.2 L360.9 803.3 L364.5 803.3 L368.1 803.4 L371.6 803.5 L375.2 803.6 L378.7 803.8 L382.3 803.9 L385.8 804.1 L389.4 804.3 L393 804.5 L396.5 804.7 L400.1 805 L403.6 805.2 L407.2 805.5 L410.7 805.8 L414.3 806.1 L417.8 806.5 L421.3 806.8 L424.9 807.2 L428.4 807.6 L432 808 L435.5 808.4 L439 808.8 L442.6 809.3 L446.1 809.8 L449.6 810.3 L453.1 810.8 L456.7 811.3 L460.2 811.8 L463.7 812.4 L467.2 813 L470.7 813.6 L474.2 814.2 L477.7 814.9 L481.2 815.5 L484.7 816.2 L488.2 816.9 L491.7 817.6 L495.2 818.3 L498.7 819 L502.2 819.8 L505.6 820.6 L509.1 821.4" fill="none" stroke="#7a7c7f" stroke-width="3.8" stroke-linecap="round" stroke-dasharray="0.01 5.1"/>
<path d="M194.6 835.2 L198 834.4 L201.4 833.7 L204.8 832.9 L208.2 832.2 L211.6 831.5 L215.1 830.8 L218.5 830.1 L221.9 829.5 L225.3 828.8 L228.8 828.2 L232.2 827.6 L235.7 827 L239.1 826.4 L242.5 825.9 L246 825.3 L249.4 824.8 L252.9 824.3 L256.3 823.8 L259.8 823.4 L263.3 822.9 L266.7 822.5 L270.2 822.1 L273.7 821.7 L277.1 821.3 L280.6 820.9 L284.1 820.6 L287.5 820.3 L291 820 L294.5 819.7 L298 819.4 L301.4 819.1 L304.9 818.9 L308.4 818.7 L311.9 818.5 L315.4 818.3 L318.9 818.1 L322.3 818 L325.8 817.8 L329.3 817.7 L332.8 817.6 L336.3 817.5 L339.8 817.5 L343.3 817.4 L346.8 817.4 L350.2 817.4 L353.7 817.4 L357.2 817.4 L360.7 817.5 L364.2 817.5 L367.7 817.6 L371.2 817.7 L374.7 817.8 L378.2 818 L381.6 818.1 L385.1 818.3 L388.6 818.5 L392.1 818.7 L395.6 818.9 L399.1 819.1 L402.5 819.4 L406 819.7 L409.5 820 L413 820.3 L416.4 820.6 L419.9 820.9 L423.4 821.3 L426.8 821.7 L430.3 822.1 L433.8 822.5 L437.2 822.9 L440.7 823.4 L444.2 823.8 L447.6 824.3 L451.1 824.8 L454.5 825.3 L458 825.9 L461.4 826.4 L464.8 827 L468.3 827.6 L471.7 828.2 L475.2 828.8 L478.6 829.5 L482 830.1 L485.4 830.8 L488.9 831.5 L492.3 832.2 L495.7 832.9 L499.1 833.7 L502.5 834.4 L505.9 835.2" fill="none" stroke="#7a7c7f" stroke-width="3.8" stroke-linecap="round" stroke-dasharray="0.01 5.1"/>
<g><path d="M297.5 794.8 L308 793.3 Q313.6 793 314 800 L312.8 826.8" fill="none" stroke="#5a1214" stroke-width="3.8" stroke-linecap="round"/><path d="M297.5 794.8 L308 793.3 Q313.6 793 314 800 L312.8 826.8" fill="none" stroke="#c3262b" stroke-width="2" stroke-linecap="round"/></g>
<g transform="translate(697 0) scale(-1 1)"><path d="M297.5 794.8 L308 793.3 Q313.6 793 314 800 L312.8 826.8" fill="none" stroke="#5a1214" stroke-width="3.8" stroke-linecap="round"/><path d="M297.5 794.8 L308 793.3 Q313.6 793 314 800 L312.8 826.8" fill="none" stroke="#c3262b" stroke-width="2" stroke-linecap="round"/></g>
<text x="128.8" y="748.8" font-size="20" font-weight="bold" text-anchor="start" fill="#111" textLength="71.8" lengthAdjust="spacingAndGlyphs" >SNARE</text>
<text x="128.8" y="773.6" font-size="20" font-weight="bold" text-anchor="start" fill="#111" textLength="92.5" lengthAdjust="spacingAndGlyphs" >complex</text>
<path d="M233.8 770 L253.8 780.8" stroke="#1a1a1a" stroke-width="1.6" fill="none"/>
<text x="133.8" y="883.3" font-size="20.5" font-weight="bold" text-anchor="start" fill="#111" textLength="199.5" lengthAdjust="spacingAndGlyphs" stroke="#111" stroke-width=".85">Membrane fusion</text>
<path d="M350.8 858.1 L350.8 911.4" stroke="#111" stroke-width="2.2" fill="none"/>
<path d="M345.6 907.6 L350.8 909.8 L356 907.6 L350.8 916.4Z" fill="#111"/>
<rect x="361.7" y="863.6" width="30" height="29.3" fill="#0d0d0d"/>
<text x="376.7" y="886.1" font-size="22" font-weight="bold" text-anchor="middle" fill="#f4e04d" stroke="#f4e04d" stroke-width=".5">3</text>
<path d="M281.1 1064.7 L281.2 1064.5 L281.2 1064.5 L281.2 1064.5 L281.2 1064.5 L281.2 1064.4 L281.3 1064.2 L281.4 1063.9 L281.5 1063.4 L281.5 1062.9 L281.6 1062.2 L281.6 1061.2 L281.6 1060.1 L281.6 1058.7 L281.6 1057.3 L281.6 1055.7 L281.6 1054.1 L281.7 1052.3 L281.9 1050.6 L282.1 1049.1 L282.4 1047.6 L282.6 1046.2 L282.9 1044.7 L283.2 1043.1 L283.6 1041.5 L284 1039.9 L284.5 1038.3 L285 1036.7 L285.6 1035 L286.2 1033.4 L286.9 1031.8 L287.6 1030.2 L288.3 1028.5 L289.1 1026.8 L290 1025 L290.9 1023.3 L291.9 1021.5 L293 1019.8 L294.1 1018.1 L295.3 1016.5 L296.5 1014.9 L297.8 1013.3 L299.1 1011.8 L300.5 1010.2 L302 1008.7 L303.5 1007.2 L305.1 1005.7 L306.8 1004.3 L308.4 1003 L310.1 1001.8 L311.7 1000.7 L313.4 999.6 L315.2 998.5 L317 997.6 L318.9 996.6 L320.8 995.7 L322.9 994.9 L325.1 994.1 L327.3 993.4 L329.6 992.7 L332.1 992.1 L334.7 991.4 L337.4 990.8 L340.2 990.3 L343 989.8 L345.9 989.4 L348.9 989.1 L351.8 988.9 L354.8 988.8 L357.7 988.9 L360.6 989.1 L363.6 989.4 L366.5 989.8 L369.3 990.3 L372.1 990.8 L374.8 991.4 L377.4 992.1 L379.9 992.7 L382.2 993.4 L384.4 994.1 L386.6 994.9 L388.7 995.7 L390.6 996.6 L392.5 997.6 L394.3 998.5 L396.1 999.6 L397.8 1000.7 L399.4 1001.8 L401.1 1003 L402.7 1004.3 L404.4 1005.7 L406 1007.2 L407.5 1008.7 L409 1010.2 L410.4 1011.8 L411.7 1013.3 L413 1014.9 L414.2 1016.5 L415.4 1018.1 L416.5 1019.8 L417.6 1021.5 L418.6 1023.3 L419.5 1025 L420.4 1026.8 L421.2 1028.5 L421.9 1030.2 L422.6 1031.8 L423.3 1033.4 L423.9 1035 L424.5 1036.7 L425 1038.3 L425.5 1039.9 L425.9 1041.5 L426.3 1043.1 L426.6 1044.7 L426.9 1046.2 L427.1 1047.6 L427.4 1049.1 L427.6 1050.6 L427.8 1052.3 L427.9 1054.1 L427.9 1055.7 L427.9 1057.3 L427.9 1058.7 L427.9 1060.1 L427.9 1061.2 L427.9 1062.2 L428 1062.9 L428 1063.4 L428.1 1063.9 L428.2 1064.2 L428.3 1064.4 L428.3 1064.5 L428.3 1064.5 L428.3 1064.5 L428.3 1064.5 L428.4 1064.7Z" fill="url(#dm)"/>
<path d="M279.8 1067.4 L279.9 1067.2 L279.9 1067.2 L279.9 1067.2 L279.9 1067.2 L280 1067.1 L280 1066.9 L280.1 1066.6 L280.2 1066.1 L280.3 1065.6 L280.3 1064.9 L280.3 1063.9 L280.3 1062.8 L280.3 1061.4 L280.3 1060 L280.3 1058.4 L280.4 1056.8 L280.5 1055 L280.7 1053.3 L280.9 1051.8 L281.1 1050.3 L281.4 1048.9 L281.7 1047.4 L282 1045.8 L282.4 1044.2 L282.8 1042.6 L283.3 1041 L283.8 1039.4 L284.4 1037.7 L285 1036.1 L285.6 1034.5 L286.3 1032.9 L287.1 1031.2 L287.9 1029.5 L288.7 1027.7 L289.7 1026 L290.7 1024.2 L291.7 1022.5 L292.9 1020.8 L294 1019.2 L295.3 1017.6 L296.5 1016 L297.9 1014.5 L299.3 1012.9 L300.8 1011.4 L302.3 1009.9 L303.9 1008.4 L305.5 1007 L307.2 1005.7 L308.8 1004.5 L310.5 1003.4 L312.2 1002.3 L313.9 1001.2 L315.7 1000.3 L317.6 999.3 L319.6 998.4 L321.6 997.6 L323.8 996.8 L326 996.1 L328.4 995.4 L330.8 994.8 L333.4 994.1 L336.1 993.5 L338.9 993 L341.8 992.5 L344.7 992.1 L347.6 991.8 L350.6 991.6 L353.5 991.5 L356.4 991.6 L359.4 991.8 L362.3 992.1 L365.2 992.5 L368.1 993 L370.9 993.5 L373.6 994.1 L376.2 994.8 L378.6 995.4 L381 996.1 L383.2 996.8 L385.4 997.6 L387.4 998.4 L389.4 999.3 L391.3 1000.3 L393.1 1001.2 L394.8 1002.3 L396.5 1003.4 L398.2 1004.5 L399.8 1005.7 L401.5 1007 L403.1 1008.4 L404.7 1009.9 L406.2 1011.4 L407.7 1012.9 L409.1 1014.5 L410.5 1016 L411.7 1017.6 L413 1019.2 L414.1 1020.8 L415.3 1022.5 L416.3 1024.2 L417.3 1026 L418.3 1027.7 L419.1 1029.5 L419.9 1031.2 L420.7 1032.9 L421.4 1034.5 L422 1036.1 L422.6 1037.7 L423.2 1039.4 L423.7 1041 L424.2 1042.6 L424.6 1044.2 L425 1045.8 L425.3 1047.4 L425.6 1048.9 L425.9 1050.3 L426.1 1051.8 L426.3 1053.3 L426.5 1055 L426.6 1056.8 L426.7 1058.4 L426.7 1060 L426.7 1061.4 L426.7 1062.8 L426.7 1063.9 L426.7 1064.9 L426.7 1065.6 L426.8 1066.1 L426.9 1066.6 L427 1066.9 L427 1067.1 L427.1 1067.2 L427.1 1067.2 L427.1 1067.2 L427.1 1067.2 L427.2 1067.4Z" fill="url(#dm)"/>
<path d="M278.6 1070.1 L278.7 1069.9 L278.7 1069.9 L278.7 1069.9 L278.7 1069.9 L278.7 1069.8 L278.8 1069.6 L278.9 1069.3 L279 1068.8 L279 1068.3 L279.1 1067.6 L279.1 1066.6 L279.1 1065.5 L279.1 1064.1 L279.1 1062.7 L279.1 1061.1 L279.1 1059.5 L279.2 1057.7 L279.4 1056 L279.6 1054.5 L279.9 1053 L280.1 1051.6 L280.4 1050.1 L280.7 1048.5 L281.1 1046.9 L281.5 1045.3 L282 1043.7 L282.5 1042.1 L283.1 1040.4 L283.7 1038.8 L284.4 1037.2 L285.1 1035.6 L285.8 1033.9 L286.6 1032.2 L287.5 1030.4 L288.4 1028.7 L289.4 1026.9 L290.5 1025.2 L291.6 1023.5 L292.8 1021.9 L294 1020.3 L295.3 1018.7 L296.6 1017.2 L298 1015.6 L299.5 1014.1 L301 1012.6 L302.6 1011.1 L304.3 1009.7 L305.9 1008.4 L307.6 1007.2 L309.2 1006.1 L310.9 1005 L312.7 1003.9 L314.5 1003 L316.4 1002 L318.3 1001.1 L320.4 1000.3 L322.6 999.5 L324.8 998.8 L327.1 998.1 L329.6 997.5 L332.2 996.8 L334.9 996.2 L337.7 995.7 L340.5 995.2 L343.4 994.8 L346.4 994.5 L349.3 994.3 L352.2 994.2 L355.2 994.3 L358.1 994.5 L361.1 994.8 L364 995.2 L366.8 995.7 L369.6 996.2 L372.3 996.8 L374.9 997.5 L377.4 998.1 L379.7 998.8 L381.9 999.5 L384.1 1000.3 L386.2 1001.1 L388.1 1002 L390 1003 L391.8 1003.9 L393.6 1005 L395.3 1006.1 L396.9 1007.2 L398.6 1008.4 L400.2 1009.7 L401.9 1011.1 L403.5 1012.6 L405 1014.1 L406.5 1015.6 L407.9 1017.2 L409.2 1018.7 L410.5 1020.3 L411.7 1021.9 L412.9 1023.5 L414 1025.2 L415.1 1026.9 L416.1 1028.7 L417 1030.4 L417.9 1032.2 L418.7 1033.9 L419.4 1035.6 L420.1 1037.2 L420.8 1038.8 L421.4 1040.4 L422 1042.1 L422.5 1043.7 L423 1045.3 L423.4 1046.9 L423.8 1048.5 L424.1 1050.1 L424.4 1051.6 L424.6 1053 L424.9 1054.5 L425.1 1056 L425.3 1057.7 L425.4 1059.5 L425.4 1061.1 L425.4 1062.7 L425.4 1064.1 L425.4 1065.5 L425.4 1066.6 L425.4 1067.6 L425.5 1068.3 L425.5 1068.8 L425.6 1069.3 L425.7 1069.6 L425.8 1069.8 L425.8 1069.9 L425.8 1069.9 L425.8 1069.9 L425.8 1069.9 L425.9 1070.1Z" fill="url(#dm)"/>
<path d="M277.3 1072.8 L277.4 1072.6 L277.4 1072.6 L277.4 1072.6 L277.4 1072.6 L277.5 1072.5 L277.5 1072.3 L277.6 1072 L277.7 1071.5 L277.8 1071 L277.8 1070.3 L277.8 1069.3 L277.8 1068.2 L277.8 1066.8 L277.8 1065.4 L277.8 1063.8 L277.9 1062.2 L278 1060.4 L278.2 1058.7 L278.4 1057.2 L278.6 1055.7 L278.9 1054.3 L279.2 1052.8 L279.5 1051.2 L279.9 1049.6 L280.3 1048 L280.8 1046.4 L281.3 1044.8 L281.9 1043.1 L282.5 1041.5 L283.1 1039.9 L283.8 1038.3 L284.6 1036.6 L285.4 1034.9 L286.2 1033.1 L287.2 1031.4 L288.2 1029.6 L289.2 1027.9 L290.4 1026.2 L291.5 1024.6 L292.8 1023 L294 1021.4 L295.4 1019.9 L296.8 1018.3 L298.3 1016.8 L299.8 1015.3 L301.4 1013.8 L303 1012.4 L304.7 1011.1 L306.3 1009.9 L308 1008.8 L309.7 1007.7 L311.4 1006.6 L313.2 1005.7 L315.1 1004.7 L317.1 1003.8 L319.1 1003 L321.3 1002.2 L323.5 1001.5 L325.9 1000.8 L328.3 1000.2 L330.9 999.5 L333.6 998.9 L336.4 998.4 L339.3 997.9 L342.2 997.5 L345.1 997.2 L348.1 997 L351 996.9 L353.9 997 L356.9 997.2 L359.8 997.5 L362.7 997.9 L365.6 998.4 L368.4 998.9 L371.1 999.5 L373.7 1000.2 L376.1 1000.8 L378.5 1001.5 L380.7 1002.2 L382.9 1003 L384.9 1003.8 L386.9 1004.7 L388.8 1005.7 L390.6 1006.6 L392.3 1007.7 L394 1008.8 L395.7 1009.9 L397.3 1011.1 L399 1012.4 L400.6 1013.8 L402.2 1015.3 L403.7 1016.8 L405.2 1018.3 L406.6 1019.9 L408 1021.4 L409.2 1023 L410.5 1024.6 L411.6 1026.2 L412.8 1027.9 L413.8 1029.6 L414.8 1031.4 L415.8 1033.1 L416.6 1034.9 L417.4 1036.6 L418.2 1038.3 L418.9 1039.9 L419.5 1041.5 L420.1 1043.1 L420.7 1044.8 L421.2 1046.4 L421.7 1048 L422.1 1049.6 L422.5 1051.2 L422.8 1052.8 L423.1 1054.3 L423.4 1055.7 L423.6 1057.2 L423.8 1058.7 L424 1060.4 L424.1 1062.2 L424.2 1063.8 L424.2 1065.4 L424.2 1066.8 L424.2 1068.2 L424.2 1069.3 L424.2 1070.3 L424.2 1071 L424.3 1071.5 L424.4 1072 L424.5 1072.3 L424.5 1072.5 L424.6 1072.6 L424.6 1072.6 L424.6 1072.6 L424.6 1072.6 L424.7 1072.8Z" fill="url(#dm)"/>
<path d="M276.1 1075.5 L276.2 1075.3 L276.2 1075.3 L276.2 1075.3 L276.2 1075.3 L276.2 1075.2 L276.3 1075 L276.4 1074.7 L276.5 1074.2 L276.5 1073.7 L276.6 1073 L276.6 1072 L276.6 1070.9 L276.6 1069.5 L276.6 1068.1 L276.6 1066.5 L276.6 1064.9 L276.7 1063.1 L276.9 1061.4 L277.1 1059.9 L277.4 1058.4 L277.6 1057 L277.9 1055.5 L278.2 1053.9 L278.6 1052.3 L279 1050.7 L279.5 1049.1 L280 1047.5 L280.6 1045.8 L281.2 1044.2 L281.9 1042.6 L282.6 1041 L283.3 1039.3 L284.1 1037.6 L285 1035.8 L285.9 1034.1 L286.9 1032.3 L288 1030.6 L289.1 1028.9 L290.3 1027.3 L291.5 1025.7 L292.8 1024.1 L294.1 1022.6 L295.5 1021 L297 1019.5 L298.5 1018 L300.1 1016.5 L301.8 1015.1 L303.4 1013.8 L305.1 1012.6 L306.7 1011.5 L308.4 1010.4 L310.2 1009.3 L312 1008.4 L313.9 1007.4 L315.8 1006.5 L317.9 1005.7 L320.1 1004.9 L322.3 1004.2 L324.6 1003.5 L327.1 1002.9 L329.7 1002.2 L332.4 1001.6 L335.2 1001.1 L338 1000.6 L340.9 1000.2 L343.9 999.9 L346.8 999.7 L349.8 999.6 L352.7 999.7 L355.6 999.9 L358.6 1000.2 L361.5 1000.6 L364.3 1001.1 L367.1 1001.6 L369.8 1002.2 L372.4 1002.9 L374.9 1003.5 L377.2 1004.2 L379.4 1004.9 L381.6 1005.7 L383.7 1006.5 L385.6 1007.4 L387.5 1008.4 L389.3 1009.3 L391.1 1010.4 L392.8 1011.5 L394.4 1012.6 L396.1 1013.8 L397.7 1015.1 L399.4 1016.5 L401 1018 L402.5 1019.5 L404 1021 L405.4 1022.6 L406.7 1024.1 L408 1025.7 L409.2 1027.3 L410.4 1028.9 L411.5 1030.6 L412.6 1032.3 L413.6 1034.1 L414.5 1035.8 L415.4 1037.6 L416.2 1039.3 L416.9 1041 L417.6 1042.6 L418.3 1044.2 L418.9 1045.8 L419.5 1047.5 L420 1049.1 L420.5 1050.7 L420.9 1052.3 L421.3 1053.9 L421.6 1055.5 L421.9 1057 L422.1 1058.4 L422.4 1059.9 L422.6 1061.4 L422.8 1063.1 L422.9 1064.9 L422.9 1066.5 L422.9 1068.1 L422.9 1069.5 L422.9 1070.9 L422.9 1072 L422.9 1073 L423 1073.7 L423 1074.2 L423.1 1074.7 L423.2 1075 L423.3 1075.2 L423.3 1075.3 L423.3 1075.3 L423.3 1075.3 L423.3 1075.3 L423.4 1075.5Z" fill="url(#dm)"/>
<path d="M284.2 1077.9 L284.4 1077.2 L284.6 1076.4 L284.8 1075.5 L284.9 1074.5 L284.9 1073.4 L285 1072.1 L285 1070.8 L285 1069.5 L285 1068.1 L285 1066.7 L285 1065.3 L285.1 1063.9 L285.2 1062.5 L285.4 1061.2 L285.7 1059.8 L285.9 1058.5 L286.1 1057.1 L286.4 1055.8 L286.8 1054.4 L287.1 1053 L287.5 1051.6 L288 1050.2 L288.5 1048.8 L289.1 1047.3 L289.6 1045.8 L290.3 1044.3 L291 1042.8 L291.7 1041.2 L292.4 1039.7 L293.2 1038.2 L294.1 1036.7 L295 1035.2 L296 1033.8 L297 1032.3 L298.1 1030.9 L299.3 1029.5 L300.5 1028.1 L301.7 1026.7 L303 1025.4 L304.3 1024.1 L305.7 1022.8 L307.1 1021.6 L308.5 1020.5 L309.9 1019.5 L311.4 1018.5 L312.8 1017.5 L314.3 1016.6 L315.8 1015.8 L317.4 1015 L319.1 1014.3 L320.9 1013.6 L322.8 1012.9 L324.8 1012.2 L326.9 1011.6 L329.2 1011 L331.6 1010.4 L334.1 1009.9 L336.7 1009.3 L339.3 1008.9 L342 1008.5 L344.6 1008.2 L347.2 1008.1 L349.8 1008 L352.3 1008.1 L354.9 1008.2 L357.5 1008.5 L360.2 1008.9 L362.8 1009.3 L365.4 1009.9 L367.9 1010.4 L370.3 1011 L372.6 1011.6 L374.8 1012.2 L376.7 1012.9 L378.6 1013.6 L380.4 1014.3 L382.1 1015 L383.7 1015.8 L385.2 1016.6 L386.7 1017.5 L388.1 1018.5 L389.6 1019.5 L391 1020.5 L392.4 1021.6 L393.8 1022.8 L395.2 1024.1 L396.5 1025.4 L397.8 1026.7 L399 1028.1 L400.2 1029.5 L401.4 1030.9 L402.5 1032.3 L403.5 1033.8 L404.5 1035.2 L405.4 1036.7 L406.3 1038.2 L407.1 1039.7 L407.8 1041.2 L408.5 1042.8 L409.2 1044.3 L409.9 1045.8 L410.4 1047.3 L411 1048.8 L411.5 1050.2 L412 1051.6 L412.4 1053 L412.7 1054.4 L413.1 1055.8 L413.4 1057.1 L413.6 1058.5 L413.8 1059.8 L414.1 1061.2 L414.2 1062.5 L414.4 1063.9 L414.5 1065.3 L414.5 1066.7 L414.5 1068.1 L414.5 1069.5 L414.5 1070.8 L414.5 1072.1 L414.5 1073.4 L414.6 1074.5 L414.8 1075.5 L414.9 1076.4 L415.1 1077.2 L415.3 1077.9Z" fill="#fff"/>
<path d="M192 1096 L222 1066 L232.5 1062.3 L255 1056 L278 1050.5 L286 1052 L285.4 1061.2 L285.2 1062.5 L285.1 1063.9 L285 1065.3 L285 1066.7 L285 1068.1 L285 1069.5 L285 1070.8 L285 1072.1 L284.9 1073.4 L284.9 1074.5 L284.8 1075.5 L284.6 1076.4 L284.4 1077.2 L284.2 1077.9 L284 1078.5 L283.7 1079 L283.4 1079.5 L283.1 1080 L282.8 1080.5 L282.4 1081 L282 1081.5 L281.5 1082 L281.1 1082.5 L280.6 1083 L280 1083.5 L279.5 1084 L278.8 1084.4 L278.2 1084.8 L277.5 1085.2 L276.8 1085.6 L276 1086 L275.3 1086.3 L274.7 1086.6 L274.1 1086.9 L273.5 1087.1 L272.9 1087.3 L272.1 1087.5 L271 1087.7 L269.7 1088 L268.1 1088.4 L266 1088.8 L263.5 1089.3 L260.5 1089.8 L257.2 1090.4 L253.6 1091.1 L249.8 1091.8 L245.8 1092.4 L241.8 1093.1 L237.8 1093.8 L233.8 1094.5 L230 1095.2 L226.1 1095.9 L221.8 1096.6 L217.4 1097.4 L212.9 1098.2 L208.4 1099 L204.1 1099.8 L200.2 1100.4 L196.6 1101.1 L193.6 1101.6 L191.3 1102Z" fill="url(#sl4a)"/>
<path d="M192 1096 L222 1066 L232.5 1062.3 L255 1056 L278 1050.5 L286 1052 L285.4 1061.2 L285.2 1062.5 L285.1 1063.9 L285 1065.3 L285 1066.7 L285 1068.1 L285 1069.5 L285 1070.8 L285 1072.1 L284.9 1073.4 L284.9 1074.5 L284.8 1075.5 L284.6 1076.4 L284.4 1077.2 L284.2 1077.9 L284 1078.5 L283.7 1079 L283.4 1079.5 L283.1 1080 L282.8 1080.5 L282.4 1081 L282 1081.5 L281.5 1082 L281.1 1082.5 L280.6 1083 L280 1083.5 L279.5 1084 L278.8 1084.4 L278.2 1084.8 L277.5 1085.2 L276.8 1085.6 L276 1086 L275.3 1086.3 L274.7 1086.6 L274.1 1086.9 L273.5 1087.1 L272.9 1087.3 L272.1 1087.5 L271 1087.7 L269.7 1088 L268.1 1088.4 L266 1088.8 L263.5 1089.3 L260.5 1089.8 L257.2 1090.4 L253.6 1091.1 L249.8 1091.8 L245.8 1092.4 L241.8 1093.1 L237.8 1093.8 L233.8 1094.5 L230 1095.2 L226.1 1095.9 L221.8 1096.6 L217.4 1097.4 L212.9 1098.2 L208.4 1099 L204.1 1099.8 L200.2 1100.4 L196.6 1101.1 L193.6 1101.6 L191.3 1102Z" fill="url(#sl4ao)"/>
<path d="M413.5 1052 L423.5 1050.5 L450 1056 L481 1068 L508 1096 L508.2 1102 L505.9 1101.6 L502.9 1101.1 L499.3 1100.4 L495.4 1099.8 L491.1 1099 L486.6 1098.2 L482.1 1097.4 L477.7 1096.6 L473.4 1095.9 L469.5 1095.2 L465.7 1094.5 L461.7 1093.8 L457.7 1093.1 L453.7 1092.4 L449.7 1091.7 L445.9 1091.1 L442.3 1090.4 L439 1089.8 L436 1089.3 L433.5 1088.8 L431.4 1088.4 L429.8 1088 L428.5 1087.7 L427.4 1087.5 L426.6 1087.3 L426 1087.1 L425.4 1086.9 L424.8 1086.6 L424.2 1086.3 L423.5 1086 L422.7 1085.6 L422 1085.2 L421.3 1084.8 L420.7 1084.4 L420 1084 L419.5 1083.5 L418.9 1083 L418.4 1082.5 L418 1082 L417.5 1081.5 L417.1 1081 L416.7 1080.5 L416.4 1080 L416.1 1079.5 L415.8 1079 L415.5 1078.5 L415.3 1077.9 L415.1 1077.2 L414.9 1076.4 L414.8 1075.5 L414.6 1074.5 L414.5 1073.4 L414.5 1072.1 L414.5 1070.8 L414.5 1069.5 L414.5 1068.1 L414.5 1066.7 L414.5 1065.3 L414.4 1063.9 L414.2 1062.5 L414.1 1061.2Z" fill="url(#sl4b)"/>
<path d="M284.2 1077.9 L284.4 1077.2 L284.6 1076.4 L284.8 1075.5 L284.9 1074.5 L284.9 1073.4 L285 1072.1 L285 1070.8 L285 1069.5 L285 1068.1 L285 1066.7 L285 1065.3 L285.1 1063.9 L285.2 1062.5 L285.4 1061.2 L285.7 1059.8 L285.9 1058.5 L286.1 1057.1 L286.4 1055.8 L286.8 1054.4 L287.1 1053 L287.5 1051.6 L288 1050.2 L288.5 1048.8 L289.1 1047.3 L289.6 1045.8 L290.3 1044.3 L291 1042.8 L291.7 1041.2 L292.4 1039.7 L293.2 1038.2 L294.1 1036.7 L295 1035.2 L296 1033.8 L297 1032.3 L298.1 1030.9 L299.3 1029.5 L300.5 1028.1 L301.7 1026.7 L303 1025.4 L304.3 1024.1 L305.7 1022.8 L307.1 1021.6 L308.5 1020.5 L309.9 1019.5 L311.4 1018.5 L312.8 1017.5 L314.3 1016.6 L315.8 1015.8 L317.4 1015 L319.1 1014.3 L320.9 1013.6 L322.8 1012.9 L324.8 1012.2 L326.9 1011.6 L329.2 1011 L331.6 1010.4 L334.1 1009.9 L336.7 1009.3 L339.3 1008.9 L342 1008.5 L344.6 1008.2 L347.2 1008.1 L349.8 1008 L352.3 1008.1 L354.9 1008.2 L357.5 1008.5 L360.2 1008.9 L362.8 1009.3 L365.4 1009.9 L367.9 1010.4 L370.3 1011 L372.6 1011.6 L374.8 1012.2 L376.7 1012.9 L378.6 1013.6 L380.4 1014.3 L382.1 1015 L383.7 1015.8 L385.2 1016.6 L386.7 1017.5 L388.1 1018.5 L389.6 1019.5 L391 1020.5 L392.4 1021.6 L393.8 1022.8 L395.2 1024.1 L396.5 1025.4 L397.8 1026.7 L399 1028.1 L400.2 1029.5 L401.4 1030.9 L402.5 1032.3 L403.5 1033.8 L404.5 1035.2 L405.4 1036.7 L406.3 1038.2 L407.1 1039.7 L407.8 1041.2 L408.5 1042.8 L409.2 1044.3 L409.9 1045.8 L410.4 1047.3 L411 1048.8 L411.5 1050.2 L412 1051.6 L412.4 1053 L412.7 1054.4 L413.1 1055.8 L413.4 1057.1 L413.6 1058.5 L413.8 1059.8 L414.1 1061.2 L414.2 1062.5 L414.4 1063.9 L414.5 1065.3 L414.5 1066.7 L414.5 1068.1 L414.5 1069.5 L414.5 1070.8 L414.5 1072.1 L414.5 1073.4 L414.6 1074.5 L414.8 1075.5 L414.9 1076.4 L415.1 1077.2 L415.3 1077.9 L407.5 1089 L407.3 1089 L407.1 1089 L406.8 1089 L406.4 1088.9 L405.7 1088.4 L404.8 1087.5 L403.4 1086 L401.8 1084.1 L399.9 1081.9 L397.8 1079.5 L395.7 1077.1 L393.5 1075 L391.2 1073 L388.8 1070.9 L386.2 1068.9 L383.6 1067 L381 1065.3 L378.5 1063.8 L376 1062.5 L373.5 1061.3 L370.9 1060.4 L368.4 1059.6 L365.9 1058.9 L363.5 1058.2 L361.1 1057.8 L358.8 1057.4 L356.5 1057.2 L354.3 1057.1 L352 1057 L349.8 1057 L347.5 1057 L345.2 1057.1 L343 1057.2 L340.7 1057.4 L338.4 1057.8 L336 1058.2 L333.6 1058.9 L331.1 1059.6 L328.6 1060.4 L326 1061.3 L323.5 1062.5 L321 1063.8 L318.4 1065.3 L315.8 1067 L313.2 1068.9 L310.6 1070.9 L308.2 1073 L306 1075 L304 1077.1 L302.1 1079.5 L300.3 1081.9 L298.7 1084.1 L297.3 1086 L296 1087.5 L294.9 1088.4 L294.1 1088.9 L293.4 1089 L292.8 1089 L292.4 1089 L292 1089Z" fill="url(#dmi)"/>
<ellipse cx="217.9" cy="1004.9" rx="30.3" ry="21.2" fill="url(#asnap)" stroke="#3f7047" stroke-width="1"/>
<circle cx="218.7" cy="940.9" r="22" fill="url(#nsf)" stroke="#1c3a22" stroke-width="1.1"/>
<circle cx="189.2" cy="948.5" r="22.3" fill="url(#nsf)" stroke="#1c3a22" stroke-width="1.1"/>
<circle cx="248.3" cy="948.5" r="22.3" fill="url(#nsf)" stroke="#1c3a22" stroke-width="1.1"/>
<circle cx="188.9" cy="974.4" r="22.3" fill="url(#nsf)" stroke="#1c3a22" stroke-width="1.1"/>
<circle cx="249.2" cy="974.4" r="22.3" fill="url(#nsf)" stroke="#1c3a22" stroke-width="1.1"/>
<circle cx="218.7" cy="980.7" r="22" fill="url(#nsf)" stroke="#1c3a22" stroke-width="1.1"/>
<ellipse cx="485.8" cy="1004.9" rx="30.3" ry="21.2" fill="url(#asnap)" stroke="#3f7047" stroke-width="1"/>
<circle cx="486.6" cy="940.9" r="22" fill="url(#nsf)" stroke="#1c3a22" stroke-width="1.1"/>
<circle cx="457.1" cy="948.5" r="22.3" fill="url(#nsf)" stroke="#1c3a22" stroke-width="1.1"/>
<circle cx="516.2" cy="948.5" r="22.3" fill="url(#nsf)" stroke="#1c3a22" stroke-width="1.1"/>
<circle cx="456.8" cy="974.4" r="22.3" fill="url(#nsf)" stroke="#1c3a22" stroke-width="1.1"/>
<circle cx="517.1" cy="974.4" r="22.3" fill="url(#nsf)" stroke="#1c3a22" stroke-width="1.1"/>
<circle cx="486.6" cy="980.7" r="22" fill="url(#nsf)" stroke="#1c3a22" stroke-width="1.1"/>
<path d="M191.3 1102 L193.6 1101.6 L196.6 1101.1 L200.2 1100.4 L204.1 1099.8 L208.4 1099 L212.9 1098.2 L217.4 1097.4 L221.8 1096.6 L226.1 1095.9 L230 1095.2 L233.8 1094.5 L237.8 1093.8 L241.8 1093.1 L245.8 1092.4 L249.8 1091.8 L253.6 1091.1 L257.2 1090.4 L260.5 1089.8 L263.5 1089.3 L266 1088.8 L268.1 1088.4 L269.7 1088 L271 1087.7 L272.1 1087.5 L272.9 1087.3 L273.5 1087.1 L274.1 1086.9 L274.7 1086.6 L275.3 1086.3 L276 1086 L276.8 1085.6 L277.5 1085.2 L278.2 1084.8 L278.8 1084.4 L279.5 1084 L280 1083.5 L280.6 1083 L281.1 1082.5 L281.5 1082 L282 1081.5 L282.4 1081 L282.8 1080.5 L283.1 1080 L283.4 1079.5 L283.7 1079 L284 1078.5 L284.2 1077.9 L284.4 1077.2 L284.6 1076.4 L284.8 1075.5 L284.9 1074.5 L284.9 1073.4 L285 1072.1 L285 1070.8 L285 1069.5 L285 1068.1 L285 1066.7 L285 1065.3 L285.1 1063.9 L285.2 1062.5 L285.4 1061.2 L285.7 1059.8 L285.9 1058.5 L286.1 1057.1 L286.4 1055.8 L286.8 1054.4 L287.1 1053 L287.5 1051.6 L288 1050.2 L288.5 1048.8 L289.1 1047.3 L289.6 1045.8 L290.3 1044.3 L291 1042.8 L291.7 1041.2 L292.4 1039.7 L293.2 1038.2 L294.1 1036.7 L295 1035.2 L296 1033.8 L297 1032.3 L298.1 1030.9 L299.3 1029.5 L300.5 1028.1 L301.7 1026.7 L303 1025.4 L304.3 1024.1 L305.7 1022.8 L307.1 1021.6 L308.5 1020.5 L309.9 1019.5 L311.4 1018.5 L312.8 1017.5 L314.3 1016.6 L315.8 1015.8 L317.4 1015 L319.1 1014.3 L320.9 1013.6 L322.8 1012.9 L324.8 1012.2 L326.9 1011.6 L329.2 1011 L331.6 1010.4 L334.1 1009.9 L336.7 1009.3 L339.3 1008.9 L342 1008.5 L344.6 1008.2 L347.2 1008.1 L349.8 1008 L352.3 1008.1 L354.9 1008.2 L357.5 1008.5 L360.2 1008.9 L362.8 1009.3 L365.4 1009.9 L367.9 1010.4 L370.3 1011 L372.6 1011.6 L374.8 1012.2 L376.7 1012.9 L378.6 1013.6 L380.4 1014.3 L382.1 1015 L383.7 1015.8 L385.2 1016.6 L386.7 1017.5 L388.1 1018.5 L389.6 1019.5 L391 1020.5 L392.4 1021.6 L393.8 1022.8 L395.2 1024.1 L396.5 1025.4 L397.8 1026.7 L399 1028.1 L400.2 1029.5 L401.4 1030.9 L402.5 1032.3 L403.5 1033.8 L404.5 1035.2 L405.4 1036.7 L406.3 1038.2 L407.1 1039.7 L407.8 1041.2 L408.5 1042.8 L409.2 1044.3 L409.9 1045.8 L410.4 1047.3 L411 1048.8 L411.5 1050.2 L412 1051.6 L412.4 1053 L412.7 1054.4 L413.1 1055.8 L413.4 1057.1 L413.6 1058.5 L413.8 1059.8 L414.1 1061.2 L414.2 1062.5 L414.4 1063.9 L414.5 1065.3 L414.5 1066.7 L414.5 1068.1 L414.5 1069.5 L414.5 1070.8 L414.5 1072.1 L414.5 1073.4 L414.6 1074.5 L414.8 1075.5 L414.9 1076.4 L415.1 1077.2 L415.3 1077.9 L415.5 1078.5 L415.8 1079 L416.1 1079.5 L416.4 1080 L416.7 1080.5 L417.1 1081 L417.5 1081.5 L418 1082 L418.4 1082.5 L418.9 1083 L419.5 1083.5 L420 1084 L420.7 1084.4 L421.3 1084.8 L422 1085.2 L422.7 1085.6 L423.5 1086 L424.2 1086.3 L424.8 1086.6 L425.4 1086.9 L426 1087.1 L426.6 1087.3 L427.4 1087.5 L428.5 1087.7 L429.8 1088 L431.4 1088.4 L433.5 1088.8 L436 1089.3 L439 1089.8 L442.3 1090.4 L445.9 1091.1 L449.7 1091.7 L453.7 1092.4 L457.7 1093.1 L461.7 1093.8 L465.7 1094.5 L469.5 1095.2 L473.4 1095.9 L477.7 1096.6 L482.1 1097.4 L486.6 1098.2 L491.1 1099 L495.4 1099.8 L499.3 1100.4 L502.9 1101.1 L505.9 1101.6 L508.2 1102" fill="none" stroke="#7a7c7f" stroke-width="14.4"/>
<path d="M191.3 1102 L193.6 1101.6 L196.6 1101.1 L200.2 1100.4 L204.1 1099.8 L208.4 1099 L212.9 1098.2 L217.4 1097.4 L221.8 1096.6 L226.1 1095.9 L230 1095.2 L233.8 1094.5 L237.8 1093.8 L241.8 1093.1 L245.8 1092.4 L249.8 1091.8 L253.6 1091.1 L257.2 1090.4 L260.5 1089.8 L263.5 1089.3 L266 1088.8 L268.1 1088.4 L269.7 1088 L271 1087.7 L272.1 1087.5 L272.9 1087.3 L273.5 1087.1 L274.1 1086.9 L274.7 1086.6 L275.3 1086.3 L276 1086 L276.8 1085.6 L277.5 1085.2 L278.2 1084.8 L278.8 1084.4 L279.5 1084 L280 1083.5 L280.6 1083 L281.1 1082.5 L281.5 1082 L282 1081.5 L282.4 1081 L282.8 1080.5 L283.1 1080 L283.4 1079.5 L283.7 1079 L284 1078.5 L284.2 1077.9 L284.4 1077.2 L284.6 1076.4 L284.8 1075.5 L284.9 1074.5 L284.9 1073.4 L285 1072.1 L285 1070.8 L285 1069.5 L285 1068.1 L285 1066.7 L285 1065.3 L285.1 1063.9 L285.2 1062.5 L285.4 1061.2 L285.7 1059.8 L285.9 1058.5 L286.1 1057.1 L286.4 1055.8 L286.8 1054.4 L287.1 1053 L287.5 1051.6 L288 1050.2 L288.5 1048.8 L289.1 1047.3 L289.6 1045.8 L290.3 1044.3 L291 1042.8 L291.7 1041.2 L292.4 1039.7 L293.2 1038.2 L294.1 1036.7 L295 1035.2 L296 1033.8 L297 1032.3 L298.1 1030.9 L299.3 1029.5 L300.5 1028.1 L301.7 1026.7 L303 1025.4 L304.3 1024.1 L305.7 1022.8 L307.1 1021.6 L308.5 1020.5 L309.9 1019.5 L311.4 1018.5 L312.8 1017.5 L314.3 1016.6 L315.8 1015.8 L317.4 1015 L319.1 1014.3 L320.9 1013.6 L322.8 1012.9 L324.8 1012.2 L326.9 1011.6 L329.2 1011 L331.6 1010.4 L334.1 1009.9 L336.7 1009.3 L339.3 1008.9 L342 1008.5 L344.6 1008.2 L347.2 1008.1 L349.8 1008 L352.3 1008.1 L354.9 1008.2 L357.5 1008.5 L360.2 1008.9 L362.8 1009.3 L365.4 1009.9 L367.9 1010.4 L370.3 1011 L372.6 1011.6 L374.8 1012.2 L376.7 1012.9 L378.6 1013.6 L380.4 1014.3 L382.1 1015 L383.7 1015.8 L385.2 1016.6 L386.7 1017.5 L388.1 1018.5 L389.6 1019.5 L391 1020.5 L392.4 1021.6 L393.8 1022.8 L395.2 1024.1 L396.5 1025.4 L397.8 1026.7 L399 1028.1 L400.2 1029.5 L401.4 1030.9 L402.5 1032.3 L403.5 1033.8 L404.5 1035.2 L405.4 1036.7 L406.3 1038.2 L407.1 1039.7 L407.8 1041.2 L408.5 1042.8 L409.2 1044.3 L409.9 1045.8 L410.4 1047.3 L411 1048.8 L411.5 1050.2 L412 1051.6 L412.4 1053 L412.7 1054.4 L413.1 1055.8 L413.4 1057.1 L413.6 1058.5 L413.8 1059.8 L414.1 1061.2 L414.2 1062.5 L414.4 1063.9 L414.5 1065.3 L414.5 1066.7 L414.5 1068.1 L414.5 1069.5 L414.5 1070.8 L414.5 1072.1 L414.5 1073.4 L414.6 1074.5 L414.8 1075.5 L414.9 1076.4 L415.1 1077.2 L415.3 1077.9 L415.5 1078.5 L415.8 1079 L416.1 1079.5 L416.4 1080 L416.7 1080.5 L417.1 1081 L417.5 1081.5 L418 1082 L418.4 1082.5 L418.9 1083 L419.5 1083.5 L420 1084 L420.7 1084.4 L421.3 1084.8 L422 1085.2 L422.7 1085.6 L423.5 1086 L424.2 1086.3 L424.8 1086.6 L425.4 1086.9 L426 1087.1 L426.6 1087.3 L427.4 1087.5 L428.5 1087.7 L429.8 1088 L431.4 1088.4 L433.5 1088.8 L436 1089.3 L439 1089.8 L442.3 1090.4 L445.9 1091.1 L449.7 1091.7 L453.7 1092.4 L457.7 1093.1 L461.7 1093.8 L465.7 1094.5 L469.5 1095.2 L473.4 1095.9 L477.7 1096.6 L482.1 1097.4 L486.6 1098.2 L491.1 1099 L495.4 1099.8 L499.3 1100.4 L502.9 1101.1 L505.9 1101.6 L508.2 1102" fill="none" stroke="#9c9ea1" stroke-width="9.8"/>
<path d="M191.3 1102 L193.6 1101.6 L196.6 1101.1 L200.2 1100.4 L204.1 1099.8 L208.4 1099 L212.9 1098.2 L217.4 1097.4 L221.8 1096.6 L226.1 1095.9 L230 1095.2 L233.8 1094.5 L237.8 1093.8 L241.8 1093.1 L245.8 1092.4 L249.8 1091.8 L253.6 1091.1 L257.2 1090.4 L260.5 1089.8 L263.5 1089.3 L266 1088.8 L268.1 1088.4 L269.7 1088 L271 1087.7 L272.1 1087.5 L272.9 1087.3 L273.5 1087.1 L274.1 1086.9 L274.7 1086.6 L275.3 1086.3 L276 1086 L276.8 1085.6 L277.5 1085.2 L278.2 1084.8 L278.8 1084.4 L279.5 1084 L280 1083.5 L280.6 1083 L281.1 1082.5 L281.5 1082 L282 1081.5 L282.4 1081 L282.8 1080.5 L283.1 1080 L283.4 1079.5 L283.7 1079 L284 1078.5 L284.2 1077.9 L284.4 1077.2 L284.6 1076.4 L284.8 1075.5 L284.9 1074.5 L284.9 1073.4 L285 1072.1 L285 1070.8 L285 1069.5 L285 1068.1 L285 1066.7 L285 1065.3 L285.1 1063.9 L285.2 1062.5 L285.4 1061.2 L285.7 1059.8 L285.9 1058.5 L286.1 1057.1 L286.4 1055.8 L286.8 1054.4 L287.1 1053 L287.5 1051.6 L288 1050.2 L288.5 1048.8 L289.1 1047.3 L289.6 1045.8 L290.3 1044.3 L291 1042.8 L291.7 1041.2 L292.4 1039.7 L293.2 1038.2 L294.1 1036.7 L295 1035.2 L296 1033.8 L297 1032.3 L298.1 1030.9 L299.3 1029.5 L300.5 1028.1 L301.7 1026.7 L303 1025.4 L304.3 1024.1 L305.7 1022.8 L307.1 1021.6 L308.5 1020.5 L309.9 1019.5 L311.4 1018.5 L312.8 1017.5 L314.3 1016.6 L315.8 1015.8 L317.4 1015 L319.1 1014.3 L320.9 1013.6 L322.8 1012.9 L324.8 1012.2 L326.9 1011.6 L329.2 1011 L331.6 1010.4 L334.1 1009.9 L336.7 1009.3 L339.3 1008.9 L342 1008.5 L344.6 1008.2 L347.2 1008.1 L349.8 1008 L352.3 1008.1 L354.9 1008.2 L357.5 1008.5 L360.2 1008.9 L362.8 1009.3 L365.4 1009.9 L367.9 1010.4 L370.3 1011 L372.6 1011.6 L374.8 1012.2 L376.7 1012.9 L378.6 1013.6 L380.4 1014.3 L382.1 1015 L383.7 1015.8 L385.2 1016.6 L386.7 1017.5 L388.1 1018.5 L389.6 1019.5 L391 1020.5 L392.4 1021.6 L393.8 1022.8 L395.2 1024.1 L396.5 1025.4 L397.8 1026.7 L399 1028.1 L400.2 1029.5 L401.4 1030.9 L402.5 1032.3 L403.5 1033.8 L404.5 1035.2 L405.4 1036.7 L406.3 1038.2 L407.1 1039.7 L407.8 1041.2 L408.5 1042.8 L409.2 1044.3 L409.9 1045.8 L410.4 1047.3 L411 1048.8 L411.5 1050.2 L412 1051.6 L412.4 1053 L412.7 1054.4 L413.1 1055.8 L413.4 1057.1 L413.6 1058.5 L413.8 1059.8 L414.1 1061.2 L414.2 1062.5 L414.4 1063.9 L414.5 1065.3 L414.5 1066.7 L414.5 1068.1 L414.5 1069.5 L414.5 1070.8 L414.5 1072.1 L414.5 1073.4 L414.6 1074.5 L414.8 1075.5 L414.9 1076.4 L415.1 1077.2 L415.3 1077.9 L415.5 1078.5 L415.8 1079 L416.1 1079.5 L416.4 1080 L416.7 1080.5 L417.1 1081 L417.5 1081.5 L418 1082 L418.4 1082.5 L418.9 1083 L419.5 1083.5 L420 1084 L420.7 1084.4 L421.3 1084.8 L422 1085.2 L422.7 1085.6 L423.5 1086 L424.2 1086.3 L424.8 1086.6 L425.4 1086.9 L426 1087.1 L426.6 1087.3 L427.4 1087.5 L428.5 1087.7 L429.8 1088 L431.4 1088.4 L433.5 1088.8 L436 1089.3 L439 1089.8 L442.3 1090.4 L445.9 1091.1 L449.7 1091.7 L453.7 1092.4 L457.7 1093.1 L461.7 1093.8 L465.7 1094.5 L469.5 1095.2 L473.4 1095.9 L477.7 1096.6 L482.1 1097.4 L486.6 1098.2 L491.1 1099 L495.4 1099.8 L499.3 1100.4 L502.9 1101.1 L505.9 1101.6 L508.2 1102" fill="none" stroke="#e9eaeb" stroke-width="9.8" stroke-dasharray="2.5 2.1"/>
<path d="M191.3 1102 L193.6 1101.6 L196.6 1101.1 L200.2 1100.4 L204.1 1099.8 L208.4 1099 L212.9 1098.2 L217.4 1097.4 L221.8 1096.6 L226.1 1095.9 L230 1095.2 L233.8 1094.5 L237.8 1093.8 L241.8 1093.1 L245.8 1092.4 L249.8 1091.8 L253.6 1091.1 L257.2 1090.4 L260.5 1089.8 L263.5 1089.3 L266 1088.8 L268.1 1088.4 L269.7 1088 L271 1087.7 L272.1 1087.5 L272.9 1087.3 L273.5 1087.1 L274.1 1086.9 L274.7 1086.6 L275.3 1086.3 L276 1086 L276.8 1085.6 L277.5 1085.2 L278.2 1084.8 L278.8 1084.4 L279.5 1084 L280 1083.5 L280.6 1083 L281.1 1082.5 L281.5 1082 L282 1081.5 L282.4 1081 L282.8 1080.5 L283.1 1080 L283.4 1079.5 L283.7 1079 L284 1078.5 L284.2 1077.9 L284.4 1077.2 L284.6 1076.4 L284.8 1075.5 L284.9 1074.5 L284.9 1073.4 L285 1072.1 L285 1070.8 L285 1069.5 L285 1068.1 L285 1066.7 L285 1065.3 L285.1 1063.9 L285.2 1062.5 L285.4 1061.2 L285.7 1059.8 L285.9 1058.5 L286.1 1057.1 L286.4 1055.8 L286.8 1054.4 L287.1 1053 L287.5 1051.6 L288 1050.2 L288.5 1048.8 L289.1 1047.3 L289.6 1045.8 L290.3 1044.3 L291 1042.8 L291.7 1041.2 L292.4 1039.7 L293.2 1038.2 L294.1 1036.7 L295 1035.2 L296 1033.8 L297 1032.3 L298.1 1030.9 L299.3 1029.5 L300.5 1028.1 L301.7 1026.7 L303 1025.4 L304.3 1024.1 L305.7 1022.8 L307.1 1021.6 L308.5 1020.5 L309.9 1019.5 L311.4 1018.5 L312.8 1017.5 L314.3 1016.6 L315.8 1015.8 L317.4 1015 L319.1 1014.3 L320.9 1013.6 L322.8 1012.9 L324.8 1012.2 L326.9 1011.6 L329.2 1011 L331.6 1010.4 L334.1 1009.9 L336.7 1009.3 L339.3 1008.9 L342 1008.5 L344.6 1008.2 L347.2 1008.1 L349.8 1008 L352.3 1008.1 L354.9 1008.2 L357.5 1008.5 L360.2 1008.9 L362.8 1009.3 L365.4 1009.9 L367.9 1010.4 L370.3 1011 L372.6 1011.6 L374.8 1012.2 L376.7 1012.9 L378.6 1013.6 L380.4 1014.3 L382.1 1015 L383.7 1015.8 L385.2 1016.6 L386.7 1017.5 L388.1 1018.5 L389.6 1019.5 L391 1020.5 L392.4 1021.6 L393.8 1022.8 L395.2 1024.1 L396.5 1025.4 L397.8 1026.7 L399 1028.1 L400.2 1029.5 L401.4 1030.9 L402.5 1032.3 L403.5 1033.8 L404.5 1035.2 L405.4 1036.7 L406.3 1038.2 L407.1 1039.7 L407.8 1041.2 L408.5 1042.8 L409.2 1044.3 L409.9 1045.8 L410.4 1047.3 L411 1048.8 L411.5 1050.2 L412 1051.6 L412.4 1053 L412.7 1054.4 L413.1 1055.8 L413.4 1057.1 L413.6 1058.5 L413.8 1059.8 L414.1 1061.2 L414.2 1062.5 L414.4 1063.9 L414.5 1065.3 L414.5 1066.7 L414.5 1068.1 L414.5 1069.5 L414.5 1070.8 L414.5 1072.1 L414.5 1073.4 L414.6 1074.5 L414.8 1075.5 L414.9 1076.4 L415.1 1077.2 L415.3 1077.9 L415.5 1078.5 L415.8 1079 L416.1 1079.5 L416.4 1080 L416.7 1080.5 L417.1 1081 L417.5 1081.5 L418 1082 L418.4 1082.5 L418.9 1083 L419.5 1083.5 L420 1084 L420.7 1084.4 L421.3 1084.8 L422 1085.2 L422.7 1085.6 L423.5 1086 L424.2 1086.3 L424.8 1086.6 L425.4 1086.9 L426 1087.1 L426.6 1087.3 L427.4 1087.5 L428.5 1087.7 L429.8 1088 L431.4 1088.4 L433.5 1088.8 L436 1089.3 L439 1089.8 L442.3 1090.4 L445.9 1091.1 L449.7 1091.7 L453.7 1092.4 L457.7 1093.1 L461.7 1093.8 L465.7 1094.5 L469.5 1095.2 L473.4 1095.9 L477.7 1096.6 L482.1 1097.4 L486.6 1098.2 L491.1 1099 L495.4 1099.8 L499.3 1100.4 L502.9 1101.1 L505.9 1101.6 L508.2 1102" fill="none" stroke="#a4a6a8" stroke-width="1" opacity=".4"/>
<path d="M190.2 1095.6 L192.5 1095.2 L195.5 1094.7 L199 1094 L203 1093.3 L207.3 1092.6 L211.7 1091.8 L216.2 1091 L220.7 1090.2 L224.9 1089.5 L228.9 1088.8 L232.7 1088.1 L236.7 1087.4 L240.7 1086.7 L244.7 1086 L248.7 1085.3 L252.5 1084.7 L256 1084 L259.3 1083.4 L262.3 1082.9 L264.7 1082.4 L266.8 1082 L268.4 1081.7 L269.6 1081.4 L270.5 1081.2 L271 1081 L271.4 1080.9 L271.7 1080.8 L272 1080.7 L272.6 1080.4 L273.2 1080.1 L273.8 1079.8 L274.3 1079.6 L274.7 1079.3 L275.1 1079.1 L275.5 1078.8 L275.8 1078.5 L276.2 1078.2 L276.5 1078 L276.7 1077.7 L277 1077.3 L277.3 1076.9 L277.6 1076.6 L277.7 1076.4 L277.8 1076.3 L277.9 1076.2 L277.9 1076 L278 1075.8 L278.1 1075.5 L278.2 1075 L278.3 1074.5 L278.4 1073.9 L278.5 1073.1 L278.5 1072.1 L278.5 1070.9 L278.5 1069.5 L278.5 1068.1 L278.5 1066.6 L278.5 1065 L278.6 1063.3 L278.8 1061.7 L279 1060.2 L279.2 1058.8 L279.5 1057.3 L279.8 1055.8 L280.1 1054.3 L280.5 1052.8 L280.9 1051.3 L281.3 1049.7 L281.8 1048.1 L282.4 1046.5 L283 1044.9 L283.6 1043.3 L284.3 1041.7 L285 1040.1 L285.8 1038.4 L286.7 1036.7 L287.6 1035 L288.5 1033.3 L289.6 1031.6 L290.7 1030 L291.8 1028.4 L293 1026.9 L294.3 1025.3 L295.6 1023.8 L296.9 1022.3 L298.4 1020.8 L299.8 1019.3 L301.4 1017.9 L303 1016.6 L304.6 1015.3 L306.2 1014.2 L307.8 1013.1 L309.4 1012 L311.1 1011 L312.8 1010 L314.7 1009.1 L316.6 1008.3 L318.6 1007.5 L320.7 1006.7 L322.9 1006 L325.1 1005.4 L327.6 1004.7 L330.1 1004.1 L332.8 1003.5 L335.5 1003 L338.3 1002.5 L341.2 1002.1 L344 1001.8 L346.9 1001.6 L349.8 1001.5 L352.6 1001.6 L355.5 1001.8 L358.3 1002.1 L361.2 1002.5 L364 1003 L366.7 1003.5 L369.4 1004.1 L371.9 1004.7 L374.4 1005.4 L376.6 1006 L378.8 1006.7 L380.9 1007.5 L382.9 1008.3 L384.8 1009.1 L386.7 1010 L388.4 1011 L390.1 1012 L391.7 1013.1 L393.3 1014.2 L394.9 1015.3 L396.5 1016.6 L398.1 1017.9 L399.7 1019.3 L401.1 1020.8 L402.6 1022.3 L403.9 1023.8 L405.2 1025.3 L406.5 1026.9 L407.7 1028.4 L408.8 1030 L409.9 1031.6 L411 1033.3 L411.9 1035 L412.8 1036.7 L413.7 1038.4 L414.5 1040.1 L415.2 1041.7 L415.9 1043.3 L416.5 1044.9 L417.1 1046.5 L417.7 1048.1 L418.2 1049.7 L418.6 1051.3 L419 1052.8 L419.4 1054.3 L419.7 1055.8 L420 1057.3 L420.3 1058.8 L420.5 1060.2 L420.7 1061.7 L420.9 1063.3 L421 1065 L421 1066.6 L421 1068.1 L421 1069.5 L421 1070.9 L421 1072.1 L421 1073.1 L421.1 1073.9 L421.2 1074.5 L421.3 1075 L421.4 1075.5 L421.5 1075.8 L421.6 1076 L421.6 1076.2 L421.7 1076.3 L421.8 1076.4 L421.9 1076.6 L422.2 1076.9 L422.5 1077.3 L422.8 1077.7 L423 1078 L423.3 1078.2 L423.7 1078.5 L424 1078.8 L424.4 1079.1 L424.8 1079.3 L425.2 1079.6 L425.7 1079.8 L426.3 1080.1 L426.9 1080.4 L427.5 1080.7 L427.8 1080.8 L428.1 1080.9 L428.5 1081 L429 1081.2 L429.9 1081.4 L431.1 1081.7 L432.7 1082 L434.8 1082.4 L437.2 1082.9 L440.2 1083.4 L443.5 1084 L447 1084.7 L450.8 1085.3 L454.8 1086 L458.8 1086.7 L462.8 1087.4 L466.8 1088.1 L470.6 1088.8 L474.6 1089.5 L478.8 1090.2 L483.3 1091 L487.8 1091.8 L492.2 1092.6 L496.5 1093.3 L500.5 1094 L504 1094.7 L507 1095.2 L509.3 1095.6" fill="none" stroke="#7a7c7f" stroke-width="3.8" stroke-linecap="round" stroke-dasharray="0.01 4.6"/>
<path d="M192.4 1108.4 L194.7 1108 L197.7 1107.5 L201.3 1106.8 L205.2 1106.2 L209.5 1105.4 L214 1104.6 L218.5 1103.8 L222.9 1103 L227.2 1102.3 L231.1 1101.6 L234.9 1100.9 L238.9 1100.2 L242.9 1099.5 L247 1098.8 L250.9 1098.2 L254.7 1097.5 L258.3 1096.8 L261.7 1096.2 L264.7 1095.7 L267.3 1095.2 L269.4 1094.7 L271.1 1094.4 L272.5 1094.1 L273.7 1093.8 L274.7 1093.5 L275.7 1093.2 L276.5 1092.9 L277.3 1092.5 L278 1092.2 L278.8 1091.9 L279.7 1091.4 L280.7 1090.9 L281.7 1090.3 L282.6 1089.7 L283.4 1089.1 L284.2 1088.5 L285 1087.8 L285.7 1087.1 L286.4 1086.4 L287 1085.7 L287.5 1085.1 L288 1084.4 L288.5 1083.7 L289.1 1082.8 L289.5 1081.9 L290 1080.9 L290.4 1079.9 L290.7 1078.8 L290.9 1077.7 L291.2 1076.5 L291.4 1075.1 L291.4 1073.6 L291.5 1072.2 L291.5 1070.8 L291.5 1069.4 L291.5 1068.1 L291.5 1066.8 L291.5 1065.6 L291.6 1064.4 L291.7 1063.3 L291.9 1062.1 L292.1 1060.9 L292.3 1059.6 L292.5 1058.4 L292.8 1057.2 L293.1 1055.9 L293.4 1054.7 L293.7 1053.5 L294.1 1052.3 L294.6 1051 L295.1 1049.7 L295.7 1048.3 L296.3 1046.8 L296.9 1045.4 L297.5 1044 L298.2 1042.7 L298.9 1041.3 L299.7 1040 L300.5 1038.7 L301.3 1037.5 L302.2 1036.2 L303.2 1034.9 L304.3 1033.6 L305.4 1032.4 L306.5 1031.1 L307.6 1029.9 L308.8 1028.8 L310 1027.7 L311.2 1026.6 L312.4 1025.7 L313.7 1024.8 L315 1023.9 L316.2 1023.1 L317.5 1022.3 L318.8 1021.6 L320.2 1020.9 L321.7 1020.3 L323.2 1019.6 L324.8 1019 L326.6 1018.5 L328.6 1017.9 L330.8 1017.3 L333.1 1016.7 L335.5 1016.2 L337.9 1015.7 L340.3 1015.3 L342.8 1015 L345.2 1014.7 L347.5 1014.6 L349.8 1014.5 L352 1014.6 L354.3 1014.7 L356.7 1015 L359.2 1015.3 L361.6 1015.7 L364 1016.2 L366.4 1016.7 L368.7 1017.3 L370.9 1017.9 L372.9 1018.5 L374.7 1019 L376.3 1019.6 L377.8 1020.3 L379.3 1020.9 L380.7 1021.6 L382 1022.3 L383.3 1023.1 L384.5 1023.9 L385.8 1024.8 L387.1 1025.7 L388.3 1026.6 L389.5 1027.7 L390.7 1028.8 L391.9 1029.9 L393 1031.1 L394.1 1032.4 L395.2 1033.6 L396.3 1034.9 L397.3 1036.2 L398.2 1037.5 L399 1038.7 L399.8 1040 L400.6 1041.3 L401.3 1042.7 L402 1044 L402.6 1045.4 L403.2 1046.8 L403.8 1048.3 L404.4 1049.7 L404.9 1051 L405.4 1052.3 L405.8 1053.5 L406.1 1054.7 L406.4 1055.9 L406.7 1057.2 L407 1058.4 L407.2 1059.6 L407.4 1060.9 L407.6 1062.1 L407.8 1063.3 L407.9 1064.4 L408 1065.6 L408 1066.8 L408 1068.1 L408 1069.4 L408 1070.8 L408 1072.2 L408.1 1073.6 L408.1 1075.1 L408.3 1076.5 L408.6 1077.7 L408.8 1078.8 L409.1 1079.9 L409.5 1080.9 L410 1081.9 L410.4 1082.8 L411 1083.7 L411.5 1084.4 L412 1085.1 L412.5 1085.7 L413.1 1086.4 L413.8 1087.1 L414.5 1087.8 L415.3 1088.5 L416.1 1089.1 L416.9 1089.7 L417.8 1090.3 L418.8 1090.9 L419.8 1091.4 L420.7 1091.9 L421.5 1092.2 L422.2 1092.5 L423 1092.9 L423.8 1093.2 L424.8 1093.5 L425.8 1093.8 L427 1094.1 L428.4 1094.4 L430.1 1094.7 L432.2 1095.2 L434.8 1095.7 L437.8 1096.2 L441.2 1096.8 L444.8 1097.5 L448.6 1098.2 L452.5 1098.8 L456.6 1099.5 L460.6 1100.2 L464.6 1100.9 L468.4 1101.6 L472.3 1102.3 L476.6 1103 L481 1103.8 L485.5 1104.6 L490 1105.4 L494.3 1106.2 L498.2 1106.8 L501.8 1107.5 L504.8 1108 L507.1 1108.4" fill="none" stroke="#7a7c7f" stroke-width="3.8" stroke-linecap="round" stroke-dasharray="0.01 4.6"/>
<g stroke-linejoin="round"><path d="M224.9 1079 L224.9 1107.3" stroke="#6f4413" stroke-width="3.3" fill="none"/><path d="M224.9 1079 L224.9 1107" stroke="#dd9634" stroke-width="1.6" fill="none"/><path d="M230.4 1074 L230.6 1107.3" stroke="#5a1214" stroke-width="3.5" fill="none"/><path d="M230.4 1074 L230.6 1107" stroke="#c9272b" stroke-width="1.8" fill="none"/><path d="M214.5 1040 Q213.5 1029 219 1027.8 Q225 1028.5 225.2 1040Z" fill="#f2cfc6" stroke="#6b3f3a" stroke-width="1.1"/><ellipse cx="218.8" cy="1033.6" rx="1.8" ry="2.6" fill="#fff" stroke="#6b3f3a" stroke-width=".8"/><path d="M221 1036 l3.5 -1 l1.5 3.5 l-2.5 2" fill="#f2cfc6" stroke="#6b3f3a" stroke-width=".8"/><path d="M211.5 1056 Q209 1066 213.5 1077.5 L224.5 1078.2 L226 1060Z" fill="#f1c0b3" stroke="#7a4038" stroke-width=".8"/><path d="M215.5 1042.5 L226.5 1041.5 Q232 1050 229.5 1060.5 L223 1064 Q216 1052 215.5 1042.5Z" fill="#ea9a3c" stroke="#7a4a15" stroke-width=".8"/><path d="M219 1077 L226 1076.5 L225.2 1081.2 L220.5 1080.8Z" fill="#e08e30" stroke="#7a4a15" stroke-width=".8"/><path d="M208.6 1041 Q213 1037.2 222.5 1038.6 L222.2 1042.2 L214.6 1043 Q217 1053 226 1061 Q232.5 1067 232.3 1078.6 L227.6 1078.4 Q228 1071 222 1065.5 Q211 1056 208.6 1041Z" fill="#d62b2b" stroke="#741313" stroke-width=".8"/></g>
<g transform="translate(704.3 0) scale(-1 1)" stroke-linejoin="round"><path d="M224.9 1079 L224.9 1107.3" stroke="#6f4413" stroke-width="3.3" fill="none"/><path d="M224.9 1079 L224.9 1107" stroke="#dd9634" stroke-width="1.6" fill="none"/><path d="M230.4 1074 L230.6 1107.3" stroke="#5a1214" stroke-width="3.5" fill="none"/><path d="M230.4 1074 L230.6 1107" stroke="#c9272b" stroke-width="1.8" fill="none"/><path d="M214.5 1040 Q213.5 1029 219 1027.8 Q225 1028.5 225.2 1040Z" fill="#f2cfc6" stroke="#6b3f3a" stroke-width="1.1"/><ellipse cx="218.8" cy="1033.6" rx="1.8" ry="2.6" fill="#fff" stroke="#6b3f3a" stroke-width=".8"/><path d="M221 1036 l3.5 -1 l1.5 3.5 l-2.5 2" fill="#f2cfc6" stroke="#6b3f3a" stroke-width=".8"/><path d="M211.5 1056 Q209 1066 213.5 1077.5 L224.5 1078.2 L226 1060Z" fill="#f1c0b3" stroke="#7a4038" stroke-width=".8"/><path d="M215.5 1042.5 L226.5 1041.5 Q232 1050 229.5 1060.5 L223 1064 Q216 1052 215.5 1042.5Z" fill="#ea9a3c" stroke="#7a4a15" stroke-width=".8"/><path d="M219 1077 L226 1076.5 L225.2 1081.2 L220.5 1080.8Z" fill="#e08e30" stroke="#7a4a15" stroke-width=".8"/><path d="M208.6 1041 Q213 1037.2 222.5 1038.6 L222.2 1042.2 L214.6 1043 Q217 1053 226 1061 Q232.5 1067 232.3 1078.6 L227.6 1078.4 Q228 1071 222 1065.5 Q211 1056 208.6 1041Z" fill="#d62b2b" stroke="#741313" stroke-width=".8"/></g>
<text x="95.5" y="938" font-size="20" font-weight="bold" text-anchor="start" fill="#111" textLength="38.3" lengthAdjust="spacingAndGlyphs" >NSF</text>
<path d="M148 933 L173.5 944" stroke="#1a1a1a" stroke-width="1.6" fill="none"/>
<text x="75" y="1028.8" font-size="20" font-weight="bold" text-anchor="start" fill="#111" textLength="80" lengthAdjust="spacingAndGlyphs" >α-SNAP</text>
<path d="M163.8 1022.5 L195.5 1010" stroke="#1a1a1a" stroke-width="1.6" fill="none"/>
<text x="56.3" y="1077" font-size="20" font-weight="bold" fill="#111" textLength="108.7" lengthAdjust="spacingAndGlyphs"><tspan font-style="italic">cis</tspan>-SNARE</text>
<text x="56.3" y="1102.5" font-size="20" font-weight="bold" text-anchor="start" fill="#111" textLength="92.7" lengthAdjust="spacingAndGlyphs" >complex</text>
<path d="M171.3 1082.5 L207.5 1063.8" stroke="#1a1a1a" stroke-width="1.6" fill="none"/>
<text x="-18.3" y="1097.8" font-size="41" font-weight="bold" text-anchor="start" fill="#000" >5</text>
<text x="372" y="1123.8" font-size="19.5" font-weight="bold" text-anchor="start" fill="#111" textLength="38" lengthAdjust="spacingAndGlyphs" >ATP</text>
<text x="372" y="1151.3" font-size="19.5" font-weight="bold" fill="#111" textLength="85.5" lengthAdjust="spacingAndGlyphs">ADP + P<tspan dy="4" font-size="15">i</tspan></text>
<path d="M364.5 1118.6 Q351.5 1122 351.5 1130 Q352 1138.5 363 1142.6" fill="none" stroke="#111" stroke-width="1.6"/>
<path d="M368.5 1144.3 L361.2 1145.8 L363.4 1142.6 L362.8 1138.8Z" fill="#111"/>
<text x="155.8" y="1162.3" font-size="20.5" font-weight="bold" text-anchor="start" fill="#111" textLength="172" lengthAdjust="spacingAndGlyphs" stroke="#111" stroke-width=".85">Disassembly of</text>
<text x="130" y="1187" font-size="20.5" font-weight="bold" text-anchor="start" fill="#111" textLength="202.5" lengthAdjust="spacingAndGlyphs" stroke="#111" stroke-width=".85">SNARE complexes</text>
<path d="M349.9 1108.1 L349.9 1208" stroke="#111" stroke-width="2.2" fill="none"/>
<path d="M344.7 1204.2 L349.9 1206.4 L355.1 1204.2 L349.9 1213Z" fill="#111"/>
<rect x="359.6" y="1165.5" width="30" height="29.3" fill="#0d0d0d"/>
<text x="374.6" y="1188.1" font-size="22" font-weight="bold" text-anchor="middle" fill="#f4e04d" stroke="#f4e04d" stroke-width=".5">4</text>
<path d="M193.5 1280.5 L195.6 1278.3 L198.3 1275.3 L201.5 1271.7 L205.1 1267.8 L209 1263.7 L213.1 1259.9 L217.3 1256.5 L221.5 1253.7 L225.8 1251.6 L230.4 1249.8 L235.1 1248.3 L240 1247.1 L245 1246 L250 1245 L255 1244 L260 1243 L264.9 1242 L269.7 1241.1 L274.5 1240.3 L279.3 1239.5 L284.2 1238.8 L289.3 1238.2 L294.5 1237.6 L300 1237 L305.8 1236.4 L312 1235.9 L318.5 1235.4 L325 1235 L331.5 1234.6 L338 1234.3 L344.2 1234.1 L350 1234 L355.5 1234 L360.7 1234.1 L365.7 1234.2 L370.6 1234.5 L375.4 1234.8 L380.2 1235.1 L385 1235.5 L390 1236 L395.1 1236.5 L400.2 1237 L405.3 1237.5 L410.4 1238.1 L415.6 1238.8 L420.7 1239.6 L425.9 1240.5 L431 1241.5 L436.2 1242.7 L441.6 1244 L447.1 1245.3 L452.5 1246.8 L457.8 1248.4 L462.9 1250.1 L467.7 1251.9 L472 1253.7 L475.9 1255.7 L479.6 1257.9 L483 1260.3 L486.2 1262.7 L489.1 1265.1 L491.7 1267.3 L494.2 1269.5 L496.4 1271.3 L498.4 1272.9 L500 1274.5 L501.5 1275.9 L502.7 1277.1 L503.7 1278.3 L504.5 1279.3 L505.3 1280.1 L505.9 1280.8 L507.4 1288.3 L504 1287.6 L500.5 1286.9 L497 1286.3 L493.6 1285.6 L490.1 1285 L486.7 1284.4 L483.2 1283.7 L479.7 1283.2 L476.3 1282.6 L472.8 1282 L469.3 1281.5 L465.8 1281 L462.4 1280.5 L458.9 1280 L455.4 1279.5 L451.9 1279 L448.4 1278.6 L444.9 1278.1 L441.4 1277.7 L437.9 1277.3 L434.4 1276.9 L431 1276.6 L427.5 1276.2 L424 1275.9 L420.4 1275.5 L416.9 1275.2 L413.4 1275 L409.9 1274.7 L406.4 1274.4 L402.9 1274.2 L399.4 1273.9 L395.9 1273.7 L392.4 1273.5 L388.9 1273.4 L385.4 1273.2 L381.8 1273 L378.3 1272.9 L374.8 1272.8 L371.3 1272.7 L367.8 1272.6 L364.3 1272.5 L360.8 1272.5 L357.2 1272.4 L353.7 1272.4 L350.2 1272.4 L346.7 1272.4 L343.2 1272.4 L339.6 1272.5 L336.1 1272.5 L332.6 1272.6 L329.1 1272.7 L325.6 1272.8 L322.1 1272.9 L318.6 1273 L315 1273.2 L311.5 1273.4 L308 1273.5 L304.5 1273.7 L301 1273.9 L297.5 1274.2 L294 1274.4 L290.5 1274.7 L287 1275 L283.5 1275.2 L280 1275.5 L276.4 1275.9 L272.9 1276.2 L269.4 1276.6 L266 1276.9 L262.5 1277.3 L259 1277.7 L255.5 1278.1 L252 1278.6 L248.5 1279 L245 1279.5 L241.5 1280 L238 1280.5 L234.6 1281 L231.1 1281.5 L227.6 1282 L224.1 1282.6 L220.7 1283.2 L217.2 1283.7 L213.7 1284.4 L210.3 1285 L206.8 1285.6 L203.4 1286.3 L199.9 1286.9 L196.4 1287.6 L193 1288.3Z" fill="url(#sl5)"/>
<path d="M193.5 1280.5 L195.6 1278.3 L198.3 1275.3 L201.5 1271.7 L205.1 1267.8 L209 1263.7 L213.1 1259.9 L217.3 1256.5 L221.5 1253.7 L225.8 1251.6 L230.4 1249.8 L235.1 1248.3 L240 1247.1 L245 1246 L250 1245 L255 1244 L260 1243 L264.9 1242 L269.7 1241.1 L274.5 1240.3 L279.3 1239.5 L284.2 1238.8 L289.3 1238.2 L294.5 1237.6 L300 1237 L305.8 1236.4 L312 1235.9 L318.5 1235.4 L325 1235 L331.5 1234.6 L338 1234.3 L344.2 1234.1 L350 1234 L355.5 1234 L360.7 1234.1 L365.7 1234.2 L370.6 1234.5 L375.4 1234.8 L380.2 1235.1 L385 1235.5 L390 1236 L395.1 1236.5 L400.2 1237 L405.3 1237.5 L410.4 1238.1 L415.6 1238.8 L420.7 1239.6 L425.9 1240.5 L431 1241.5 L436.2 1242.7 L441.6 1244 L447.1 1245.3 L452.5 1246.8 L457.8 1248.4 L462.9 1250.1 L467.7 1251.9 L472 1253.7 L475.9 1255.7 L479.6 1257.9 L483 1260.3 L486.2 1262.7 L489.1 1265.1 L491.7 1267.3 L494.2 1269.5 L496.4 1271.3 L498.4 1272.9 L500 1274.5 L501.5 1275.9 L502.7 1277.1 L503.7 1278.3 L504.5 1279.3 L505.3 1280.1 L505.9 1280.8 L507.4 1288.3 L504 1287.6 L500.5 1286.9 L497 1286.3 L493.6 1285.6 L490.1 1285 L486.7 1284.4 L483.2 1283.7 L479.7 1283.2 L476.3 1282.6 L472.8 1282 L469.3 1281.5 L465.8 1281 L462.4 1280.5 L458.9 1280 L455.4 1279.5 L451.9 1279 L448.4 1278.6 L444.9 1278.1 L441.4 1277.7 L437.9 1277.3 L434.4 1276.9 L431 1276.6 L427.5 1276.2 L424 1275.9 L420.4 1275.5 L416.9 1275.2 L413.4 1275 L409.9 1274.7 L406.4 1274.4 L402.9 1274.2 L399.4 1273.9 L395.9 1273.7 L392.4 1273.5 L388.9 1273.4 L385.4 1273.2 L381.8 1273 L378.3 1272.9 L374.8 1272.8 L371.3 1272.7 L367.8 1272.6 L364.3 1272.5 L360.8 1272.5 L357.2 1272.4 L353.7 1272.4 L350.2 1272.4 L346.7 1272.4 L343.2 1272.4 L339.6 1272.5 L336.1 1272.5 L332.6 1272.6 L329.1 1272.7 L325.6 1272.8 L322.1 1272.9 L318.6 1273 L315 1273.2 L311.5 1273.4 L308 1273.5 L304.5 1273.7 L301 1273.9 L297.5 1274.2 L294 1274.4 L290.5 1274.7 L287 1275 L283.5 1275.2 L280 1275.5 L276.4 1275.9 L272.9 1276.2 L269.4 1276.6 L266 1276.9 L262.5 1277.3 L259 1277.7 L255.5 1278.1 L252 1278.6 L248.5 1279 L245 1279.5 L241.5 1280 L238 1280.5 L234.6 1281 L231.1 1281.5 L227.6 1282 L224.1 1282.6 L220.7 1283.2 L217.2 1283.7 L213.7 1284.4 L210.3 1285 L206.8 1285.6 L203.4 1286.3 L199.9 1286.9 L196.4 1287.6 L193 1288.3Z" fill="url(#sl5o)"/>
<path d="M241.9 1216.2 L242.8 1216.5 L244.1 1217 L245.6 1217.5 L247.1 1218.1 L248.5 1218.7 L249.5 1219.4 L250.2 1220.1 L250.7 1220.8 L251 1221.6 L251.2 1222.5 L251.2 1223.3 L251 1224.1 L250.5 1224.9 L249.5 1225.7 L248.3 1226.6 L247.3 1227.4 L246.6 1228.3 L246.5 1229.1 L247.2 1229.9 L248.5 1230.8 L250.2 1231.6 L251.9 1232.4 L253.5 1233.2 L254.5 1234 L255.1 1234.7 L255.4 1235.4 L255.6 1236.1 L255.6 1236.8 L255.4 1237.5 L255 1238.1 L254.3 1238.7 L253.1 1239.3 L251.8 1239.8 L250.6 1240.3 L249.7 1240.9 L249.5 1241.6 L250.1 1242.3 L251.4 1243.2 L253.1 1244 L254.9 1244.9 L256.4 1245.7 L257.5 1246.6 L258.1 1247.4 L258.5 1248.3 L258.7 1249.1 L258.7 1249.9 L258.6 1250.8 L258.3 1251.6 L257.8 1252.4 L257 1253.2 L256.1 1254.1 L255.2 1254.9 L254.4 1255.7 L253.9 1256.6 L253.6 1257.5 L253.4 1258.5 L253.4 1259.4 L253.5 1260.4 L253.7 1261.3 L254.1 1262.1 L254.7 1262.9 L255.5 1263.7 L256.4 1264.5 L257.4 1265.1 L258.4 1265.6 L259.5 1265.8 L260.6 1265.8 L261.9 1265.5 L263.1 1265.1 L264.4 1264.5 L265.5 1263.8 L266.5 1263.1 L267.3 1262.2 L268 1261.2 L268.6 1260 L269.1 1258.8 L269.5 1257.6 L269.7 1256.6 L269.7 1255.7 L269.4 1254.8 L269.1 1254 L268.7 1253.2 L268.5 1252.4 L268.5 1251.6 L268.9 1250.8 L269.5 1249.9 L270.2 1249 L271 1248.2 L271.7 1247.4 L272.2 1246.6 L272.6 1245.9 L272.9 1245.2 L273.1 1244.5 L273.2 1243.9 L273.1 1243.3 L272.7 1242.6 L271.9 1241.9 L270.8 1241.2 L269.4 1240.5 L268 1239.7 L266.8 1239.1 L265.9 1238.4 L265.3 1237.8 L264.9 1237.2 L264.7 1236.7 L264.6 1236.2 L264.7 1235.6 L264.9 1235 L265.4 1234.3 L266.2 1233.6 L267.2 1232.9 L268.2 1232.2 L269.1 1231.5 L269.7 1230.8 L270.1 1230.2 L270.5 1229.6 L270.7 1229.1 L270.8 1228.5 L270.6 1228 L270.1 1227.4 L269.2 1226.8 L267.8 1226.2 L266.2 1225.6 L264.5 1225 L263.1 1224.4 L262.1 1223.8 L261.5 1223.2 L261.2 1222.7 L261.1 1222.2 L261.1 1221.6 L261.3 1221.1 L261.7 1220.6 L262.4 1220.1 L263.3 1219.5 L264.5 1219 L265.7 1218.5 L266.6 1218 L267.2 1217.5 L267.5 1217 L267.5 1216.5 L267.4 1216.1 L267.1 1215.6 L266.6 1215.2 L265.9 1214.8 L264.8 1214.4 L263.4 1214 L261.7 1213.6 L260.1 1213.2 L258.7 1212.9 L257.7 1212.7" fill="none" stroke="#5e3a36" stroke-width="3.7" stroke-linecap="round" stroke-linejoin="round"/>
<path d="M241.9 1216.2 L242.8 1216.5 L244.1 1217 L245.6 1217.5 L247.1 1218.1 L248.5 1218.7 L249.5 1219.4 L250.2 1220.1 L250.7 1220.8 L251 1221.6 L251.2 1222.5 L251.2 1223.3 L251 1224.1 L250.5 1224.9 L249.5 1225.7 L248.3 1226.6 L247.3 1227.4 L246.6 1228.3 L246.5 1229.1 L247.2 1229.9 L248.5 1230.8 L250.2 1231.6 L251.9 1232.4 L253.5 1233.2 L254.5 1234 L255.1 1234.7 L255.4 1235.4 L255.6 1236.1 L255.6 1236.8 L255.4 1237.5 L255 1238.1 L254.3 1238.7 L253.1 1239.3 L251.8 1239.8 L250.6 1240.3 L249.7 1240.9 L249.5 1241.6 L250.1 1242.3 L251.4 1243.2 L253.1 1244 L254.9 1244.9 L256.4 1245.7 L257.5 1246.6 L258.1 1247.4 L258.5 1248.3 L258.7 1249.1 L258.7 1249.9 L258.6 1250.8 L258.3 1251.6 L257.8 1252.4 L257 1253.2 L256.1 1254.1 L255.2 1254.9 L254.4 1255.7 L253.9 1256.6 L253.6 1257.5 L253.4 1258.5 L253.4 1259.4 L253.5 1260.4 L253.7 1261.3 L254.1 1262.1 L254.7 1262.9 L255.5 1263.7 L256.4 1264.5 L257.4 1265.1 L258.4 1265.6 L259.5 1265.8 L260.6 1265.8 L261.9 1265.5 L263.1 1265.1 L264.4 1264.5 L265.5 1263.8 L266.5 1263.1 L267.3 1262.2 L268 1261.2 L268.6 1260 L269.1 1258.8 L269.5 1257.6 L269.7 1256.6 L269.7 1255.7 L269.4 1254.8 L269.1 1254 L268.7 1253.2 L268.5 1252.4 L268.5 1251.6 L268.9 1250.8 L269.5 1249.9 L270.2 1249 L271 1248.2 L271.7 1247.4 L272.2 1246.6 L272.6 1245.9 L272.9 1245.2 L273.1 1244.5 L273.2 1243.9 L273.1 1243.3 L272.7 1242.6 L271.9 1241.9 L270.8 1241.2 L269.4 1240.5 L268 1239.7 L266.8 1239.1 L265.9 1238.4 L265.3 1237.8 L264.9 1237.2 L264.7 1236.7 L264.6 1236.2 L264.7 1235.6 L264.9 1235 L265.4 1234.3 L266.2 1233.6 L267.2 1232.9 L268.2 1232.2 L269.1 1231.5 L269.7 1230.8 L270.1 1230.2 L270.5 1229.6 L270.7 1229.1 L270.8 1228.5 L270.6 1228 L270.1 1227.4 L269.2 1226.8 L267.8 1226.2 L266.2 1225.6 L264.5 1225 L263.1 1224.4 L262.1 1223.8 L261.5 1223.2 L261.2 1222.7 L261.1 1222.2 L261.1 1221.6 L261.3 1221.1 L261.7 1220.6 L262.4 1220.1 L263.3 1219.5 L264.5 1219 L265.7 1218.5 L266.6 1218 L267.2 1217.5 L267.5 1217 L267.5 1216.5 L267.4 1216.1 L267.1 1215.6 L266.6 1215.2 L265.9 1214.8 L264.8 1214.4 L263.4 1214 L261.7 1213.6 L260.1 1213.2 L258.7 1212.9 L257.7 1212.7" fill="none" stroke="#e9c6bd" stroke-width="1.8" stroke-linecap="round" stroke-linejoin="round"/>
<path d="M458.9 1216.2 L458 1216.5 L456.7 1217 L455.2 1217.5 L453.7 1218.1 L452.3 1218.7 L451.3 1219.4 L450.6 1220.1 L450.1 1220.8 L449.8 1221.6 L449.6 1222.5 L449.6 1223.3 L449.8 1224.1 L450.3 1224.9 L451.3 1225.7 L452.5 1226.6 L453.5 1227.4 L454.2 1228.3 L454.3 1229.1 L453.6 1229.9 L452.3 1230.8 L450.6 1231.6 L448.9 1232.4 L447.3 1233.2 L446.3 1234 L445.7 1234.7 L445.4 1235.4 L445.2 1236.1 L445.2 1236.8 L445.4 1237.5 L445.8 1238.1 L446.5 1238.7 L447.7 1239.3 L449 1239.8 L450.2 1240.3 L451.1 1240.9 L451.3 1241.6 L450.7 1242.3 L449.4 1243.2 L447.7 1244 L445.9 1244.9 L444.4 1245.7 L443.3 1246.6 L442.7 1247.4 L442.3 1248.3 L442.1 1249.1 L442.1 1249.9 L442.2 1250.8 L442.5 1251.6 L443 1252.4 L443.8 1253.2 L444.7 1254.1 L445.6 1254.9 L446.4 1255.7 L446.9 1256.6 L447.2 1257.5 L447.4 1258.5 L447.4 1259.4 L447.3 1260.4 L447.1 1261.3 L446.7 1262.1 L446.1 1262.9 L445.3 1263.7 L444.4 1264.5 L443.4 1265.1 L442.4 1265.6 L441.3 1265.8 L440.2 1265.8 L438.9 1265.5 L437.7 1265.1 L436.4 1264.5 L435.3 1263.8 L434.3 1263.1 L433.5 1262.2 L432.8 1261.2 L432.2 1260 L431.7 1258.8 L431.3 1257.6 L431.1 1256.6 L431.1 1255.7 L431.4 1254.8 L431.7 1254 L432.1 1253.2 L432.3 1252.4 L432.3 1251.6 L431.9 1250.8 L431.3 1249.9 L430.6 1249 L429.8 1248.2 L429.1 1247.4 L428.6 1246.6 L428.2 1245.9 L427.9 1245.2 L427.7 1244.5 L427.6 1243.9 L427.7 1243.3 L428.1 1242.6 L428.9 1241.9 L430 1241.2 L431.4 1240.5 L432.8 1239.7 L434 1239.1 L434.9 1238.4 L435.5 1237.8 L435.9 1237.2 L436.1 1236.7 L436.2 1236.2 L436.1 1235.6 L435.9 1235 L435.4 1234.3 L434.6 1233.6 L433.6 1232.9 L432.6 1232.2 L431.7 1231.5 L431.1 1230.8 L430.7 1230.2 L430.3 1229.6 L430.1 1229.1 L430 1228.5 L430.2 1228 L430.7 1227.4 L431.6 1226.8 L433 1226.2 L434.6 1225.6 L436.3 1225 L437.7 1224.4 L438.7 1223.8 L439.3 1223.2 L439.6 1222.7 L439.7 1222.2 L439.7 1221.6 L439.5 1221.1 L439.1 1220.6 L438.4 1220.1 L437.5 1219.5 L436.3 1219 L435.1 1218.5 L434.2 1218 L433.6 1217.5 L433.3 1217 L433.3 1216.5 L433.4 1216.1 L433.7 1215.6 L434.2 1215.2 L434.9 1214.8 L436 1214.4 L437.4 1214 L439.1 1213.6 L440.7 1213.2 L442.1 1212.9 L443.1 1212.7" fill="none" stroke="#5e3a36" stroke-width="3.7" stroke-linecap="round" stroke-linejoin="round"/>
<path d="M458.9 1216.2 L458 1216.5 L456.7 1217 L455.2 1217.5 L453.7 1218.1 L452.3 1218.7 L451.3 1219.4 L450.6 1220.1 L450.1 1220.8 L449.8 1221.6 L449.6 1222.5 L449.6 1223.3 L449.8 1224.1 L450.3 1224.9 L451.3 1225.7 L452.5 1226.6 L453.5 1227.4 L454.2 1228.3 L454.3 1229.1 L453.6 1229.9 L452.3 1230.8 L450.6 1231.6 L448.9 1232.4 L447.3 1233.2 L446.3 1234 L445.7 1234.7 L445.4 1235.4 L445.2 1236.1 L445.2 1236.8 L445.4 1237.5 L445.8 1238.1 L446.5 1238.7 L447.7 1239.3 L449 1239.8 L450.2 1240.3 L451.1 1240.9 L451.3 1241.6 L450.7 1242.3 L449.4 1243.2 L447.7 1244 L445.9 1244.9 L444.4 1245.7 L443.3 1246.6 L442.7 1247.4 L442.3 1248.3 L442.1 1249.1 L442.1 1249.9 L442.2 1250.8 L442.5 1251.6 L443 1252.4 L443.8 1253.2 L444.7 1254.1 L445.6 1254.9 L446.4 1255.7 L446.9 1256.6 L447.2 1257.5 L447.4 1258.5 L447.4 1259.4 L447.3 1260.4 L447.1 1261.3 L446.7 1262.1 L446.1 1262.9 L445.3 1263.7 L444.4 1264.5 L443.4 1265.1 L442.4 1265.6 L441.3 1265.8 L440.2 1265.8 L438.9 1265.5 L437.7 1265.1 L436.4 1264.5 L435.3 1263.8 L434.3 1263.1 L433.5 1262.2 L432.8 1261.2 L432.2 1260 L431.7 1258.8 L431.3 1257.6 L431.1 1256.6 L431.1 1255.7 L431.4 1254.8 L431.7 1254 L432.1 1253.2 L432.3 1252.4 L432.3 1251.6 L431.9 1250.8 L431.3 1249.9 L430.6 1249 L429.8 1248.2 L429.1 1247.4 L428.6 1246.6 L428.2 1245.9 L427.9 1245.2 L427.7 1244.5 L427.6 1243.9 L427.7 1243.3 L428.1 1242.6 L428.9 1241.9 L430 1241.2 L431.4 1240.5 L432.8 1239.7 L434 1239.1 L434.9 1238.4 L435.5 1237.8 L435.9 1237.2 L436.1 1236.7 L436.2 1236.2 L436.1 1235.6 L435.9 1235 L435.4 1234.3 L434.6 1233.6 L433.6 1232.9 L432.6 1232.2 L431.7 1231.5 L431.1 1230.8 L430.7 1230.2 L430.3 1229.6 L430.1 1229.1 L430 1228.5 L430.2 1228 L430.7 1227.4 L431.6 1226.8 L433 1226.2 L434.6 1225.6 L436.3 1225 L437.7 1224.4 L438.7 1223.8 L439.3 1223.2 L439.6 1222.7 L439.7 1222.2 L439.7 1221.6 L439.5 1221.1 L439.1 1220.6 L438.4 1220.1 L437.5 1219.5 L436.3 1219 L435.1 1218.5 L434.2 1218 L433.6 1217.5 L433.3 1217 L433.3 1216.5 L433.4 1216.1 L433.7 1215.6 L434.2 1215.2 L434.9 1214.8 L436 1214.4 L437.4 1214 L439.1 1213.6 L440.7 1213.2 L442.1 1212.9 L443.1 1212.7" fill="none" stroke="#e9c6bd" stroke-width="1.8" stroke-linecap="round" stroke-linejoin="round"/>
<path d="M193 1288.3 L196.4 1287.6 L199.9 1286.9 L203.4 1286.3 L206.8 1285.6 L210.3 1285 L213.7 1284.4 L217.2 1283.7 L220.7 1283.2 L224.1 1282.6 L227.6 1282 L231.1 1281.5 L234.6 1281 L238 1280.5 L241.5 1280 L245 1279.5 L248.5 1279 L252 1278.6 L255.5 1278.1 L259 1277.7 L262.5 1277.3 L266 1276.9 L269.4 1276.6 L272.9 1276.2 L276.4 1275.9 L280 1275.5 L283.5 1275.2 L287 1275 L290.5 1274.7 L294 1274.4 L297.5 1274.2 L301 1273.9 L304.5 1273.7 L308 1273.5 L311.5 1273.4 L315 1273.2 L318.6 1273 L322.1 1272.9 L325.6 1272.8 L329.1 1272.7 L332.6 1272.6 L336.1 1272.5 L339.6 1272.5 L343.2 1272.4 L346.7 1272.4 L350.2 1272.4 L353.7 1272.4 L357.2 1272.4 L360.8 1272.5 L364.3 1272.5 L367.8 1272.6 L371.3 1272.7 L374.8 1272.8 L378.3 1272.9 L381.8 1273 L385.4 1273.2 L388.9 1273.4 L392.4 1273.5 L395.9 1273.7 L399.4 1273.9 L402.9 1274.2 L406.4 1274.4 L409.9 1274.7 L413.4 1275 L416.9 1275.2 L420.4 1275.5 L424 1275.9 L427.5 1276.2 L431 1276.6 L434.4 1276.9 L437.9 1277.3 L441.4 1277.7 L444.9 1278.1 L448.4 1278.6 L451.9 1279 L455.4 1279.5 L458.9 1280 L462.4 1280.5 L465.8 1281 L469.3 1281.5 L472.8 1282 L476.3 1282.6 L479.7 1283.2 L483.2 1283.7 L486.7 1284.4 L490.1 1285 L493.6 1285.6 L497 1286.3 L500.5 1286.9 L504 1287.6 L507.4 1288.3" fill="none" stroke="#7a7c7f" stroke-width="15.6"/>
<path d="M193 1288.3 L196.4 1287.6 L199.9 1286.9 L203.4 1286.3 L206.8 1285.6 L210.3 1285 L213.7 1284.4 L217.2 1283.7 L220.7 1283.2 L224.1 1282.6 L227.6 1282 L231.1 1281.5 L234.6 1281 L238 1280.5 L241.5 1280 L245 1279.5 L248.5 1279 L252 1278.6 L255.5 1278.1 L259 1277.7 L262.5 1277.3 L266 1276.9 L269.4 1276.6 L272.9 1276.2 L276.4 1275.9 L280 1275.5 L283.5 1275.2 L287 1275 L290.5 1274.7 L294 1274.4 L297.5 1274.2 L301 1273.9 L304.5 1273.7 L308 1273.5 L311.5 1273.4 L315 1273.2 L318.6 1273 L322.1 1272.9 L325.6 1272.8 L329.1 1272.7 L332.6 1272.6 L336.1 1272.5 L339.6 1272.5 L343.2 1272.4 L346.7 1272.4 L350.2 1272.4 L353.7 1272.4 L357.2 1272.4 L360.8 1272.5 L364.3 1272.5 L367.8 1272.6 L371.3 1272.7 L374.8 1272.8 L378.3 1272.9 L381.8 1273 L385.4 1273.2 L388.9 1273.4 L392.4 1273.5 L395.9 1273.7 L399.4 1273.9 L402.9 1274.2 L406.4 1274.4 L409.9 1274.7 L413.4 1275 L416.9 1275.2 L420.4 1275.5 L424 1275.9 L427.5 1276.2 L431 1276.6 L434.4 1276.9 L437.9 1277.3 L441.4 1277.7 L444.9 1278.1 L448.4 1278.6 L451.9 1279 L455.4 1279.5 L458.9 1280 L462.4 1280.5 L465.8 1281 L469.3 1281.5 L472.8 1282 L476.3 1282.6 L479.7 1283.2 L483.2 1283.7 L486.7 1284.4 L490.1 1285 L493.6 1285.6 L497 1286.3 L500.5 1286.9 L504 1287.6 L507.4 1288.3" fill="none" stroke="#9c9ea1" stroke-width="11"/>
<path d="M193 1288.3 L196.4 1287.6 L199.9 1286.9 L203.4 1286.3 L206.8 1285.6 L210.3 1285 L213.7 1284.4 L217.2 1283.7 L220.7 1283.2 L224.1 1282.6 L227.6 1282 L231.1 1281.5 L234.6 1281 L238 1280.5 L241.5 1280 L245 1279.5 L248.5 1279 L252 1278.6 L255.5 1278.1 L259 1277.7 L262.5 1277.3 L266 1276.9 L269.4 1276.6 L272.9 1276.2 L276.4 1275.9 L280 1275.5 L283.5 1275.2 L287 1275 L290.5 1274.7 L294 1274.4 L297.5 1274.2 L301 1273.9 L304.5 1273.7 L308 1273.5 L311.5 1273.4 L315 1273.2 L318.6 1273 L322.1 1272.9 L325.6 1272.8 L329.1 1272.7 L332.6 1272.6 L336.1 1272.5 L339.6 1272.5 L343.2 1272.4 L346.7 1272.4 L350.2 1272.4 L353.7 1272.4 L357.2 1272.4 L360.8 1272.5 L364.3 1272.5 L367.8 1272.6 L371.3 1272.7 L374.8 1272.8 L378.3 1272.9 L381.8 1273 L385.4 1273.2 L388.9 1273.4 L392.4 1273.5 L395.9 1273.7 L399.4 1273.9 L402.9 1274.2 L406.4 1274.4 L409.9 1274.7 L413.4 1275 L416.9 1275.2 L420.4 1275.5 L424 1275.9 L427.5 1276.2 L431 1276.6 L434.4 1276.9 L437.9 1277.3 L441.4 1277.7 L444.9 1278.1 L448.4 1278.6 L451.9 1279 L455.4 1279.5 L458.9 1280 L462.4 1280.5 L465.8 1281 L469.3 1281.5 L472.8 1282 L476.3 1282.6 L479.7 1283.2 L483.2 1283.7 L486.7 1284.4 L490.1 1285 L493.6 1285.6 L497 1286.3 L500.5 1286.9 L504 1287.6 L507.4 1288.3" fill="none" stroke="#e9eaeb" stroke-width="11" stroke-dasharray="2.7 2.4"/>
<path d="M193 1288.3 L196.4 1287.6 L199.9 1286.9 L203.4 1286.3 L206.8 1285.6 L210.3 1285 L213.7 1284.4 L217.2 1283.7 L220.7 1283.2 L224.1 1282.6 L227.6 1282 L231.1 1281.5 L234.6 1281 L238 1280.5 L241.5 1280 L245 1279.5 L248.5 1279 L252 1278.6 L255.5 1278.1 L259 1277.7 L262.5 1277.3 L266 1276.9 L269.4 1276.6 L272.9 1276.2 L276.4 1275.9 L280 1275.5 L283.5 1275.2 L287 1275 L290.5 1274.7 L294 1274.4 L297.5 1274.2 L301 1273.9 L304.5 1273.7 L308 1273.5 L311.5 1273.4 L315 1273.2 L318.6 1273 L322.1 1272.9 L325.6 1272.8 L329.1 1272.7 L332.6 1272.6 L336.1 1272.5 L339.6 1272.5 L343.2 1272.4 L346.7 1272.4 L350.2 1272.4 L353.7 1272.4 L357.2 1272.4 L360.8 1272.5 L364.3 1272.5 L367.8 1272.6 L371.3 1272.7 L374.8 1272.8 L378.3 1272.9 L381.8 1273 L385.4 1273.2 L388.9 1273.4 L392.4 1273.5 L395.9 1273.7 L399.4 1273.9 L402.9 1274.2 L406.4 1274.4 L409.9 1274.7 L413.4 1275 L416.9 1275.2 L420.4 1275.5 L424 1275.9 L427.5 1276.2 L431 1276.6 L434.4 1276.9 L437.9 1277.3 L441.4 1277.7 L444.9 1278.1 L448.4 1278.6 L451.9 1279 L455.4 1279.5 L458.9 1280 L462.4 1280.5 L465.8 1281 L469.3 1281.5 L472.8 1282 L476.3 1282.6 L479.7 1283.2 L483.2 1283.7 L486.7 1284.4 L490.1 1285 L493.6 1285.6 L497 1286.3 L500.5 1286.9 L504 1287.6 L507.4 1288.3" fill="none" stroke="#a4a6a8" stroke-width="1" opacity=".4"/>
<path d="M191.6 1281.3 L195.1 1280.6 L198.5 1280 L202 1279.3 L205.5 1278.6 L209 1278 L212.5 1277.4 L216 1276.8 L219.5 1276.2 L223 1275.6 L226.5 1275 L230 1274.5 L233.5 1273.9 L237 1273.4 L240.5 1272.9 L244.1 1272.4 L247.6 1272 L251.1 1271.5 L254.6 1271.1 L258.1 1270.7 L261.7 1270.3 L265.2 1269.9 L268.7 1269.5 L272.3 1269.1 L275.8 1268.8 L279.3 1268.5 L282.9 1268.2 L286.4 1267.9 L289.9 1267.6 L293.5 1267.3 L297 1267.1 L300.5 1266.9 L304.1 1266.6 L307.6 1266.4 L311.2 1266.3 L314.7 1266.1 L318.3 1265.9 L321.8 1265.8 L325.4 1265.7 L328.9 1265.6 L332.5 1265.5 L336 1265.4 L339.6 1265.4 L343.1 1265.3 L346.7 1265.3 L350.2 1265.3 L353.7 1265.3 L357.3 1265.3 L360.8 1265.4 L364.4 1265.4 L367.9 1265.5 L371.5 1265.6 L375 1265.7 L378.6 1265.8 L382.1 1265.9 L385.7 1266.1 L389.2 1266.3 L392.8 1266.4 L396.3 1266.6 L399.9 1266.9 L403.4 1267.1 L406.9 1267.3 L410.5 1267.6 L414 1267.9 L417.5 1268.2 L421.1 1268.5 L424.6 1268.8 L428.1 1269.1 L431.7 1269.5 L435.2 1269.9 L438.7 1270.3 L442.3 1270.7 L445.8 1271.1 L449.3 1271.5 L452.8 1272 L456.3 1272.4 L459.9 1272.9 L463.4 1273.4 L466.9 1273.9 L470.4 1274.5 L473.9 1275 L477.4 1275.6 L480.9 1276.2 L484.4 1276.8 L487.9 1277.4 L491.4 1278 L494.9 1278.6 L498.4 1279.3 L501.9 1280 L505.3 1280.6 L508.8 1281.3" fill="none" stroke="#7a7c7f" stroke-width="3.8" stroke-linecap="round" stroke-dasharray="0.01 5.1"/>
<path d="M194.4 1295.3 L197.8 1294.6 L201.3 1293.9 L204.7 1293.2 L208.1 1292.6 L211.5 1292 L215 1291.3 L218.4 1290.7 L221.8 1290.2 L225.3 1289.6 L228.7 1289 L232.2 1288.5 L235.6 1288 L239.1 1287.5 L242.5 1287 L246 1286.5 L249.4 1286.1 L252.9 1285.6 L256.3 1285.2 L259.8 1284.8 L263.2 1284.4 L266.7 1284 L270.2 1283.6 L273.6 1283.3 L277.1 1282.9 L280.6 1282.6 L284.1 1282.3 L287.5 1282 L291 1281.8 L294.5 1281.5 L298 1281.3 L301.4 1281 L304.9 1280.8 L308.4 1280.6 L311.9 1280.4 L315.4 1280.3 L318.8 1280.1 L322.3 1280 L325.8 1279.9 L329.3 1279.8 L332.8 1279.7 L336.3 1279.6 L339.7 1279.6 L343.2 1279.5 L346.7 1279.5 L350.2 1279.5 L353.7 1279.5 L357.2 1279.5 L360.7 1279.6 L364.1 1279.6 L367.6 1279.7 L371.1 1279.8 L374.6 1279.9 L378.1 1280 L381.6 1280.1 L385 1280.3 L388.5 1280.4 L392 1280.6 L395.5 1280.8 L399 1281 L402.4 1281.3 L405.9 1281.5 L409.4 1281.8 L412.9 1282 L416.3 1282.3 L419.8 1282.6 L423.3 1282.9 L426.8 1283.3 L430.2 1283.6 L433.7 1284 L437.2 1284.4 L440.6 1284.8 L444.1 1285.2 L447.5 1285.6 L451 1286.1 L454.4 1286.5 L457.9 1287 L461.3 1287.5 L464.8 1288 L468.2 1288.5 L471.7 1289 L475.1 1289.6 L478.6 1290.2 L482 1290.7 L485.4 1291.3 L488.9 1292 L492.3 1292.6 L495.7 1293.2 L499.1 1293.9 L502.6 1294.6 L506 1295.3" fill="none" stroke="#7a7c7f" stroke-width="3.8" stroke-linecap="round" stroke-dasharray="0.01 5.1"/>
<path d="M261.2 1269 l2.4 1.8 l-2.6 2 l3 1.9 l-1.8 2.2" fill="none" stroke="#111" stroke-width="1.7"/>
<path d="M437 1269 l2.4 1.8 l-2.6 2 l3 1.9 l-1.8 2.2" fill="none" stroke="#111" stroke-width="1.7"/>
<path d="M211.3 1228.5 L211.9 1228.8 L212.8 1229.1 L213.8 1229.5 L214.9 1229.9 L216.2 1230.4 L217.4 1230.9 L218.6 1231.4 L219.7 1231.9 L220.6 1232.4 L221.4 1232.9 L222 1233.4 L222.6 1233.8 L223.1 1234.2 L223.6 1234.6 L224 1235.1 L224.3 1235.6 L224.5 1236.1 L224.6 1236.6 L224.7 1237.3 L224.6 1238 L224.4 1238.8 L223.9 1239.8 L223.3 1240.8 L222.6 1241.9 L221.8 1243 L221 1244.1 L220.3 1245.2 L219.7 1246.2 L219.2 1247.2 L218.9 1248.1 L218.8 1248.9 L218.8 1249.6 L218.8 1250.3 L219 1251 L219.2 1251.6 L219.5 1252.1 L219.9 1252.7 L220.4 1253.3 L220.9 1253.8 L221.4 1254.4 L222.1 1255 L222.9 1255.5 L223.8 1256 L224.8 1256.5 L225.8 1257 L226.9 1257.4 L227.9 1257.9 L228.8 1258.4 L229.6 1258.9 L230.3 1259.5 L230.8 1260.1 L231.3 1260.7 L231.7 1261.3 L232.1 1261.9 L232.3 1262.5 L232.6 1263.1 L232.7 1263.8 L232.8 1264.4 L232.8 1265.1 L232.8 1265.8 L232.6 1266.5 L232.3 1267.2 L231.9 1267.9 L231.4 1268.7 L230.9 1269.4 L230.4 1270.2 L229.9 1271 L229.5 1271.8 L229.2 1272.6 L229 1273.4 L229 1274.2 L229.1 1275.1 L229.2 1276 L229.5 1276.8 L229.7 1277.7 L230.1 1278.6 L230.4 1279.6 L230.8 1280.5 L231.1 1281.4 L231.5 1282.3 L231.9 1283.3 L232.3 1284.3 L232.8 1285.4 L233.4 1286.5 L233.9 1287.6 L234.4 1288.6 L234.9 1289.6 L235.4 1290.4 L235.7 1291.1 L236 1291.7" fill="none" stroke="#571012" stroke-width="3.7" stroke-linecap="round" stroke-linejoin="round"/>
<path d="M211.3 1228.5 L211.9 1228.8 L212.8 1229.1 L213.8 1229.5 L214.9 1229.9 L216.2 1230.4 L217.4 1230.9 L218.6 1231.4 L219.7 1231.9 L220.6 1232.4 L221.4 1232.9 L222 1233.4 L222.6 1233.8 L223.1 1234.2 L223.6 1234.6 L224 1235.1 L224.3 1235.6 L224.5 1236.1 L224.6 1236.6 L224.7 1237.3 L224.6 1238 L224.4 1238.8 L223.9 1239.8 L223.3 1240.8 L222.6 1241.9 L221.8 1243 L221 1244.1 L220.3 1245.2 L219.7 1246.2 L219.2 1247.2 L218.9 1248.1 L218.8 1248.9 L218.8 1249.6 L218.8 1250.3 L219 1251 L219.2 1251.6 L219.5 1252.1 L219.9 1252.7 L220.4 1253.3 L220.9 1253.8 L221.4 1254.4 L222.1 1255 L222.9 1255.5 L223.8 1256 L224.8 1256.5 L225.8 1257 L226.9 1257.4 L227.9 1257.9 L228.8 1258.4 L229.6 1258.9 L230.3 1259.5 L230.8 1260.1 L231.3 1260.7 L231.7 1261.3 L232.1 1261.9 L232.3 1262.5 L232.6 1263.1 L232.7 1263.8 L232.8 1264.4 L232.8 1265.1 L232.8 1265.8 L232.6 1266.5 L232.3 1267.2 L231.9 1267.9 L231.4 1268.7 L230.9 1269.4 L230.4 1270.2 L229.9 1271 L229.5 1271.8 L229.2 1272.6 L229 1273.4 L229 1274.2 L229.1 1275.1 L229.2 1276 L229.5 1276.8 L229.7 1277.7 L230.1 1278.6 L230.4 1279.6 L230.8 1280.5 L231.1 1281.4 L231.5 1282.3 L231.9 1283.3 L232.3 1284.3 L232.8 1285.4 L233.4 1286.5 L233.9 1287.6 L234.4 1288.6 L234.9 1289.6 L235.4 1290.4 L235.7 1291.1 L236 1291.7" fill="none" stroke="#b8262b" stroke-width="1.8" stroke-linecap="round" stroke-linejoin="round"/>
<path d="M188.6 1234.5 L189.2 1234.8 L190.1 1235.1 L191.1 1235.5 L192.2 1235.9 L193.5 1236.4 L194.7 1236.9 L195.9 1237.4 L197 1237.9 L197.9 1238.4 L198.7 1238.9 L199.3 1239.4 L199.9 1239.8 L200.4 1240.2 L200.9 1240.6 L201.3 1241.1 L201.6 1241.6 L201.8 1242.1 L201.9 1242.6 L202 1243.3 L201.9 1244 L201.7 1244.8 L201.2 1245.8 L200.6 1246.8 L199.9 1247.9 L199.1 1249 L198.3 1250.1 L197.6 1251.2 L197 1252.2 L196.5 1253.2 L196.2 1254.1 L196.1 1254.9 L196.1 1255.6 L196.1 1256.3 L196.3 1257 L196.5 1257.6 L196.8 1258.1 L197.2 1258.7 L197.7 1259.3 L198.2 1259.8 L198.7 1260.4 L199.4 1261 L200.2 1261.5 L201.1 1262 L202.1 1262.5 L203.1 1263 L204.2 1263.4 L205.2 1263.9 L206.1 1264.4 L206.9 1264.9 L207.6 1265.5 L208.1 1266.1 L208.6 1266.7 L209 1267.3 L209.4 1267.9 L209.6 1268.5 L209.9 1269.1 L210 1269.8 L210.1 1270.4 L210.1 1271.1 L210.1 1271.8 L209.9 1272.5 L209.6 1273.2 L209.2 1273.9 L208.7 1274.7 L208.2 1275.4 L207.7 1276.2 L207.2 1277 L206.8 1277.8 L206.5 1278.6 L206.3 1279.4 L206.3 1280.2 L206.4 1281.1 L206.5 1282 L206.8 1282.8 L207 1283.7 L207.4 1284.6 L207.7 1285.6 L208.1 1286.5 L208.4 1287.4 L208.8 1288.3 L209.2 1289.3 L209.6 1290.3 L210.1 1291.4 L210.7 1292.5 L211.2 1293.6 L211.7 1294.6 L212.2 1295.6 L212.7 1296.4 L213 1297.1 L213.3 1297.7" fill="none" stroke="#6f4413" stroke-width="3.7" stroke-linecap="round" stroke-linejoin="round"/>
<path d="M188.6 1234.5 L189.2 1234.8 L190.1 1235.1 L191.1 1235.5 L192.2 1235.9 L193.5 1236.4 L194.7 1236.9 L195.9 1237.4 L197 1237.9 L197.9 1238.4 L198.7 1238.9 L199.3 1239.4 L199.9 1239.8 L200.4 1240.2 L200.9 1240.6 L201.3 1241.1 L201.6 1241.6 L201.8 1242.1 L201.9 1242.6 L202 1243.3 L201.9 1244 L201.7 1244.8 L201.2 1245.8 L200.6 1246.8 L199.9 1247.9 L199.1 1249 L198.3 1250.1 L197.6 1251.2 L197 1252.2 L196.5 1253.2 L196.2 1254.1 L196.1 1254.9 L196.1 1255.6 L196.1 1256.3 L196.3 1257 L196.5 1257.6 L196.8 1258.1 L197.2 1258.7 L197.7 1259.3 L198.2 1259.8 L198.7 1260.4 L199.4 1261 L200.2 1261.5 L201.1 1262 L202.1 1262.5 L203.1 1263 L204.2 1263.4 L205.2 1263.9 L206.1 1264.4 L206.9 1264.9 L207.6 1265.5 L208.1 1266.1 L208.6 1266.7 L209 1267.3 L209.4 1267.9 L209.6 1268.5 L209.9 1269.1 L210 1269.8 L210.1 1270.4 L210.1 1271.1 L210.1 1271.8 L209.9 1272.5 L209.6 1273.2 L209.2 1273.9 L208.7 1274.7 L208.2 1275.4 L207.7 1276.2 L207.2 1277 L206.8 1277.8 L206.5 1278.6 L206.3 1279.4 L206.3 1280.2 L206.4 1281.1 L206.5 1282 L206.8 1282.8 L207 1283.7 L207.4 1284.6 L207.7 1285.6 L208.1 1286.5 L208.4 1287.4 L208.8 1288.3 L209.2 1289.3 L209.6 1290.3 L210.1 1291.4 L210.7 1292.5 L211.2 1293.6 L211.7 1294.6 L212.2 1295.6 L212.7 1296.4 L213 1297.1 L213.3 1297.7" fill="none" stroke="#dd9634" stroke-width="1.8" stroke-linecap="round" stroke-linejoin="round"/>
<path d="M489.5 1228.5 L488.9 1228.8 L488 1229.1 L487 1229.5 L485.9 1229.9 L484.7 1230.4 L483.4 1230.9 L482.2 1231.4 L481.1 1231.9 L480.2 1232.4 L479.4 1232.9 L478.8 1233.4 L478.2 1233.8 L477.7 1234.2 L477.2 1234.6 L476.8 1235.1 L476.5 1235.6 L476.3 1236.1 L476.2 1236.6 L476.1 1237.3 L476.2 1238 L476.4 1238.8 L476.9 1239.8 L477.5 1240.8 L478.2 1241.9 L479 1243 L479.8 1244.1 L480.5 1245.2 L481.1 1246.2 L481.6 1247.2 L481.9 1248.1 L482 1248.9 L482 1249.6 L482 1250.3 L481.8 1251 L481.6 1251.6 L481.3 1252.1 L480.9 1252.7 L480.4 1253.3 L479.9 1253.8 L479.4 1254.4 L478.7 1255 L477.9 1255.5 L477 1256 L476 1256.5 L474.9 1257 L473.9 1257.4 L472.9 1257.9 L472 1258.4 L471.2 1258.9 L470.5 1259.5 L470 1260.1 L469.5 1260.7 L469.1 1261.3 L468.7 1261.9 L468.5 1262.5 L468.2 1263.1 L468.1 1263.8 L468 1264.4 L468 1265.1 L468 1265.8 L468.2 1266.5 L468.5 1267.2 L468.9 1267.9 L469.4 1268.7 L469.9 1269.4 L470.4 1270.2 L470.9 1271 L471.3 1271.8 L471.6 1272.6 L471.8 1273.4 L471.8 1274.2 L471.7 1275.1 L471.6 1276 L471.3 1276.8 L471.1 1277.7 L470.7 1278.6 L470.4 1279.6 L470 1280.5 L469.7 1281.4 L469.3 1282.3 L468.9 1283.3 L468.5 1284.3 L468 1285.4 L467.4 1286.5 L466.9 1287.6 L466.4 1288.6 L465.9 1289.6 L465.4 1290.4 L465.1 1291.1 L464.8 1291.7" fill="none" stroke="#571012" stroke-width="3.7" stroke-linecap="round" stroke-linejoin="round"/>
<path d="M489.5 1228.5 L488.9 1228.8 L488 1229.1 L487 1229.5 L485.9 1229.9 L484.7 1230.4 L483.4 1230.9 L482.2 1231.4 L481.1 1231.9 L480.2 1232.4 L479.4 1232.9 L478.8 1233.4 L478.2 1233.8 L477.7 1234.2 L477.2 1234.6 L476.8 1235.1 L476.5 1235.6 L476.3 1236.1 L476.2 1236.6 L476.1 1237.3 L476.2 1238 L476.4 1238.8 L476.9 1239.8 L477.5 1240.8 L478.2 1241.9 L479 1243 L479.8 1244.1 L480.5 1245.2 L481.1 1246.2 L481.6 1247.2 L481.9 1248.1 L482 1248.9 L482 1249.6 L482 1250.3 L481.8 1251 L481.6 1251.6 L481.3 1252.1 L480.9 1252.7 L480.4 1253.3 L479.9 1253.8 L479.4 1254.4 L478.7 1255 L477.9 1255.5 L477 1256 L476 1256.5 L474.9 1257 L473.9 1257.4 L472.9 1257.9 L472 1258.4 L471.2 1258.9 L470.5 1259.5 L470 1260.1 L469.5 1260.7 L469.1 1261.3 L468.7 1261.9 L468.5 1262.5 L468.2 1263.1 L468.1 1263.8 L468 1264.4 L468 1265.1 L468 1265.8 L468.2 1266.5 L468.5 1267.2 L468.9 1267.9 L469.4 1268.7 L469.9 1269.4 L470.4 1270.2 L470.9 1271 L471.3 1271.8 L471.6 1272.6 L471.8 1273.4 L471.8 1274.2 L471.7 1275.1 L471.6 1276 L471.3 1276.8 L471.1 1277.7 L470.7 1278.6 L470.4 1279.6 L470 1280.5 L469.7 1281.4 L469.3 1282.3 L468.9 1283.3 L468.5 1284.3 L468 1285.4 L467.4 1286.5 L466.9 1287.6 L466.4 1288.6 L465.9 1289.6 L465.4 1290.4 L465.1 1291.1 L464.8 1291.7" fill="none" stroke="#b8262b" stroke-width="1.8" stroke-linecap="round" stroke-linejoin="round"/>
<path d="M512.2 1234.5 L511.6 1234.8 L510.7 1235.1 L509.7 1235.5 L508.6 1235.9 L507.3 1236.4 L506.1 1236.9 L504.9 1237.4 L503.8 1237.9 L502.9 1238.4 L502.1 1238.9 L501.5 1239.4 L500.9 1239.8 L500.4 1240.2 L499.9 1240.6 L499.5 1241.1 L499.2 1241.6 L499 1242.1 L498.9 1242.6 L498.8 1243.3 L498.9 1244 L499.1 1244.8 L499.6 1245.8 L500.2 1246.8 L500.9 1247.9 L501.7 1249 L502.5 1250.1 L503.2 1251.2 L503.8 1252.2 L504.3 1253.2 L504.6 1254.1 L504.7 1254.9 L504.7 1255.6 L504.7 1256.3 L504.5 1257 L504.3 1257.6 L504 1258.1 L503.6 1258.7 L503.1 1259.3 L502.6 1259.8 L502.1 1260.4 L501.4 1261 L500.6 1261.5 L499.7 1262 L498.7 1262.5 L497.6 1263 L496.6 1263.4 L495.6 1263.9 L494.7 1264.4 L493.9 1264.9 L493.2 1265.5 L492.7 1266.1 L492.2 1266.7 L491.8 1267.3 L491.4 1267.9 L491.2 1268.5 L490.9 1269.1 L490.8 1269.8 L490.7 1270.4 L490.7 1271.1 L490.7 1271.8 L490.9 1272.5 L491.2 1273.2 L491.6 1273.9 L492.1 1274.7 L492.6 1275.4 L493.1 1276.2 L493.6 1277 L494 1277.8 L494.3 1278.6 L494.5 1279.4 L494.5 1280.2 L494.4 1281.1 L494.3 1282 L494 1282.8 L493.8 1283.7 L493.4 1284.6 L493.1 1285.6 L492.7 1286.5 L492.4 1287.4 L492 1288.3 L491.6 1289.3 L491.2 1290.3 L490.7 1291.4 L490.1 1292.5 L489.6 1293.6 L489.1 1294.6 L488.6 1295.6 L488.1 1296.4 L487.8 1297.1 L487.5 1297.7" fill="none" stroke="#6f4413" stroke-width="3.7" stroke-linecap="round" stroke-linejoin="round"/>
<path d="M512.2 1234.5 L511.6 1234.8 L510.7 1235.1 L509.7 1235.5 L508.6 1235.9 L507.3 1236.4 L506.1 1236.9 L504.9 1237.4 L503.8 1237.9 L502.9 1238.4 L502.1 1238.9 L501.5 1239.4 L500.9 1239.8 L500.4 1240.2 L499.9 1240.6 L499.5 1241.1 L499.2 1241.6 L499 1242.1 L498.9 1242.6 L498.8 1243.3 L498.9 1244 L499.1 1244.8 L499.6 1245.8 L500.2 1246.8 L500.9 1247.9 L501.7 1249 L502.5 1250.1 L503.2 1251.2 L503.8 1252.2 L504.3 1253.2 L504.6 1254.1 L504.7 1254.9 L504.7 1255.6 L504.7 1256.3 L504.5 1257 L504.3 1257.6 L504 1258.1 L503.6 1258.7 L503.1 1259.3 L502.6 1259.8 L502.1 1260.4 L501.4 1261 L500.6 1261.5 L499.7 1262 L498.7 1262.5 L497.6 1263 L496.6 1263.4 L495.6 1263.9 L494.7 1264.4 L493.9 1264.9 L493.2 1265.5 L492.7 1266.1 L492.2 1266.7 L491.8 1267.3 L491.4 1267.9 L491.2 1268.5 L490.9 1269.1 L490.8 1269.8 L490.7 1270.4 L490.7 1271.1 L490.7 1271.8 L490.9 1272.5 L491.2 1273.2 L491.6 1273.9 L492.1 1274.7 L492.6 1275.4 L493.1 1276.2 L493.6 1277 L494 1277.8 L494.3 1278.6 L494.5 1279.4 L494.5 1280.2 L494.4 1281.1 L494.3 1282 L494 1282.8 L493.8 1283.7 L493.4 1284.6 L493.1 1285.6 L492.7 1286.5 L492.4 1287.4 L492 1288.3 L491.6 1289.3 L491.2 1290.3 L490.7 1291.4 L490.1 1292.5 L489.6 1293.6 L489.1 1294.6 L488.6 1295.6 L488.1 1296.4 L487.8 1297.1 L487.5 1297.7" fill="none" stroke="#dd9634" stroke-width="1.8" stroke-linecap="round" stroke-linejoin="round"/>
</svg>
</body></html>
